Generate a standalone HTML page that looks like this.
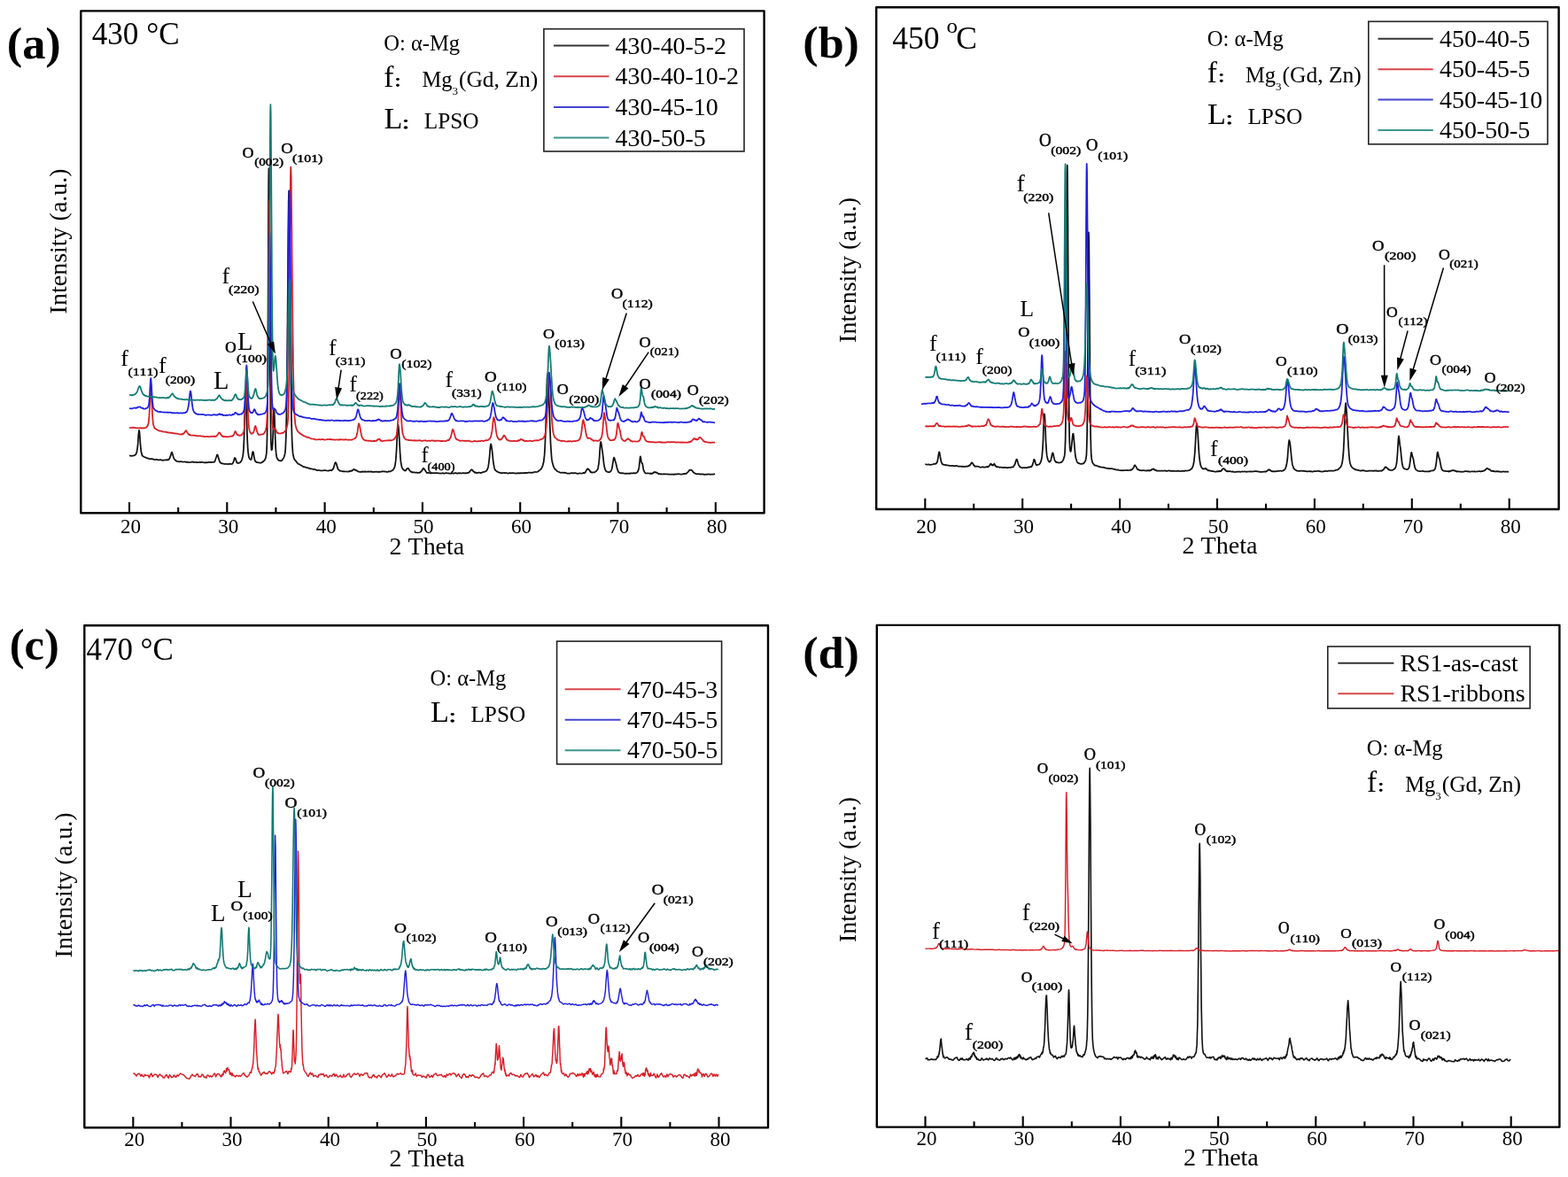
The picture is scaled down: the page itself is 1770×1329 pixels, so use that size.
<!DOCTYPE html>
<html><head><meta charset="utf-8"><title>XRD patterns</title>
<style>html,body{margin:0;padding:0;background:#fff;}svg{display:block;}text{font-kerning:none;}.s{stroke:#000;stroke-width:0.45px;}</style>
</head><body>
<svg width="1770" height="1329" viewBox="0 0 1770 1329" font-family="'Liberation Serif','Times New Roman',serif">
<rect width="1770" height="1329" fill="#fff"/>
<polyline fill="none" stroke="#111" stroke-width="1.75" stroke-linejoin="round" points="146.0,514.4 147.0,514.5 148.0,514.9 149.0,514.7 150.0,514.6 151.0,514.5 152.0,513.9 152.9,513.4 152.9,513.5 153.2,513.4 153.6,512.4 153.9,511.7 153.9,511.5 154.3,510.9 154.6,509.5 154.9,507.1 155.0,507.4 155.3,504.7 155.7,500.9 155.9,497.2 156.0,495.9 156.3,491.0 156.7,487.5 156.9,486.0 157.0,485.9 157.4,487.4 157.7,491.0 157.9,493.8 158.1,496.0 158.4,500.9 158.8,504.7 158.9,506.2 159.1,507.8 159.4,510.1 159.8,511.7 159.9,511.9 160.1,513.1 160.5,514.2 160.8,514.8 160.9,514.8 161.2,514.9 161.9,515.4 162.9,516.0 163.9,516.3 164.9,517.0 165.9,517.2 166.8,517.7 167.8,517.7 168.8,518.2 169.8,518.4 170.8,518.0 171.8,518.1 172.8,518.6 173.8,518.7 174.8,519.1 175.8,519.0 176.8,518.7 177.8,519.1 178.8,519.4 179.8,519.3 180.7,519.1 181.7,519.2 182.7,519.7 183.7,519.9 184.7,519.5 185.7,519.5 186.7,519.3 187.7,519.2 188.7,519.5 189.0,519.3 189.4,519.3 189.7,519.3 189.8,519.0 190.3,519.1 190.7,518.5 191.1,518.2 191.5,517.3 191.7,517.0 191.9,516.3 192.3,515.1 192.7,514.4 192.7,514.2 193.2,512.4 193.6,511.4 193.6,510.9 194.0,510.6 194.4,511.4 194.6,512.1 194.8,512.3 195.2,514.3 195.6,515.5 196.0,516.7 196.5,518.0 196.6,518.2 196.9,518.5 197.3,518.9 197.6,519.1 197.7,519.5 198.1,519.7 198.5,520.2 198.6,520.1 198.9,520.3 199.6,520.9 200.6,521.0 201.6,521.2 202.6,521.5 203.6,521.2 204.6,521.1 205.6,521.5 206.6,521.7 207.5,521.5 208.5,521.3 209.5,521.6 210.5,521.9 211.5,521.6 212.5,522.0 213.5,522.1 214.5,522.0 215.5,521.9 216.5,521.6 217.5,521.4 218.5,522.0 219.5,521.8 220.5,522.0 221.4,521.8 222.4,522.1 223.4,522.2 224.4,522.0 225.4,521.8 226.4,522.1 227.4,521.8 228.4,521.8 229.4,522.0 230.4,522.3 231.4,522.3 232.4,522.1 233.4,522.4 234.4,522.1 235.3,521.9 236.3,521.9 237.3,522.1 238.3,521.9 239.3,521.8 240.3,521.8 240.7,521.9 241.1,521.5 241.3,521.5 241.5,521.7 242.0,521.7 242.3,521.2 242.4,521.1 242.8,520.3 243.2,519.0 243.3,518.6 243.6,517.4 244.0,516.5 244.3,515.7 244.4,515.4 244.9,513.7 245.3,513.4 245.7,513.9 246.1,515.2 246.3,515.6 246.5,516.9 246.9,517.9 247.3,519.1 247.3,519.5 247.8,520.7 248.2,521.5 248.2,521.6 248.6,522.1 249.0,522.6 249.2,522.5 249.4,522.6 249.8,523.1 250.2,523.3 251.2,523.3 252.2,523.7 253.2,523.9 254.2,523.9 255.2,524.0 256.2,523.9 257.2,524.0 258.2,524.0 259.2,523.6 260.2,523.8 261.2,524.0 261.8,523.9 262.1,523.8 262.1,523.5 262.4,523.5 262.6,523.2 262.9,522.8 263.1,522.7 263.2,522.2 263.5,521.9 263.7,520.8 264.0,520.1 264.1,519.7 264.3,518.8 264.6,518.0 264.8,517.1 265.1,516.9 265.4,517.4 265.7,517.6 266.0,518.1 266.1,518.7 266.2,519.4 266.5,520.1 266.8,520.8 267.1,521.8 267.1,522.0 267.3,522.2 267.6,522.7 267.9,522.6 268.1,522.8 268.2,522.6 268.4,522.6 269.1,522.9 270.1,522.7 271.1,522.2 272.1,520.9 273.1,519.1 273.6,517.3 273.9,515.8 274.1,515.2 274.2,514.5 274.5,512.3 274.8,509.0 275.1,506.0 275.1,504.2 275.4,497.6 275.7,489.1 276.0,478.2 276.3,465.4 276.7,452.7 277.0,443.3 277.0,441.7 277.3,439.9 277.6,443.2 277.9,451.1 278.0,456.4 278.2,461.1 278.5,472.6 278.8,484.1 279.0,491.5 279.1,493.3 279.4,500.6 279.7,505.8 280.0,509.9 280.0,509.8 280.3,512.1 280.6,514.2 280.9,515.4 281.0,516.3 282.0,518.3 282.2,518.4 282.5,518.5 282.8,518.9 283.0,518.9 283.0,519.1 283.3,518.9 283.6,518.6 283.9,518.1 284.0,517.6 284.2,516.5 284.4,515.1 284.7,513.2 285.0,511.2 285.3,510.2 285.5,510.0 285.8,510.3 286.0,510.8 286.1,511.3 286.4,513.0 286.6,514.6 286.9,516.3 287.0,516.8 287.2,517.7 287.5,519.1 287.7,520.1 288.0,520.1 288.0,520.6 288.3,521.1 288.6,521.0 288.8,521.3 288.9,521.5 289.9,522.2 290.9,522.2 291.9,522.3 292.9,522.5 293.9,522.5 294.9,522.5 295.9,521.9 296.9,521.4 297.9,520.4 298.9,519.4 299.9,517.2 300.9,511.3 300.9,510.7 301.1,507.2 301.3,502.3 301.5,493.8 301.7,480.0 301.9,469.4 302.0,458.2 302.2,427.1 302.4,386.3 302.6,337.2 302.8,283.8 302.8,266.5 303.0,235.3 303.2,201.6 303.4,190.2 303.6,199.2 303.8,221.9 303.8,226.0 304.0,253.1 304.2,290.0 304.4,330.0 304.6,370.2 304.8,405.0 304.8,407.1 305.1,437.6 305.3,461.9 305.5,479.6 305.7,491.7 305.8,497.7 305.9,499.5 306.3,506.3 306.5,508.2 306.8,508.1 306.8,507.9 307.0,507.6 307.3,506.0 307.5,503.7 307.8,499.9 307.8,498.7 308.0,494.4 308.3,487.1 308.5,478.2 308.7,469.4 308.8,468.0 309.0,463.4 309.2,461.0 309.5,463.4 309.7,468.1 309.8,469.0 310.0,473.5 310.2,480.1 310.5,487.7 310.7,494.9 310.8,496.5 311.0,500.8 311.2,506.0 311.5,509.6 311.7,512.1 311.8,512.8 312.0,514.2 312.2,515.5 312.8,517.6 313.8,519.0 314.8,519.9 315.8,520.1 316.7,520.4 317.7,520.3 318.7,519.2 319.7,518.0 320.7,515.8 321.5,512.9 321.7,511.9 321.9,510.8 322.3,506.3 322.6,498.9 322.7,497.3 323.0,487.0 323.4,468.8 323.7,450.0 323.8,441.5 324.2,404.4 324.6,359.0 324.7,345.0 325.0,309.5 325.3,262.4 325.7,232.0 325.7,228.5 326.1,215.7 326.5,227.0 326.7,237.8 326.9,257.4 327.3,300.5 327.7,348.3 328.1,393.7 328.4,431.7 328.7,449.4 328.8,460.8 329.2,481.5 329.6,495.0 329.6,496.4 330.0,503.9 330.4,509.4 330.6,511.9 330.8,512.9 331.6,516.8 332.6,519.1 333.6,520.1 334.6,521.6 335.6,522.7 336.6,523.7 337.6,524.1 338.6,524.5 339.6,525.5 340.6,525.7 341.6,526.6 342.6,527.2 343.5,527.2 344.5,527.4 345.5,528.0 346.5,528.1 347.5,528.1 348.5,528.8 349.5,528.9 350.5,529.4 351.5,529.3 352.5,529.5 353.5,530.0 354.5,529.8 355.5,530.0 356.5,530.4 357.4,530.9 358.4,531.2 359.4,530.8 360.4,531.0 361.4,531.3 362.4,531.3 363.4,531.5 364.4,531.3 365.4,531.1 366.4,531.1 367.4,531.1 368.4,531.4 369.4,531.5 370.4,531.6 371.3,531.3 372.3,531.1 373.3,530.9 373.8,531.2 374.2,531.4 374.3,531.4 374.6,530.8 375.0,530.2 375.3,530.4 375.4,530.2 375.8,529.9 376.3,528.9 376.3,528.8 376.7,527.9 377.1,526.6 377.3,525.9 377.5,524.9 377.9,523.7 378.3,522.9 378.3,522.5 378.7,522.1 379.1,522.7 379.3,522.8 379.6,523.3 380.0,524.5 380.3,525.7 380.4,525.8 380.8,527.6 381.2,528.8 381.3,529.0 381.6,529.8 382.0,530.3 382.3,530.4 382.5,530.6 382.9,530.9 383.3,531.4 383.3,531.5 383.7,531.3 384.2,531.7 385.2,532.0 386.2,532.1 387.2,532.3 388.2,532.1 389.2,532.4 390.2,532.5 391.2,532.4 392.2,532.5 393.2,532.5 394.2,532.2 394.7,532.3 395.1,531.8 395.2,531.8 395.6,531.9 396.0,531.5 396.2,531.6 396.4,531.8 396.8,531.8 397.2,531.4 397.2,531.7 397.6,531.5 398.0,530.9 398.1,530.9 398.4,530.6 398.9,530.2 399.1,529.8 399.3,530.1 399.7,530.0 400.1,530.1 400.1,530.1 400.5,530.6 400.9,530.3 401.1,530.6 401.3,531.0 401.8,531.1 402.1,531.3 402.2,531.1 402.6,531.3 403.0,531.6 403.1,531.5 403.4,531.7 403.8,532.2 404.1,532.3 404.2,532.3 404.7,532.6 405.1,532.5 406.1,532.9 407.1,532.8 408.1,532.9 409.1,532.4 410.1,532.6 411.1,532.8 412.0,532.4 413.0,532.8 414.0,532.5 415.0,532.6 416.0,532.4 417.0,532.6 418.0,532.7 419.0,532.4 420.0,532.9 421.0,532.8 422.0,532.8 423.0,532.9 424.0,532.7 424.9,532.6 425.9,532.8 426.9,532.9 427.9,532.7 428.9,532.9 429.9,532.7 430.9,532.4 431.9,532.4 432.9,532.3 433.9,532.3 434.9,532.7 435.9,532.6 436.9,532.8 437.9,532.8 438.8,532.2 439.8,532.5 440.8,532.4 441.8,531.5 442.8,531.3 443.8,530.3 444.7,529.0 444.8,529.1 445.1,528.1 445.5,527.1 445.8,526.1 445.9,525.9 446.2,523.6 446.6,520.9 446.8,519.3 447.0,516.7 447.4,510.8 447.8,504.0 448.2,495.8 448.6,487.5 448.8,483.4 448.9,481.5 449.3,479.2 449.7,481.2 449.8,481.9 450.1,485.6 450.5,491.1 450.8,496.1 450.9,498.0 451.3,505.3 451.6,511.5 451.8,513.4 452.0,517.1 452.4,520.9 452.7,523.1 452.8,523.2 453.2,525.7 453.6,527.3 453.7,527.8 454.0,528.2 454.7,529.5 455.4,530.4 455.7,530.7 455.8,530.8 456.2,531.1 456.6,531.4 456.7,531.0 457.0,531.0 457.5,531.4 457.7,531.5 457.9,531.5 458.3,530.7 458.7,530.1 459.1,529.6 459.5,529.2 459.7,529.2 459.9,528.8 460.4,528.9 460.7,528.8 460.8,528.7 461.2,529.5 461.6,530.1 461.7,530.3 462.0,530.6 462.4,531.2 462.7,531.3 462.8,531.5 463.3,532.2 463.7,532.7 464.1,532.6 464.5,532.6 464.7,533.0 464.9,533.2 465.3,533.4 465.6,533.1 466.6,533.3 467.6,533.3 468.6,533.7 469.6,533.6 470.6,533.7 471.6,534.0 472.6,533.7 473.0,533.6 473.5,533.7 473.6,533.9 473.9,533.6 474.3,533.3 474.6,532.9 474.7,533.2 475.1,532.6 475.5,532.1 475.6,532.2 475.9,531.9 476.3,531.4 476.6,530.8 476.8,530.7 477.2,529.6 477.6,528.9 477.6,529.2 478.0,528.7 478.4,528.9 478.6,529.3 478.8,529.7 479.2,530.1 479.5,530.3 479.7,530.6 480.1,531.5 480.5,532.0 480.5,531.9 480.9,532.6 481.3,533.0 481.5,533.5 481.7,533.7 482.1,534.0 482.5,533.8 482.6,533.9 483.0,533.8 483.5,533.7 484.5,533.8 485.5,534.3 486.5,534.5 487.5,534.2 488.5,534.1 489.5,534.1 490.5,534.1 491.5,534.1 492.5,534.1 493.4,534.0 494.4,534.2 495.4,534.5 496.4,534.4 497.4,534.6 498.4,534.5 499.4,534.2 500.4,534.4 501.4,534.7 502.4,534.4 503.4,534.0 504.4,534.2 505.4,534.3 506.4,534.4 507.3,534.7 508.3,534.6 509.3,534.7 510.3,534.2 511.3,534.3 512.3,534.6 513.3,534.2 514.3,534.0 515.3,534.3 516.3,534.6 517.3,534.2 518.3,534.4 519.3,534.1 520.2,534.4 521.2,534.5 522.2,534.2 523.2,534.0 524.2,534.3 525.2,534.2 526.2,534.3 527.1,534.1 527.2,533.9 527.5,534.2 527.9,534.1 528.2,533.9 528.3,533.8 528.7,533.8 529.2,533.6 529.2,533.7 529.6,533.1 530.0,532.9 530.2,532.6 530.4,532.4 530.8,531.7 531.2,531.2 531.2,531.2 531.6,530.7 532.0,530.4 532.2,530.2 532.5,530.4 532.9,530.8 533.2,530.8 533.3,530.8 533.7,531.1 534.1,531.9 534.1,532.3 534.5,532.5 534.9,532.6 535.1,532.7 535.4,532.9 535.8,533.1 536.1,533.8 536.2,533.4 536.6,533.5 537.0,533.4 537.1,533.7 538.1,534.1 539.1,533.8 540.1,533.6 541.1,533.7 542.1,533.8 543.1,534.1 544.1,533.5 545.1,533.2 546.1,532.9 547.1,532.6 548.0,532.2 549.0,531.7 549.1,531.7 549.6,531.0 550.0,530.2 550.0,530.1 550.4,529.2 550.8,528.3 551.0,527.3 551.2,526.5 551.6,524.2 552.0,521.1 552.0,520.6 552.5,516.7 552.9,511.9 553.0,509.9 553.3,506.6 553.7,503.2 554.0,501.8 554.1,501.4 554.5,502.2 554.9,505.0 555.0,505.5 555.4,507.9 555.8,511.4 556.0,513.5 556.2,515.2 556.6,519.5 557.0,522.7 557.0,522.6 557.4,525.0 557.8,527.2 558.0,527.8 558.2,529.0 558.7,530.2 559.0,530.8 559.1,530.7 560.0,531.6 560.9,532.4 561.9,532.8 562.9,533.5 563.9,533.6 564.9,533.9 565.9,534.3 566.9,534.0 567.9,534.0 568.9,533.8 569.9,534.2 570.9,533.8 571.9,534.2 572.9,534.5 573.9,534.6 574.8,534.1 575.8,534.0 576.8,534.3 577.8,534.0 578.8,534.1 579.8,534.1 580.8,534.5 581.8,534.4 582.8,534.6 583.8,534.2 584.8,534.4 585.8,534.2 586.8,534.5 587.8,534.0 588.7,534.3 589.7,534.0 590.7,534.1 591.7,534.1 592.7,533.8 593.7,534.2 594.7,533.9 595.7,533.8 596.7,533.5 597.7,533.5 598.7,533.6 599.7,533.8 600.7,533.6 601.6,533.6 602.6,533.2 603.6,533.0 604.6,532.9 605.6,533.0 606.6,532.8 607.6,532.3 608.6,531.3 609.6,530.6 610.6,529.8 611.6,528.1 612.6,525.9 612.8,525.2 613.2,523.2 613.6,522.1 613.7,521.6 614.1,518.1 614.6,513.9 615.0,507.7 615.4,499.3 615.5,496.8 615.9,488.0 616.3,473.7 616.5,465.5 616.8,457.0 617.2,439.7 617.5,429.1 617.6,426.8 618.1,421.9 618.5,425.7 619.0,433.3 619.4,442.8 619.5,445.1 619.8,453.9 620.3,466.4 620.5,472.9 620.7,479.4 621.2,491.7 621.5,499.5 621.6,501.4 622.1,508.9 622.5,514.9 622.9,518.9 623.4,521.6 623.5,522.1 624.5,525.9 625.5,528.1 626.5,529.7 627.5,530.5 628.5,531.8 629.4,532.2 630.4,532.7 631.4,533.1 632.4,533.5 633.4,533.8 634.4,533.7 635.4,533.7 636.4,533.8 637.4,533.6 638.4,533.8 639.4,534.2 640.4,534.6 641.4,534.6 642.3,534.6 643.3,534.6 644.3,534.2 645.3,534.2 646.3,534.2 647.3,534.4 648.3,534.2 649.3,534.2 650.3,534.4 651.3,534.6 652.3,534.8 653.3,534.7 654.3,534.3 655.3,534.5 656.2,534.7 657.2,534.5 658.2,534.1 658.3,534.1 658.8,533.8 659.2,534.0 659.2,534.3 659.6,534.0 660.0,533.8 660.2,533.8 660.4,533.3 660.8,533.2 661.2,532.7 661.2,532.3 661.7,531.4 662.1,530.6 662.2,530.6 662.5,530.2 662.9,529.5 663.2,529.6 663.3,529.3 663.7,529.4 664.1,529.5 664.2,530.0 664.5,530.0 665.0,530.7 665.2,530.9 665.4,531.1 665.8,531.6 666.2,531.8 666.2,532.2 666.6,532.9 667.0,533.3 667.2,533.2 667.4,533.0 667.9,533.4 668.2,533.3 668.3,533.6 669.2,533.4 670.1,533.4 671.1,533.4 672.1,532.6 673.1,532.0 673.6,531.3 674.0,530.6 674.1,530.4 674.3,530.5 674.7,529.8 675.1,528.4 675.5,526.2 675.9,523.8 676.1,522.0 676.3,520.2 676.7,515.7 677.0,510.6 677.1,509.4 677.4,504.6 677.8,500.4 678.1,498.8 678.2,498.8 678.6,500.2 679.0,502.6 679.1,503.6 679.4,505.3 679.7,507.8 680.1,509.8 680.1,510.4 680.5,513.1 680.9,517.0 681.1,518.3 681.3,520.8 681.7,523.8 682.1,526.1 682.4,527.8 682.8,529.3 683.1,530.0 684.0,531.8 685.0,532.6 686.0,532.8 687.0,533.2 688.0,533.1 688.5,533.0 688.8,532.5 689.0,532.2 689.2,532.1 689.6,531.9 690.0,531.1 690.4,530.1 690.8,528.8 691.0,528.1 691.2,527.1 691.5,524.5 691.9,522.2 692.0,522.1 692.3,519.8 692.7,517.6 693.0,516.9 693.1,516.6 693.5,517.3 693.9,518.4 694.0,518.7 694.2,519.8 694.6,521.1 695.0,522.0 695.0,522.0 695.4,523.8 695.8,525.6 696.0,526.2 696.2,527.2 696.6,528.8 696.9,529.9 697.3,530.8 697.7,532.0 697.9,532.6 698.9,533.5 699.9,534.1 700.9,534.1 701.9,534.4 702.9,534.2 703.9,534.5 704.9,534.6 705.9,534.9 706.9,534.5 707.9,534.8 708.9,534.5 709.9,534.6 710.8,534.9 711.8,534.4 712.8,534.4 713.8,534.3 714.8,534.3 715.8,534.0 716.8,534.4 717.8,534.3 718.8,533.7 719.2,533.3 719.5,533.1 719.8,532.5 719.8,532.2 720.1,532.2 720.4,531.4 720.7,530.4 720.8,530.7 721.0,529.6 721.4,527.4 721.7,524.7 721.8,523.6 722.0,522.1 722.3,519.2 722.6,516.3 722.8,515.7 722.9,515.4 723.2,516.3 723.5,518.0 723.8,520.2 723.8,520.7 724.1,521.7 724.4,522.6 724.7,522.7 724.7,523.2 725.0,523.1 725.3,523.9 725.6,525.7 725.7,526.3 725.9,527.6 726.2,529.4 726.5,530.7 726.7,531.0 727.7,533.3 728.7,534.3 729.7,534.5 730.7,534.3 731.7,534.4 732.7,534.5 733.7,534.8 733.9,534.6 734.3,534.5 734.7,534.4 734.7,534.7 735.1,534.9 735.6,534.7 735.7,534.8 736.0,534.9 736.4,534.7 736.7,534.3 736.8,534.1 737.2,534.2 737.6,533.9 737.6,533.7 738.0,533.5 738.4,532.9 738.6,533.3 738.9,533.2 739.3,533.2 739.6,533.4 739.7,533.1 740.1,533.4 740.5,533.5 740.6,533.4 740.9,533.9 741.3,533.7 741.6,533.8 741.8,534.2 742.2,534.2 742.6,534.3 742.6,534.5 743.0,534.5 743.4,535.0 743.6,535.3 743.8,534.8 744.6,535.0 745.6,535.3 746.6,535.2 747.6,535.5 748.6,535.4 749.6,535.1 750.6,535.3 751.5,535.4 752.5,535.3 753.5,535.4 754.5,535.6 755.5,535.5 756.5,535.5 757.5,535.7 758.5,535.7 759.5,535.5 760.5,535.8 761.5,535.4 762.5,535.6 763.5,535.3 764.5,535.4 765.4,535.2 766.4,535.2 767.4,535.5 768.4,535.6 769.4,535.7 770.4,535.3 771.4,535.2 772.4,534.9 772.5,535.1 773.1,535.0 773.4,534.6 773.6,534.8 774.2,534.9 774.4,534.8 774.7,534.9 775.3,534.3 775.4,534.0 775.8,533.5 776.4,533.2 776.9,532.6 777.4,532.0 777.5,531.8 778.0,531.3 778.3,530.6 778.6,530.8 779.1,530.5 779.3,530.5 779.7,530.8 780.2,530.9 780.3,530.7 780.8,531.1 781.3,531.4 781.9,532.0 782.3,532.8 782.4,533.0 783.0,533.4 783.3,533.8 783.5,533.7 784.1,534.5 784.3,534.3 784.6,534.4 785.2,534.5 785.3,534.8 785.7,535.2 786.3,535.4 787.3,535.1 788.3,535.2 789.3,535.3 790.3,535.2 791.3,535.7 792.2,535.3 793.2,535.4 794.2,535.7 795.2,536.0 796.2,535.6 797.2,535.6 798.2,535.8 799.2,535.4 800.2,535.4 801.2,535.8 802.2,535.5 803.2,535.5 804.2,535.5 805.2,535.6 806.1,535.4 807.1,535.2"/>
<polyline fill="none" stroke="#da1d25" stroke-width="1.75" stroke-linejoin="round" points="146.0,482.9 147.0,483.0 148.0,483.1 149.0,482.8 150.0,482.6 151.0,482.8 152.0,482.8 152.9,483.2 153.9,483.3 154.9,483.4 155.9,483.3 156.9,483.4 157.9,483.2 158.9,483.3 159.9,483.2 160.9,483.6 161.9,483.2 162.9,483.5 163.9,483.0 164.9,482.8 165.9,482.0 166.6,480.8 166.8,480.6 166.9,480.0 167.2,478.9 167.5,478.0 167.8,476.1 168.1,473.1 168.4,469.9 168.7,465.0 168.8,462.9 169.1,458.0 169.4,450.1 169.7,442.1 169.8,438.6 170.0,436.0 170.3,434.0 170.6,436.1 170.8,440.7 170.9,442.3 171.2,449.9 171.5,457.6 171.8,464.3 171.8,464.9 172.1,469.5 172.4,473.2 172.7,476.4 172.8,477.6 173.0,479.0 173.3,480.4 173.6,481.2 173.8,481.6 173.9,482.1 174.8,483.7 175.8,484.4 176.8,484.9 177.8,485.5 178.8,486.0 179.8,486.6 180.7,486.7 181.7,486.6 182.7,487.2 183.7,487.3 184.7,487.5 185.7,487.5 186.7,487.7 187.7,487.9 188.7,488.4 189.7,488.2 190.7,488.5 191.7,488.5 192.7,488.9 193.6,488.7 194.6,488.9 195.6,489.1 196.6,489.5 197.6,489.3 198.6,489.6 199.6,489.7 200.6,489.8 201.6,490.0 202.6,490.5 203.6,490.4 204.6,490.7 205.0,490.2 205.4,490.5 205.6,490.3 205.8,490.0 206.3,490.2 206.6,490.3 206.7,489.8 207.1,489.5 207.5,489.5 207.5,489.3 207.9,488.8 208.3,488.0 208.5,487.6 208.7,487.6 209.1,487.3 209.5,487.0 209.6,486.7 210.0,486.1 210.4,486.3 210.5,486.8 210.8,487.4 211.2,488.2 211.5,488.4 211.6,488.7 212.0,489.3 212.5,489.9 212.5,489.8 212.9,490.5 213.3,490.9 213.5,490.6 213.7,490.6 214.1,491.1 214.5,491.0 214.5,491.3 214.9,491.3 215.5,491.5 216.5,491.7 217.5,491.5 218.5,491.5 219.5,491.6 220.5,491.9 221.4,492.2 222.4,492.0 223.4,492.4 224.4,492.3 225.4,492.2 226.4,492.2 227.4,492.7 228.4,492.6 229.4,492.7 230.4,492.9 231.4,493.1 232.4,493.0 233.4,492.8 234.4,492.8 235.3,493.1 236.3,493.1 237.3,493.0 238.3,492.8 239.3,492.7 240.3,492.9 241.3,492.9 242.3,492.4 242.5,492.7 242.9,492.9 243.3,492.9 243.3,493.0 243.8,492.9 244.2,492.5 244.3,492.5 244.6,492.1 245.0,491.5 245.3,491.2 245.4,491.0 245.8,490.8 246.2,490.1 246.3,490.0 246.6,489.3 247.1,488.4 247.3,488.4 247.5,488.5 247.9,488.6 248.2,488.9 248.3,489.0 248.7,489.7 249.1,490.7 249.2,490.6 249.5,490.9 250.0,491.5 250.2,492.0 250.4,492.3 250.8,492.6 251.2,493.0 251.2,492.8 251.6,492.5 252.0,492.7 252.2,492.8 252.4,492.7 253.2,493.1 254.2,493.1 255.2,493.0 256.2,493.1 257.2,493.5 258.2,493.0 259.2,492.9 260.2,492.7 261.2,492.5 261.5,492.5 261.9,492.3 262.1,492.7 262.2,492.6 262.6,492.5 262.9,491.9 263.1,491.8 263.3,491.8 263.6,491.5 264.0,490.6 264.1,490.2 264.3,490.1 264.6,489.3 265.0,488.0 265.1,487.7 265.3,487.5 265.7,487.0 266.0,487.3 266.1,487.5 266.4,488.2 266.7,488.8 267.1,489.6 267.1,489.5 267.4,490.3 267.7,490.6 268.1,491.1 268.1,491.0 268.4,491.2 268.8,491.3 269.1,491.4 269.1,491.6 269.5,491.5 269.8,491.4 270.1,491.8 271.1,491.5 272.1,491.5 273.1,490.8 274.1,489.5 275.1,487.5 275.3,486.7 275.6,484.9 275.9,482.8 276.0,481.5 276.2,480.6 276.4,476.8 276.7,471.8 277.0,464.7 277.0,463.1 277.3,455.8 277.5,445.5 277.8,435.2 278.0,428.7 278.1,427.5 278.4,425.1 278.6,427.2 278.9,432.7 279.0,435.6 279.2,441.0 279.5,450.0 279.7,458.5 280.0,466.6 280.3,473.0 280.6,477.6 280.8,480.7 281.0,482.4 281.1,483.0 281.4,484.5 281.7,486.2 282.0,487.4 283.0,488.9 284.0,489.9 284.2,489.5 284.5,489.5 284.8,489.3 285.0,489.2 285.2,489.1 285.5,489.2 285.9,488.6 286.0,488.3 286.2,487.7 286.6,486.8 286.9,485.9 287.0,485.7 287.3,484.0 287.6,482.7 287.9,481.5 288.0,481.4 288.3,481.0 288.6,481.5 288.9,482.6 289.0,482.6 289.3,484.1 289.7,485.5 289.9,486.7 290.0,486.8 290.4,487.9 290.7,488.8 290.9,489.4 291.0,489.4 291.4,490.2 291.7,490.4 291.9,490.7 292.1,490.7 292.4,491.0 292.9,491.0 293.9,490.9 294.9,490.6 295.9,490.4 296.9,490.1 297.9,489.6 298.9,488.0 299.9,485.8 300.8,481.9 300.9,481.0 301.0,479.3 301.3,475.2 301.6,468.6 301.9,457.7 302.1,441.3 302.4,417.1 302.7,385.0 302.8,362.3 303.0,345.8 303.2,303.4 303.5,263.5 303.8,235.6 303.8,232.5 304.1,226.1 304.3,234.2 304.6,256.9 304.8,282.1 304.9,289.2 305.2,326.7 305.4,364.3 305.7,397.7 305.8,409.7 306.0,425.6 306.2,442.7 306.3,446.2 306.5,460.6 306.6,460.8 306.8,469.5 306.9,472.0 307.1,475.8 307.2,478.1 307.4,479.0 307.6,480.8 307.8,482.2 307.9,483.0 308.3,484.1 308.6,484.6 308.8,484.5 309.0,484.4 309.3,484.5 309.7,484.5 309.8,484.2 310.0,483.8 310.3,484.0 310.7,484.4 310.8,484.5 311.0,484.8 311.4,485.6 311.7,486.5 311.8,486.4 312.1,487.2 312.4,488.1 312.8,488.6 312.8,488.3 313.1,488.6 313.4,488.6 313.8,489.1 313.8,489.2 314.1,489.1 314.5,489.3 314.8,489.4 315.8,489.5 316.7,489.4 317.7,489.1 318.7,488.8 319.7,488.8 320.7,487.9 321.7,487.0 322.7,485.5 323.7,482.9 324.6,478.7 324.7,477.6 324.9,475.7 325.2,471.1 325.5,463.6 325.7,456.9 325.8,451.6 326.1,432.9 326.4,406.2 326.7,373.9 326.7,370.3 326.9,343.5 327.0,326.6 327.2,301.1 327.3,279.2 327.4,258.1 327.6,235.2 327.7,228.5 327.7,221.9 327.9,202.7 328.0,196.9 328.2,188.7 328.3,188.6 328.5,193.3 328.5,194.3 328.7,200.3 328.8,211.9 329.1,236.4 329.1,239.1 329.4,265.0 329.4,270.6 329.6,293.9 329.7,302.1 329.9,321.6 330.0,332.5 330.2,348.7 330.3,361.8 330.5,373.7 330.6,387.2 330.8,395.6 330.9,408.5 331.0,413.7 331.2,426.3 331.3,429.2 331.6,440.9 331.6,442.0 331.6,444.1 331.9,452.9 332.1,461.3 332.4,467.2 332.6,471.3 332.7,472.2 333.0,475.1 333.2,477.8 333.5,479.6 333.6,480.1 334.6,484.0 335.6,486.3 336.6,487.6 337.6,488.5 338.6,489.3 339.6,490.1 340.6,490.6 341.6,491.1 342.6,492.0 343.5,492.3 344.5,492.7 345.5,493.2 346.5,493.8 347.5,493.7 348.5,493.9 349.5,494.5 350.5,495.0 351.5,495.4 352.5,495.5 353.5,495.6 354.5,495.6 355.5,496.3 356.5,496.4 357.4,496.3 358.4,496.5 359.4,496.2 360.4,496.2 361.4,496.5 362.4,496.1 363.4,496.2 364.4,496.0 365.4,496.4 366.4,496.6 367.4,496.5 368.4,496.3 369.4,496.0 370.4,496.1 371.3,496.1 372.3,496.1 373.3,495.9 374.3,496.4 375.3,496.4 376.3,496.4 377.3,496.6 378.3,496.7 379.3,496.5 380.3,496.4 381.3,496.6 382.3,496.4 383.3,496.6 384.2,496.1 385.2,496.4 386.2,496.3 387.2,496.4 388.2,496.6 389.2,496.3 390.2,496.2 391.2,496.5 392.2,496.6 393.2,496.5 394.2,496.6 395.2,496.6 396.2,496.7 397.2,496.6 398.1,496.2 399.1,495.8 400.1,495.2 400.2,495.1 400.7,494.7 401.1,494.9 401.1,494.6 401.5,494.3 401.9,493.4 402.1,493.3 402.3,492.8 402.7,491.1 403.1,489.6 403.1,489.6 403.6,487.4 404.0,484.1 404.1,483.0 404.4,481.2 404.8,478.8 405.1,478.2 405.2,478.3 405.6,479.1 406.0,481.0 406.1,481.3 406.4,483.0 406.9,485.9 407.1,487.2 407.3,488.1 407.7,490.0 408.1,491.9 408.1,492.0 408.5,493.1 408.9,494.2 409.1,494.5 409.3,494.8 409.8,495.5 410.1,495.8 410.2,495.9 411.1,496.8 412.0,497.3 413.0,497.2 414.0,497.6 415.0,497.5 416.0,497.9 417.0,497.6 418.0,497.6 419.0,498.1 420.0,498.2 421.0,498.2 422.0,497.9 422.3,497.7 422.7,498.1 423.0,497.7 423.1,497.6 423.5,497.6 424.0,497.9 424.4,497.8 424.8,497.9 424.9,497.8 425.2,497.4 425.6,497.3 425.9,496.7 426.0,496.3 426.4,496.4 426.9,496.3 426.9,496.2 427.3,495.9 427.7,495.7 427.9,495.7 428.1,495.6 428.5,495.8 428.9,496.4 429.3,497.1 429.7,497.6 429.9,497.5 430.2,497.6 430.6,497.6 430.9,497.8 431.0,497.9 431.4,498.2 431.8,498.2 431.9,498.1 432.2,498.0 432.9,497.7 433.9,497.7 434.9,497.7 435.9,497.5 436.9,497.3 437.9,497.4 438.8,497.2 439.8,497.3 440.8,497.1 441.8,497.3 442.8,497.0 443.8,496.5 444.8,495.8 445.8,494.8 446.8,493.0 446.8,493.4 447.2,492.7 447.5,491.4 447.8,490.2 447.9,489.3 448.2,487.2 448.6,483.8 448.8,481.3 448.9,479.5 449.3,473.4 449.6,465.9 449.8,462.1 449.9,457.4 450.3,448.8 450.6,441.8 450.8,440.2 451.0,439.7 451.3,441.6 451.7,445.8 451.8,446.9 452.0,450.8 452.4,457.7 452.7,464.7 452.7,465.8 453.0,471.5 453.4,477.3 453.7,482.2 454.1,485.6 454.4,488.6 454.7,490.0 454.8,490.0 455.1,491.3 455.7,493.0 456.7,495.0 457.7,496.0 458.7,496.5 459.7,496.7 460.7,496.6 461.7,497.1 462.7,497.0 463.7,497.0 464.7,497.1 465.6,497.6 466.6,497.3 467.6,497.1 468.6,497.6 469.6,497.2 470.6,497.6 471.6,497.3 472.6,497.3 473.6,497.2 474.6,497.4 475.6,497.8 476.6,497.9 477.6,497.8 478.6,497.4 479.5,497.3 480.5,497.3 481.5,497.7 482.5,498.0 483.5,497.5 484.5,497.5 485.5,497.9 486.5,497.6 487.5,497.4 488.5,497.4 489.5,497.8 490.5,497.6 491.5,497.9 492.5,497.5 493.4,497.8 494.4,497.5 495.4,497.7 496.4,497.9 497.4,498.1 498.4,497.9 499.4,498.1 500.4,497.8 501.4,498.0 502.4,498.1 503.4,498.1 504.4,497.4 505.4,497.0 506.1,497.0 506.4,497.1 506.5,496.7 507.0,496.6 507.3,496.2 507.4,495.8 507.8,495.2 508.2,494.3 508.3,494.1 508.6,494.0 509.0,492.7 509.3,491.7 509.4,491.4 509.9,489.1 510.3,487.2 510.3,486.9 510.7,485.7 511.1,484.7 511.3,485.2 511.5,485.2 511.9,486.2 512.3,487.6 512.3,487.8 512.7,489.5 513.2,490.9 513.3,491.2 513.6,492.5 514.0,493.4 514.3,494.6 514.4,494.7 514.8,495.4 515.2,495.9 515.3,496.2 515.6,496.3 516.1,496.4 516.3,496.4 517.3,496.8 518.3,497.3 519.3,497.9 520.2,497.6 521.2,497.7 522.2,497.7 523.2,497.7 524.2,497.8 525.2,497.6 526.2,497.8 527.2,497.8 528.2,497.7 529.2,497.6 530.2,498.2 531.2,498.3 532.2,498.6 533.2,498.6 534.1,498.5 535.1,498.1 536.1,497.9 537.1,498.3 538.1,498.3 539.1,498.4 540.1,498.0 541.1,498.2 542.1,498.1 543.1,497.7 544.1,497.6 545.1,498.0 546.1,498.0 547.1,497.5 548.0,497.2 549.0,497.4 550.0,497.1 551.0,496.8 552.0,496.0 552.5,495.6 552.9,495.4 553.0,495.3 553.3,494.7 553.7,493.9 554.0,493.3 554.1,492.8 554.5,491.3 554.9,489.5 555.0,489.0 555.4,486.9 555.8,483.7 556.0,481.7 556.2,480.0 556.6,475.4 557.0,472.5 557.0,472.3 557.4,471.1 557.8,472.3 558.0,472.5 558.2,474.3 558.7,476.7 559.0,479.0 559.1,479.3 559.5,482.8 559.9,486.2 560.0,486.5 560.3,488.7 560.7,490.9 560.9,491.7 561.1,492.6 561.6,493.7 561.9,494.5 562.0,494.4 562.4,495.1 562.9,495.7 563.9,496.5 564.0,496.6 564.5,496.3 564.9,496.5 564.9,496.2 565.3,496.2 565.7,496.1 565.9,496.2 566.1,495.7 566.5,495.2 566.9,494.6 566.9,494.9 567.3,494.0 567.8,493.3 567.9,493.3 568.2,492.6 568.6,491.7 568.9,491.7 569.0,491.6 569.4,491.9 569.8,492.1 569.9,492.5 570.2,492.8 570.7,493.9 570.9,494.1 571.1,494.5 571.5,495.5 571.9,496.2 571.9,495.6 572.3,496.5 572.7,496.5 572.9,497.0 573.1,497.3 573.6,497.2 573.9,497.4 574.0,497.4 574.8,497.6 575.8,497.8 576.8,497.8 577.8,498.0 578.8,498.1 579.8,497.7 580.8,497.9 581.8,498.1 582.8,498.2 583.3,498.1 583.8,498.0 583.8,497.7 584.2,497.5 584.6,497.9 584.8,497.5 585.0,497.9 585.4,497.4 585.8,497.3 585.8,497.5 586.2,497.0 586.6,496.8 586.8,497.1 587.1,496.7 587.5,496.2 587.8,495.9 587.9,496.4 588.3,496.0 588.7,496.3 588.7,496.4 589.1,496.3 589.5,496.5 589.7,496.8 590.0,496.6 590.4,496.7 590.7,497.3 590.8,497.0 591.2,497.3 591.6,497.5 591.7,497.7 592.0,498.0 592.4,498.1 592.7,498.1 592.9,498.0 593.3,497.7 593.7,497.8 594.7,497.9 595.7,498.1 596.7,498.0 597.7,497.7 598.7,497.7 599.7,498.1 600.7,498.0 601.6,498.0 602.6,497.6 603.6,497.4 604.6,497.4 605.6,497.4 606.6,497.1 607.6,497.4 608.6,497.0 609.6,496.4 610.6,496.1 611.6,495.8 612.6,495.2 613.6,494.4 614.6,492.3 614.8,492.3 615.2,491.2 615.5,489.7 615.6,489.5 616.0,487.2 616.4,484.0 616.5,482.8 616.8,480.1 617.3,474.6 617.5,469.5 617.7,466.7 618.1,456.7 618.5,445.2 618.5,444.1 618.9,433.3 619.3,424.0 619.5,421.9 619.7,421.1 620.2,423.8 620.5,428.3 620.6,428.7 621.0,435.1 621.4,441.7 621.5,443.7 621.8,450.0 622.2,459.1 622.5,464.3 622.6,467.0 623.0,473.9 623.5,479.8 623.5,480.0 623.9,484.1 624.3,487.3 624.5,488.2 624.7,489.4 625.5,492.2 626.5,493.8 627.5,494.9 628.5,495.6 629.4,496.6 630.4,496.9 631.4,497.1 632.4,497.5 633.4,498.0 634.4,497.7 635.4,498.0 636.4,497.9 637.4,498.2 638.4,498.4 639.4,498.5 640.4,498.5 641.4,498.1 642.3,498.5 643.3,498.1 644.3,498.2 645.3,498.6 646.3,498.2 647.3,498.1 648.3,498.2 649.3,498.1 650.3,497.8 651.3,497.5 652.3,497.5 653.3,497.0 653.4,496.5 653.8,496.3 654.2,496.0 654.3,495.9 654.6,495.5 655.0,494.2 655.3,493.4 655.4,493.0 655.9,491.0 656.2,488.5 656.3,488.2 656.7,485.6 657.1,482.2 657.2,480.6 657.5,478.3 657.9,475.2 658.2,474.5 658.3,474.1 658.8,475.1 659.2,477.0 659.2,477.2 659.6,478.8 660.0,480.3 660.2,481.5 660.4,482.9 660.5,483.5 660.8,485.4 661.0,486.3 661.2,488.0 661.2,488.1 661.4,488.6 661.7,490.3 661.8,491.0 662.1,491.9 662.2,492.5 662.5,493.2 662.6,493.5 662.9,493.9 663.0,494.1 663.2,494.3 663.3,494.7 663.4,494.8 663.9,495.0 664.2,494.9 664.3,494.9 664.7,494.5 665.1,494.6 665.2,494.6 665.5,494.6 665.9,494.9 666.2,494.8 666.3,495.2 666.8,495.7 667.2,495.8 667.6,495.9 668.0,496.6 668.2,496.7 668.4,496.7 668.8,496.7 669.2,497.1 669.2,497.0 669.6,497.6 670.1,497.8 670.1,497.5 670.5,497.6 671.1,497.4 672.1,497.4 673.1,497.6 674.1,497.8 675.1,497.5 676.1,497.5 677.1,496.6 677.9,495.6 678.1,495.7 678.3,495.3 678.6,494.6 679.0,493.7 679.1,493.5 679.3,492.5 679.6,490.6 680.0,488.5 680.1,487.9 680.3,485.5 680.7,481.1 681.0,476.6 681.1,475.9 681.4,471.5 681.7,467.8 682.1,466.0 682.4,467.3 682.7,470.0 683.1,472.5 683.1,472.6 683.4,474.5 683.8,476.0 684.0,477.5 684.1,477.9 684.5,480.9 684.8,484.2 685.0,486.1 685.2,486.9 685.5,489.6 685.8,491.5 686.0,492.5 686.2,493.3 687.0,495.1 688.0,496.5 689.0,497.2 690.0,497.2 691.0,497.1 692.0,496.7 693.0,496.9 693.4,496.4 693.7,495.8 694.0,495.5 694.1,495.6 694.4,495.3 694.7,494.9 695.0,494.2 695.1,493.4 695.4,492.2 695.8,490.4 696.0,489.1 696.1,487.9 696.5,484.7 696.8,481.4 696.9,480.2 697.2,478.2 697.5,477.7 697.8,478.0 697.9,478.5 698.2,480.0 698.5,481.8 698.9,483.0 698.9,483.3 699.2,484.0 699.6,485.2 699.9,486.4 699.9,486.5 700.3,488.6 700.6,490.5 700.9,491.8 700.9,492.1 701.3,493.9 701.6,494.9 701.9,495.6 702.9,496.8 703.6,497.5 703.9,497.5 704.0,497.6 704.4,497.7 704.8,497.8 704.9,497.6 705.2,497.8 705.6,497.9 705.9,497.9 706.0,497.8 706.5,497.2 706.9,496.7 707.3,496.6 707.7,496.3 707.9,496.0 708.1,495.8 708.5,495.2 708.9,495.5 708.9,495.3 709.4,495.7 709.8,495.9 709.9,496.1 710.2,496.1 710.6,496.3 710.8,496.8 711.0,497.0 711.4,497.0 711.8,497.8 712.3,497.6 712.7,497.8 712.8,498.1 713.1,498.3 713.5,498.4 713.8,498.7 714.8,498.4 715.8,498.5 716.8,498.4 717.8,498.5 718.8,498.5 719.8,498.4 720.8,498.3 720.9,498.2 721.2,497.9 721.5,497.7 721.8,497.2 721.8,497.6 722.1,497.0 722.4,496.5 722.7,495.9 722.8,495.9 723.0,495.1 723.3,493.7 723.6,491.8 723.8,490.9 723.9,490.1 724.2,488.7 724.5,487.8 724.7,488.2 724.8,488.6 725.1,489.6 725.4,491.0 725.7,491.9 726.0,492.5 726.3,492.3 726.6,492.6 726.7,492.7 727.0,492.9 727.3,493.7 727.6,494.4 727.7,495.3 727.9,495.5 728.2,496.3 728.7,497.1 729.7,498.2 730.7,498.5 731.7,499.0 732.7,498.7 733.7,498.8 734.7,499.2 735.7,499.4 736.7,499.0 737.6,499.0 738.6,499.5 739.6,499.7 740.6,499.3 741.6,499.5 742.6,499.3 743.6,499.0 744.6,499.4 745.6,499.1 746.6,499.6 747.6,499.4 748.6,499.6 749.6,499.5 750.6,499.7 751.5,499.7 752.5,499.3 753.5,499.0 754.5,499.0 755.5,499.3 756.5,499.1 757.5,499.0 758.5,499.1 759.5,499.0 760.5,499.1 761.5,499.4 762.5,499.2 763.5,499.6 764.5,499.4 765.4,499.3 766.4,499.3 767.4,499.7 768.4,499.3 769.4,499.6 770.4,499.3 771.4,499.7 772.4,499.6 773.4,499.7 774.4,499.6 775.4,499.6 776.4,499.6 777.4,499.1 777.7,498.9 778.2,499.3 778.3,499.0 778.7,498.8 779.2,498.5 779.3,498.8 779.7,498.9 780.2,498.3 780.3,498.6 780.6,498.0 781.1,497.7 781.3,497.5 781.6,497.1 782.1,496.4 782.3,496.2 782.6,496.1 783.1,495.3 783.3,495.0 783.5,495.4 784.0,495.2 784.3,495.1 784.4,495.6 784.5,495.9 784.8,495.7 785.0,495.8 785.3,496.1 785.3,495.9 785.5,495.8 785.8,495.6 785.9,495.6 786.3,496.1 786.4,496.2 786.8,496.6 786.9,496.5 787.3,496.3 787.3,496.2 787.4,496.0 787.7,496.0 787.9,496.1 788.2,495.6 788.3,495.7 788.4,495.9 788.7,495.4 788.8,494.9 789.2,494.5 789.3,494.1 789.3,493.8 789.7,493.9 790.2,493.9 790.3,493.9 790.6,494.1 791.1,494.4 791.3,494.8 791.6,495.0 792.1,495.6 792.2,495.8 792.6,495.8 793.0,496.6 793.2,496.6 793.5,497.1 794.0,497.9 794.2,498.3 794.5,498.4 795.0,498.4 795.2,498.3 795.5,498.8 795.9,498.9 796.2,498.8 797.2,499.2 798.2,499.3 799.2,499.7 800.2,499.5 801.2,499.6 802.2,500.0 803.2,499.7 804.2,499.7 805.2,499.7 806.1,499.5 807.1,499.5"/>
<polyline fill="none" stroke="#1f1fe0" stroke-width="1.75" stroke-linejoin="round" points="146.0,461.0 147.0,461.2 148.0,461.3 149.0,461.4 150.0,461.0 151.0,460.7 152.0,460.5 152.6,460.5 152.9,460.8 153.0,460.5 153.4,460.6 153.9,460.4 153.9,460.4 154.3,460.4 154.7,460.6 154.9,460.5 155.1,460.1 155.5,459.8 155.9,459.5 156.3,459.6 156.8,459.5 156.9,459.5 157.2,459.4 157.6,459.4 157.9,459.6 158.0,459.6 158.4,459.5 158.8,460.1 158.9,460.0 159.2,460.4 159.6,460.6 159.9,460.6 160.1,460.6 160.5,460.8 160.9,460.8 161.3,460.7 161.7,461.2 161.9,461.5 162.1,461.7 162.5,461.7 162.9,461.6 163.9,461.6 164.9,461.1 165.9,461.0 166.8,460.1 167.0,459.7 167.2,459.1 167.5,458.6 167.8,457.6 167.8,457.5 168.1,456.5 168.3,454.6 168.6,451.7 168.8,449.1 168.9,448.2 169.2,443.5 169.4,438.0 169.7,432.4 169.8,430.3 170.0,428.2 170.3,427.0 170.5,428.3 170.8,432.5 171.1,438.0 171.4,443.0 171.6,447.6 171.8,450.4 171.9,452.1 172.2,455.0 172.5,456.8 172.7,458.4 172.8,458.9 173.0,460.0 173.3,460.8 173.6,461.1 173.8,461.7 174.8,462.7 175.8,463.6 176.8,463.8 177.8,464.6 178.8,464.9 179.8,465.1 180.7,464.9 181.7,465.2 182.7,465.3 183.7,465.5 184.7,465.4 185.7,465.7 186.7,465.6 187.7,465.6 188.7,465.5 189.7,465.9 190.7,465.7 191.7,465.7 192.7,465.7 193.6,466.1 194.6,466.2 195.6,466.4 196.6,466.1 197.6,466.3 198.6,466.3 199.6,466.2 200.6,466.1 201.6,466.7 202.6,466.4 203.6,466.4 204.6,466.4 205.6,466.6 206.6,466.2 207.5,466.3 208.5,466.0 209.5,466.0 210.0,465.3 210.4,464.9 210.5,464.9 210.8,465.0 211.2,464.2 211.5,463.5 211.6,463.3 212.0,461.8 212.5,459.6 212.5,459.5 212.9,457.6 213.3,454.4 213.5,452.1 213.7,450.3 214.1,446.4 214.5,443.0 214.5,442.9 214.9,441.5 215.4,442.6 215.5,443.5 215.8,445.6 216.2,449.7 216.5,452.5 216.6,453.7 217.0,456.9 217.4,460.0 217.5,460.4 217.8,461.7 218.2,463.5 218.5,463.9 218.7,464.4 219.1,465.3 219.5,465.7 219.5,465.6 219.9,466.1 220.5,466.4 221.4,467.3 222.4,467.4 223.4,468.0 224.4,467.9 225.4,467.9 226.4,468.0 227.4,467.9 228.4,467.9 229.4,468.1 230.4,468.2 231.4,468.6 232.4,468.9 233.4,468.4 234.4,468.5 235.3,468.3 236.3,468.7 237.3,468.5 238.3,468.8 239.3,468.8 240.3,468.4 241.3,468.2 242.3,468.2 242.5,468.6 242.9,468.3 243.3,468.4 243.3,468.4 243.8,468.3 244.2,468.6 244.3,468.3 244.6,468.5 245.0,468.5 245.3,468.6 245.4,468.4 245.8,468.4 246.2,468.0 246.3,467.9 246.6,467.8 247.1,467.8 247.3,467.9 247.5,467.3 247.9,467.2 248.2,467.5 248.3,467.8 248.7,467.9 249.1,467.9 249.2,468.3 249.5,468.2 250.0,468.0 250.2,467.9 250.4,467.9 250.8,468.4 251.2,468.2 251.2,468.5 251.6,468.8 252.0,469.1 252.2,469.1 252.4,468.8 253.2,468.8 254.2,469.0 255.2,469.0 256.2,468.7 257.2,468.9 258.2,468.5 259.2,468.4 260.2,468.8 261.2,468.6 261.5,468.4 261.9,468.6 262.1,468.5 262.2,468.1 262.6,467.8 262.9,467.8 263.1,467.8 263.3,468.2 263.6,467.8 264.0,467.8 264.1,467.8 264.3,467.4 264.6,467.3 265.0,466.8 265.1,466.5 265.3,466.1 265.7,465.9 266.0,466.3 266.1,466.3 266.4,466.2 266.7,466.5 267.1,466.9 267.1,466.8 267.4,467.3 267.7,467.2 268.1,467.8 268.1,467.6 268.4,467.5 268.8,467.8 269.1,467.8 269.1,468.2 269.5,468.1 269.8,468.0 270.1,468.2 271.1,467.7 272.1,467.6 273.1,467.1 274.1,466.1 275.1,464.6 275.3,463.2 275.6,462.4 275.9,460.5 276.0,459.6 276.2,458.3 276.4,455.0 276.7,450.9 277.0,445.6 277.0,444.0 277.3,438.1 277.5,429.7 277.8,420.9 278.0,415.6 278.1,414.3 278.4,412.3 278.6,414.5 278.9,419.1 279.0,421.4 279.2,425.3 279.5,433.2 279.7,440.6 280.0,447.4 280.3,452.5 280.6,455.9 280.8,459.1 281.0,460.6 281.1,461.3 281.4,462.8 281.7,463.7 282.0,464.6 283.0,466.1 283.0,466.1 283.4,466.0 283.7,466.0 284.0,466.3 284.1,466.4 284.4,466.0 284.8,466.1 285.0,466.0 285.1,465.8 285.5,465.5 285.8,465.0 286.0,464.3 286.1,464.0 286.5,463.0 286.8,462.3 287.0,462.1 287.2,462.3 287.5,462.4 287.9,463.3 288.0,463.2 288.2,463.9 288.6,465.1 288.9,465.9 288.9,465.7 289.3,466.0 289.6,466.6 289.9,467.0 290.3,467.6 290.6,467.9 290.9,468.3 291.0,468.0 291.3,467.9 291.9,468.1 292.9,468.3 293.9,467.9 294.9,467.8 295.9,467.5 296.9,467.3 297.9,466.9 298.9,466.7 299.9,465.2 300.9,463.1 301.1,461.8 301.4,459.7 301.6,457.0 301.9,452.7 301.9,451.2 302.2,442.7 302.5,429.6 302.7,410.9 302.8,401.5 303.0,385.7 303.3,355.0 303.6,322.5 303.8,291.7 304.1,270.2 304.4,262.9 304.7,269.7 304.8,279.1 304.9,287.2 305.2,312.3 305.5,341.6 305.8,371.0 305.8,376.1 306.0,396.3 306.2,409.8 306.3,417.7 306.6,431.5 306.6,433.8 306.8,442.6 306.9,444.7 306.9,445.5 307.1,451.9 307.2,453.7 307.4,456.4 307.6,458.4 307.7,459.4 307.8,460.5 307.9,460.8 308.3,462.2 308.6,462.3 308.8,462.6 309.0,462.4 309.3,462.6 309.7,462.5 309.8,462.0 310.0,462.1 310.3,461.9 310.7,462.2 310.8,462.2 311.0,462.8 311.4,463.5 311.7,464.6 311.8,464.9 312.1,465.4 312.4,466.2 312.8,466.5 312.8,466.4 313.1,466.8 313.4,466.8 313.8,467.5 313.8,467.2 314.1,467.2 314.5,467.7 314.8,468.0 315.8,467.9 316.7,467.8 317.7,467.3 318.7,466.7 319.7,466.3 320.7,465.2 321.7,463.3 322.4,461.2 322.7,459.1 322.8,458.6 323.1,455.1 323.5,449.1 323.7,442.4 323.8,438.9 324.1,423.2 324.5,400.4 324.7,384.3 324.8,369.9 325.2,332.1 325.5,291.1 325.7,273.2 325.9,252.4 326.2,225.2 326.6,215.2 326.7,215.9 326.9,223.4 327.3,247.8 327.6,281.8 327.7,289.5 327.9,320.4 328.3,357.7 328.6,389.5 328.7,392.0 329.0,414.6 329.3,432.5 329.6,444.5 329.7,444.7 330.0,452.5 330.4,457.6 330.6,460.3 330.7,460.7 331.6,464.8 332.6,466.5 333.6,467.5 334.6,468.1 335.6,468.6 336.6,469.2 337.6,469.7 338.6,470.3 339.6,470.2 340.6,470.4 341.6,470.9 342.6,471.1 343.5,471.5 344.5,471.4 345.5,471.8 346.5,471.8 347.5,472.0 348.5,471.9 349.5,472.1 350.5,472.5 351.5,472.8 352.5,472.9 353.5,472.9 354.5,472.7 355.5,473.1 356.5,473.2 357.4,473.6 358.4,473.7 359.4,473.7 360.4,474.1 361.4,473.8 362.4,474.3 363.4,474.1 364.4,474.6 365.4,474.7 366.4,474.7 367.4,475.0 368.4,474.8 369.4,474.8 370.4,474.4 371.3,474.8 372.3,474.9 373.3,474.6 374.3,474.4 375.3,474.5 376.3,475.0 377.3,475.1 378.3,475.0 379.3,474.6 380.3,474.9 381.3,474.7 382.3,474.9 383.3,474.9 384.2,475.2 385.2,474.8 386.2,475.0 387.2,475.1 388.2,474.7 389.2,474.8 390.2,474.7 391.2,474.9 392.2,475.2 393.2,475.1 394.2,474.9 395.2,474.9 396.2,474.6 397.2,474.5 398.1,474.1 399.1,474.1 399.6,473.6 400.0,473.5 400.1,473.2 400.4,473.2 400.8,472.5 401.1,471.8 401.2,472.0 401.6,471.3 402.0,470.3 402.1,469.9 402.4,468.8 402.9,466.4 403.1,465.4 403.3,464.7 403.7,463.0 404.1,462.3 404.5,462.7 404.9,464.0 405.1,464.9 405.3,465.9 405.8,467.6 406.1,468.6 406.2,469.2 406.6,470.6 407.0,471.5 407.1,471.8 407.4,472.3 407.8,472.9 408.1,473.2 408.2,473.6 408.7,473.6 409.1,473.9 410.1,474.2 411.1,474.7 412.0,475.0 413.0,474.9 414.0,475.1 415.0,475.1 416.0,474.9 417.0,474.9 418.0,475.1 419.0,475.3 420.0,475.3 421.0,474.9 422.0,475.2 422.3,475.2 422.7,475.1 423.0,474.9 423.1,475.0 423.5,475.1 424.0,474.8 424.4,474.6 424.8,474.9 424.9,474.7 425.2,474.3 425.6,474.5 425.9,473.9 426.0,473.9 426.4,473.8 426.9,473.7 426.9,473.9 427.3,473.4 427.7,473.6 427.9,473.9 428.1,473.8 428.5,474.1 428.9,474.3 429.3,474.6 429.7,475.0 429.9,474.8 430.2,475.0 430.6,474.9 430.9,475.3 431.0,475.3 431.4,475.5 431.8,475.6 431.9,475.4 432.2,475.6 432.9,475.2 433.9,475.3 434.9,474.9 435.9,475.1 436.9,475.3 437.9,475.0 438.8,475.3 439.8,475.1 440.8,474.7 441.8,474.5 442.8,474.5 443.8,474.2 444.8,473.5 445.8,472.9 446.8,472.3 446.8,472.1 447.2,471.6 447.5,470.6 447.8,469.4 447.9,469.3 448.2,467.4 448.6,465.0 448.8,463.4 448.9,462.2 449.3,457.5 449.6,452.5 449.8,449.0 449.9,445.5 450.3,439.1 450.6,434.6 450.8,433.7 451.0,433.1 451.3,434.2 451.7,437.6 451.8,438.0 452.0,441.4 452.4,445.7 452.7,450.9 452.7,451.8 453.0,456.5 453.4,460.9 453.7,464.1 454.1,467.0 454.4,468.8 454.7,469.8 454.8,469.7 455.1,471.3 455.7,472.1 456.7,473.1 457.7,473.9 458.7,474.7 459.7,475.1 460.7,475.4 461.7,475.4 462.7,475.1 463.7,475.4 464.7,475.3 465.6,475.7 466.6,476.0 467.6,475.5 468.6,475.8 469.6,475.5 470.6,475.4 471.6,475.8 472.6,475.8 473.6,475.6 474.6,475.8 475.6,475.5 476.6,475.6 477.6,475.8 478.6,476.1 479.5,475.7 480.5,476.1 481.5,475.7 482.5,475.6 483.5,475.6 484.5,475.5 485.5,475.4 486.5,475.7 487.5,475.7 488.5,475.6 489.5,475.7 490.5,475.5 491.5,475.8 492.5,476.2 493.4,476.0 494.4,475.8 495.4,475.8 496.4,475.7 497.4,475.7 498.4,475.5 499.4,475.5 500.4,475.7 501.4,475.6 502.4,475.3 503.4,475.1 504.4,475.4 505.0,475.1 505.4,475.2 505.4,475.2 505.9,475.0 506.3,474.6 506.4,474.6 506.7,474.2 507.1,473.7 507.3,473.7 507.5,472.9 507.9,471.9 508.3,471.1 508.7,470.0 509.2,468.6 509.3,468.2 509.6,467.1 510.0,466.9 510.3,466.8 510.4,467.2 510.8,467.7 511.2,468.6 511.3,468.9 511.6,469.5 512.1,470.8 512.3,471.8 512.5,472.0 512.9,472.9 513.3,473.5 513.7,473.8 514.1,474.2 514.3,474.7 514.5,475.1 515.0,475.1 515.3,475.0 516.3,475.2 517.3,475.7 518.3,475.5 519.3,475.4 520.2,475.4 521.2,475.3 522.2,475.3 523.2,475.4 524.2,475.7 525.2,476.1 526.2,475.8 527.2,475.6 528.2,475.8 529.2,475.5 530.2,475.4 531.2,475.6 532.2,475.7 533.2,475.7 534.1,475.7 535.1,475.4 536.1,475.4 537.1,475.4 538.1,475.4 539.1,475.3 540.1,475.7 541.1,475.4 542.1,475.4 543.1,475.3 544.1,475.2 545.1,475.5 546.1,475.8 547.1,475.8 548.0,475.4 549.0,475.1 550.0,474.8 551.0,474.0 551.4,473.9 551.8,473.8 552.0,473.5 552.2,473.5 552.6,472.8 553.0,471.9 553.4,471.1 553.8,469.4 554.0,468.4 554.2,467.4 554.7,464.6 555.0,462.1 555.1,461.4 555.5,458.4 555.9,456.1 556.0,455.6 556.3,455.0 556.7,455.8 557.0,456.8 557.1,457.4 557.6,459.4 558.0,461.4 558.4,463.7 558.8,466.1 559.0,466.9 559.2,468.0 559.6,470.1 560.0,471.2 560.0,471.1 560.5,471.9 560.9,472.7 560.9,473.2 561.3,473.7 561.9,474.3 562.9,474.4 563.3,474.4 563.8,474.8 563.9,474.5 564.2,474.6 564.6,474.1 564.9,474.1 565.0,474.2 565.4,474.2 565.8,474.1 565.9,473.9 566.2,473.2 566.7,472.9 566.9,472.6 567.1,471.9 567.5,471.4 567.9,471.4 568.3,471.4 568.7,471.6 568.9,472.1 569.1,472.1 569.6,472.6 569.9,472.7 570.0,473.0 570.4,473.9 570.8,473.9 570.9,473.8 571.2,474.6 571.6,475.1 571.9,475.1 572.0,474.9 572.4,475.0 572.9,475.3 573.9,475.5 574.8,475.5 575.8,475.7 576.8,475.4 577.8,475.5 578.8,475.9 579.8,476.1 580.8,475.9 581.8,476.0 582.8,476.2 583.8,476.0 584.8,475.6 585.8,475.4 586.8,475.7 587.8,475.6 588.7,475.7 589.7,475.4 590.7,475.9 591.7,475.7 592.7,475.8 593.7,475.9 594.7,475.7 595.7,475.5 596.7,475.6 597.7,475.5 598.7,475.3 599.7,475.2 600.7,475.1 601.6,475.6 602.6,475.3 603.6,475.7 604.6,475.6 605.6,475.8 606.6,475.4 607.6,475.1 608.6,474.7 609.6,474.7 610.6,474.6 611.6,474.3 612.6,474.0 613.6,472.8 614.6,471.7 614.8,471.5 615.2,470.9 615.5,469.6 615.6,469.7 616.0,467.7 616.4,465.7 616.5,464.9 616.8,462.6 617.3,458.3 617.5,454.8 617.7,452.8 618.1,445.8 618.5,437.4 618.5,436.7 618.9,428.7 619.3,422.3 619.5,421.1 619.7,420.6 620.2,421.9 620.5,425.3 620.6,425.6 621.0,430.0 621.4,435.3 621.5,436.5 621.8,440.6 622.2,447.2 622.5,451.4 622.6,453.3 623.0,458.7 623.5,462.5 623.5,462.6 623.9,465.2 624.3,467.6 624.5,468.6 624.7,469.3 625.5,471.2 626.5,472.5 627.5,473.7 628.5,474.5 629.4,474.8 630.4,475.1 631.4,475.0 632.4,474.9 633.4,474.9 634.4,475.3 635.4,475.7 636.4,475.8 637.4,475.8 638.4,476.0 639.4,475.8 640.4,475.7 641.4,475.6 642.3,475.9 643.3,475.9 644.3,475.8 645.3,476.0 646.3,476.1 647.3,475.5 648.3,475.3 649.3,475.3 650.3,475.4 651.3,474.9 652.3,474.6 652.7,474.5 653.1,474.1 653.3,474.1 653.5,473.5 653.9,472.9 654.3,472.5 654.3,472.6 654.8,471.3 655.2,469.8 655.3,469.5 655.6,467.9 656.0,465.4 656.2,463.8 656.4,462.6 656.8,461.3 657.2,460.8 657.7,461.2 658.1,462.4 658.2,462.6 658.5,463.0 658.9,464.4 659.2,465.5 659.3,465.9 659.7,467.8 660.1,469.2 660.2,469.4 660.5,470.7 661.0,472.1 661.2,472.5 661.4,472.8 661.7,473.4 661.8,473.7 662.1,473.5 662.2,474.0 662.5,473.8 662.9,474.1 663.2,474.1 663.3,474.5 663.7,474.1 664.1,473.7 664.2,474.2 664.5,473.8 665.0,473.4 665.2,473.1 665.4,472.8 665.8,472.1 666.2,472.0 666.2,471.8 666.6,471.9 667.0,472.4 667.2,472.7 667.4,472.5 667.9,472.6 668.2,472.6 668.3,472.9 668.7,473.1 669.1,473.3 669.2,473.8 669.5,474.2 669.9,474.7 670.1,474.5 670.3,474.4 670.8,474.8 671.1,475.1 671.2,474.8 671.6,475.0 672.1,475.2 673.1,475.2 674.1,475.0 675.1,474.8 676.1,474.2 677.1,473.4 677.4,473.1 677.7,473.2 678.1,472.5 678.1,472.6 678.4,471.6 678.7,471.0 679.1,469.1 679.1,469.4 679.4,467.3 679.8,464.7 680.1,461.9 680.1,460.7 680.5,456.1 680.8,451.7 681.1,448.9 681.2,448.6 681.5,447.1 681.9,448.4 682.1,450.1 682.2,451.1 682.5,453.7 682.9,455.3 683.1,455.7 683.2,456.7 683.6,458.0 683.9,460.3 684.0,461.2 684.3,463.0 684.6,465.5 685.0,468.2 685.0,468.9 685.3,470.1 685.6,471.2 686.0,472.6 687.0,474.3 688.0,474.4 689.0,475.0 690.0,474.7 691.0,474.5 692.0,474.3 692.3,474.3 692.6,474.2 693.0,474.3 693.0,473.9 693.3,473.8 693.6,473.2 694.0,472.2 694.0,472.6 694.3,471.7 694.7,470.0 695.0,468.6 695.0,468.1 695.4,465.9 695.7,463.8 696.0,462.2 696.1,461.6 696.4,460.5 696.7,461.2 696.9,462.1 697.1,462.5 697.4,464.0 697.8,464.6 697.9,465.0 698.1,465.5 698.5,466.3 698.8,467.7 698.9,467.9 699.2,468.7 699.5,470.4 699.8,471.5 699.9,471.6 700.2,472.6 700.5,473.3 700.9,474.0 701.9,475.3 702.9,475.8 703.6,475.9 703.9,476.0 704.0,476.0 704.4,475.7 704.8,475.9 704.9,475.4 705.2,475.2 705.6,475.2 705.9,475.0 706.0,475.1 706.5,475.0 706.9,474.5 707.3,474.4 707.7,473.6 707.9,473.6 708.1,473.4 708.5,473.7 708.9,473.4 708.9,473.5 709.4,473.9 709.8,473.9 709.9,474.3 710.2,474.1 710.6,474.1 710.8,474.1 711.0,474.5 711.4,474.9 711.8,475.2 712.3,475.5 712.7,475.9 712.8,475.7 713.1,475.5 713.5,475.6 713.8,476.1 714.8,476.4 715.8,476.0 716.8,475.7 717.8,476.3 718.8,476.5 719.8,475.9 720.7,475.6 720.8,475.2 720.9,475.3 721.2,474.9 721.5,474.9 721.8,474.3 722.0,473.9 722.3,473.0 722.6,472.0 722.8,471.6 722.9,470.9 723.1,469.5 723.4,467.7 723.7,465.9 723.8,465.6 724.0,465.5 724.2,466.2 724.5,467.0 724.7,468.3 724.8,468.4 725.1,469.4 725.4,470.2 725.6,470.6 725.7,470.1 725.9,469.9 726.2,470.0 726.5,470.7 726.7,471.9 727.0,472.8 727.3,473.7 727.7,474.8 728.7,475.8 729.7,476.1 730.7,476.5 731.7,476.6 732.7,476.9 733.7,477.1 734.7,476.9 735.7,476.7 736.7,476.4 737.6,476.6 738.6,476.6 739.6,476.5 740.6,476.7 741.6,476.9 742.6,477.0 743.6,476.9 744.6,477.0 745.6,477.0 746.6,477.2 747.6,477.2 748.6,477.3 749.6,476.9 750.6,477.2 751.5,476.7 752.5,477.0 753.5,476.6 754.5,476.9 755.5,476.7 756.5,476.6 757.5,476.9 758.5,476.7 759.5,476.9 760.5,476.6 761.5,476.6 762.5,476.7 763.5,476.9 764.5,477.0 765.4,476.9 766.4,477.2 767.4,476.7 768.4,476.6 769.4,476.7 770.4,476.9 771.4,477.0 772.4,477.2 773.4,476.9 774.4,477.0 775.4,477.0 776.4,476.6 777.4,476.5 777.5,476.5 777.9,476.6 778.3,476.6 778.3,476.3 778.7,476.1 779.1,476.0 779.3,475.8 779.5,476.1 779.9,476.1 780.3,475.9 780.4,475.5 780.8,475.2 781.2,474.3 781.3,474.1 781.6,473.7 782.0,473.6 782.3,473.5 782.4,473.5 782.8,473.4 783.3,473.7 783.3,474.0 783.7,474.4 784.1,474.3 784.3,474.3 784.5,474.6 784.9,474.3 785.3,474.6 785.3,474.3 785.7,474.9 786.2,475.0 786.3,474.7 786.6,474.4 787.0,474.7 787.3,474.3 787.4,474.3 787.8,473.8 788.2,473.1 788.3,472.8 788.6,472.7 789.0,472.5 789.3,472.6 789.5,473.0 789.9,473.6 790.3,473.6 790.3,473.4 790.7,474.0 791.1,474.1 791.3,474.4 791.5,474.4 791.9,474.4 792.2,474.7 792.4,475.2 792.8,475.6 793.2,476.2 793.2,476.2 793.6,476.4 794.0,476.2 794.2,476.3 795.2,476.2 796.2,476.4 797.2,476.5 798.2,477.0 799.2,476.7 800.2,476.7 801.2,476.5 802.2,476.5 803.2,476.9 804.2,476.9 805.2,477.0 806.1,477.2 807.1,477.3"/>
<polyline fill="none" stroke="#127b74" stroke-width="1.75" stroke-linejoin="round" points="146.0,445.7 147.0,446.0 148.0,446.1 149.0,446.4 150.0,445.9 150.1,445.7 150.8,445.9 151.0,445.9 151.4,445.6 152.0,445.5 152.0,445.4 152.6,445.3 152.9,444.7 153.2,444.3 153.9,444.0 153.9,443.7 154.5,442.7 154.9,442.0 155.1,441.6 155.7,439.7 155.9,439.2 156.3,438.2 156.9,436.6 157.0,436.7 157.6,435.9 157.9,436.2 158.2,436.5 158.8,438.0 158.9,438.8 159.4,440.3 159.9,441.9 160.1,442.1 160.7,443.6 160.9,444.2 161.3,444.9 161.9,445.3 161.9,445.4 162.5,446.1 162.9,446.1 163.2,446.1 163.8,446.9 163.9,446.9 164.4,446.9 164.9,447.1 165.0,447.0 165.9,447.6 166.8,447.7 167.8,447.6 168.8,448.1 169.8,447.9 170.8,448.0 171.8,447.9 172.8,448.4 173.8,448.2 174.8,448.5 175.8,448.4 176.8,448.6 177.8,448.9 178.8,449.0 179.8,449.0 180.7,449.1 181.7,449.1 182.7,449.2 183.7,449.0 184.7,449.1 185.7,449.1 186.7,449.5 187.7,449.7 187.9,449.2 188.5,449.0 188.7,449.2 189.0,449.3 189.6,448.8 189.7,449.1 190.1,449.3 190.7,448.8 191.2,448.3 191.7,448.0 191.8,448.2 192.3,447.2 192.7,446.6 192.9,446.2 193.4,445.6 193.6,445.3 194.0,444.8 194.5,444.5 194.6,444.3 195.1,444.7 195.6,445.9 196.2,446.8 196.6,447.2 196.7,447.7 197.3,448.2 197.6,448.4 197.8,448.4 198.4,448.7 198.6,448.9 198.9,449.1 199.5,449.8 199.6,449.6 200.0,449.7 200.6,450.0 201.2,450.4 201.6,450.2 202.6,450.5 203.6,450.5 204.6,450.6 205.6,450.8 206.6,451.1 207.5,451.2 208.5,451.1 209.5,451.3 210.5,451.1 211.5,451.1 212.5,451.5 213.5,451.4 214.5,451.6 215.5,451.4 216.5,451.7 217.5,451.7 218.5,451.5 219.5,451.9 220.5,451.8 221.4,451.7 222.4,451.6 223.4,451.5 224.4,451.5 225.4,451.8 226.4,451.6 227.4,451.6 228.4,451.8 229.4,451.9 230.4,451.9 231.4,452.2 232.4,451.9 233.4,451.9 234.4,451.9 235.3,451.7 236.3,451.7 237.3,451.6 238.3,452.0 239.3,451.7 240.3,451.9 240.9,451.7 241.3,451.8 241.4,451.9 242.0,451.7 242.3,451.9 242.5,451.8 243.1,451.5 243.3,451.0 243.6,450.9 244.2,450.4 244.3,450.4 244.7,450.3 245.3,449.7 245.8,448.3 246.3,447.7 246.4,447.8 246.9,446.9 247.3,446.3 247.5,446.6 248.0,446.7 248.2,447.3 248.6,447.9 249.1,448.9 249.2,449.1 249.7,449.3 250.2,450.3 250.8,450.7 251.2,450.8 251.3,451.0 251.9,451.5 252.2,451.3 252.4,451.5 253.0,452.0 253.2,452.0 253.5,452.1 254.1,452.0 254.2,452.4 255.2,452.2 256.2,452.4 257.2,452.4 258.2,452.0 259.2,452.4 260.2,452.0 260.7,452.2 261.1,452.3 261.2,452.3 261.5,452.2 262.0,451.7 262.1,451.4 262.4,451.1 262.8,451.1 263.1,450.1 263.2,449.9 263.6,449.7 264.0,448.9 264.1,448.6 264.4,447.9 264.8,446.5 265.1,446.0 265.3,445.5 265.7,445.4 266.1,445.2 266.1,445.2 266.5,446.1 266.9,447.4 267.1,447.7 267.3,448.4 267.7,449.6 268.1,449.9 268.2,449.7 268.6,450.0 269.0,450.8 269.1,450.9 269.4,451.0 269.8,451.2 270.1,451.0 270.2,450.9 270.6,451.0 271.1,451.0 272.1,451.3 273.1,450.7 274.1,449.9 274.7,449.6 275.0,449.1 275.1,448.7 275.3,448.3 275.6,447.5 275.9,446.2 276.0,445.7 276.2,444.3 276.5,441.5 276.8,438.3 277.0,435.7 277.1,434.1 277.5,428.6 277.8,423.3 278.0,419.8 278.1,419.4 278.4,418.0 278.7,419.1 279.0,422.4 279.0,422.9 279.3,426.4 279.6,431.4 279.9,435.7 280.0,437.3 280.2,439.5 280.5,442.2 280.8,444.7 281.0,445.7 281.1,446.4 281.4,447.5 281.7,447.9 282.0,448.6 283.0,449.7 283.3,449.7 283.7,449.8 284.0,449.7 284.2,450.0 284.6,449.4 285.0,449.3 285.4,448.3 285.8,447.5 286.0,446.9 286.2,446.0 286.6,444.7 287.0,443.6 287.0,443.0 287.5,441.0 287.9,439.5 288.0,439.4 288.3,438.9 288.7,439.4 288.9,440.4 289.1,441.0 289.5,442.6 289.9,444.7 290.4,446.6 290.8,447.6 290.9,447.6 291.2,448.1 291.6,449.2 291.9,449.3 292.0,449.2 292.4,449.9 292.8,449.8 292.9,450.2 293.3,450.0 293.9,450.1 294.9,450.2 295.9,449.7 296.9,449.7 297.9,449.1 298.9,448.4 299.9,447.2 300.9,444.6 301.9,440.7 302.1,439.1 302.4,435.6 302.6,430.5 302.8,423.9 302.9,422.0 303.2,408.5 303.5,387.2 303.7,356.8 303.8,341.6 304.0,316.5 304.3,267.4 304.6,214.5 304.8,165.0 305.1,130.6 305.4,118.0 305.6,124.6 305.7,128.1 305.8,143.3 305.9,155.7 306.0,170.5 306.2,195.5 306.5,241.7 306.8,287.7 306.8,296.7 306.9,313.8 307.0,329.0 307.3,362.1 307.4,367.3 307.6,385.8 307.8,399.4 307.9,402.5 308.1,412.4 308.3,414.9 308.4,417.0 308.7,418.9 308.8,418.7 309.1,417.0 309.6,412.7 309.8,409.9 310.0,407.0 310.5,402.8 310.8,401.8 310.9,402.0 311.3,404.6 311.8,409.6 312.2,416.2 312.7,423.5 312.8,424.9 313.1,429.3 313.5,434.4 313.8,436.3 314.0,438.3 314.4,440.9 314.8,442.5 314.9,442.4 315.3,444.1 315.8,444.9 316.2,445.6 316.7,445.9 317.7,446.2 318.7,446.1 319.7,445.5 320.7,444.8 321.7,442.4 322.5,439.3 322.7,438.6 322.9,437.3 323.2,434.6 323.6,430.9 323.7,429.2 323.9,425.5 324.3,418.6 324.6,408.7 324.7,405.6 324.9,395.2 325.3,377.7 325.6,357.0 325.7,354.8 326.0,336.3 326.3,320.8 326.7,315.3 327.0,319.5 327.4,332.0 327.7,346.6 327.7,348.8 328.1,368.1 328.4,386.0 328.7,397.6 328.7,400.7 329.1,413.2 329.4,422.0 329.6,426.5 329.8,428.6 330.1,433.5 330.5,436.9 330.6,438.4 330.8,439.2 331.6,443.1 332.6,445.4 333.6,446.7 334.6,448.3 335.6,449.1 336.6,450.4 337.6,450.9 338.6,451.5 339.6,452.0 340.6,452.5 341.6,453.1 342.6,453.8 343.5,453.8 344.5,454.2 345.5,454.6 346.5,455.5 347.5,455.7 348.5,456.0 349.5,456.7 350.5,456.7 351.5,456.7 352.5,456.7 353.5,456.6 354.5,456.9 355.5,456.8 356.5,456.9 357.4,457.0 358.4,457.3 359.4,457.4 360.4,457.3 361.4,457.6 362.4,457.7 363.4,457.8 364.4,457.7 365.4,457.5 366.4,457.3 367.4,457.6 368.4,457.5 369.4,457.6 370.4,457.4 371.3,457.3 372.3,457.0 373.3,457.3 374.3,457.1 374.9,457.0 375.3,457.1 375.3,457.3 375.7,457.3 376.1,457.0 376.3,456.6 376.5,456.7 376.9,455.9 377.3,455.4 377.4,455.7 377.8,455.1 378.2,454.1 378.3,453.9 378.6,452.7 379.0,451.2 379.3,450.6 379.4,450.9 379.8,450.2 380.2,450.4 380.3,450.6 380.7,451.1 381.1,452.4 381.3,452.6 381.5,453.0 381.9,454.5 382.3,454.8 382.3,454.9 382.7,455.6 383.1,456.5 383.3,456.4 383.6,456.7 384.0,457.2 384.2,457.3 384.4,457.5 384.8,457.1 385.2,457.3 386.2,457.2 387.2,457.7 388.2,457.4 389.2,457.4 390.2,457.6 391.2,457.8 392.2,457.5 393.2,457.8 394.2,457.6 395.2,457.6 396.2,457.4 396.4,457.8 396.8,458.0 397.2,458.0 397.2,457.8 397.6,457.5 398.0,457.8 398.1,457.9 398.4,457.9 398.9,457.4 399.1,457.4 399.3,457.2 399.7,456.9 400.1,456.3 400.1,456.4 400.5,455.8 400.9,455.2 401.1,455.2 401.3,454.8 401.8,455.3 402.1,455.4 402.2,455.3 402.6,456.0 403.0,456.4 403.1,456.4 403.4,457.0 403.8,457.5 404.1,457.5 404.2,457.5 404.7,457.3 405.1,457.5 405.1,458.0 405.5,458.0 405.9,458.3 406.1,457.8 406.3,457.6 407.1,457.5 408.1,457.6 409.1,458.1 410.1,458.5 411.1,458.6 412.0,458.5 413.0,458.3 414.0,458.2 415.0,458.0 416.0,458.1 417.0,458.0 418.0,458.4 419.0,458.4 420.0,458.3 421.0,458.6 422.0,458.4 423.0,458.7 424.0,458.7 424.9,458.7 425.9,458.7 426.9,458.7 427.9,458.9 428.9,459.1 429.9,458.9 430.9,459.0 431.9,458.6 432.9,458.9 433.9,459.0 434.9,458.9 435.9,458.4 436.9,458.7 437.9,458.5 438.8,458.3 439.8,458.6 440.8,458.1 441.8,458.2 442.8,457.8 443.8,457.8 444.8,457.1 445.8,456.1 446.8,455.0 446.8,455.0 447.2,454.5 447.5,453.3 447.8,452.3 447.9,451.9 448.2,450.1 448.6,447.3 448.8,445.5 448.9,444.2 449.3,439.4 449.6,433.0 449.8,429.6 449.9,425.5 450.3,418.4 450.6,413.2 450.8,411.7 451.0,411.2 451.3,413.0 451.7,416.1 451.8,417.0 452.0,420.6 452.4,425.7 452.7,431.5 452.7,432.5 453.0,437.5 453.4,442.2 453.7,446.0 454.1,449.1 454.4,451.6 454.7,452.7 454.8,453.0 455.1,454.2 455.7,455.3 456.5,456.3 456.7,456.8 456.9,456.6 457.3,457.1 457.7,457.3 457.7,457.0 458.1,457.3 458.6,457.2 458.7,457.4 459.0,457.2 459.4,457.4 459.7,457.6 459.8,457.8 460.2,457.8 460.6,457.2 460.7,457.3 461.0,457.0 461.5,457.2 461.7,457.1 461.9,457.3 462.3,457.4 462.7,457.9 462.7,457.7 463.1,458.1 463.5,458.1 463.7,458.3 463.9,458.2 464.4,458.5 464.7,458.6 464.8,458.8 465.2,458.9 465.6,458.9 465.6,459.2 466.0,458.9 466.4,459.0 466.6,458.8 467.6,458.8 468.6,458.9 469.6,459.5 470.6,459.1 471.6,459.4 472.6,459.5 473.6,459.7 474.6,459.7 474.7,459.3 475.1,459.6 475.5,459.1 475.6,458.9 475.9,458.8 476.3,458.9 476.6,458.9 476.8,458.9 477.2,458.2 477.6,457.8 477.6,457.7 478.0,457.5 478.4,456.8 478.6,456.6 478.8,456.0 479.2,455.1 479.5,454.8 479.7,454.8 480.1,455.3 480.5,455.5 480.5,455.6 480.9,456.0 481.3,456.4 481.5,456.8 481.7,457.2 482.1,458.1 482.5,458.6 482.6,458.5 483.0,458.6 483.4,458.7 483.5,458.8 483.8,459.0 484.2,459.5 484.5,459.2 484.6,459.1 485.5,459.3 486.5,459.5 487.5,459.3 488.5,459.1 489.5,459.5 490.5,459.2 491.5,459.7 492.5,459.8 493.4,459.7 494.4,460.1 495.4,459.9 496.4,460.1 497.4,459.7 498.4,459.4 499.4,459.5 500.4,459.6 501.4,459.7 502.4,459.4 503.4,459.7 504.4,459.5 505.4,459.9 506.4,460.0 507.3,460.0 508.3,459.5 509.3,459.2 510.3,459.1 511.3,459.3 512.3,459.1 513.3,459.1 514.3,459.0 515.3,459.6 516.3,459.5 517.3,459.4 518.3,459.2 519.3,459.2 520.2,459.1 521.2,459.5 522.2,459.7 523.2,459.8 524.2,459.3 525.2,459.4 526.2,459.6 527.2,459.4 528.2,459.5 529.2,459.0 529.3,459.1 529.7,459.3 530.1,459.1 530.2,458.8 530.5,459.2 530.9,459.3 531.2,458.9 531.4,459.0 531.8,458.5 532.2,458.4 532.2,458.5 532.6,458.2 533.0,457.8 533.2,457.9 533.4,457.4 533.8,456.8 534.1,456.6 534.3,456.6 534.7,457.0 535.1,456.9 535.1,457.4 535.5,457.6 535.9,457.5 536.1,458.1 536.3,458.5 536.7,458.3 537.1,458.6 537.2,458.4 537.6,458.4 538.0,458.4 538.1,458.9 538.4,458.8 538.8,458.8 539.1,458.7 539.2,458.8 540.1,459.3 541.1,459.1 542.1,458.9 543.1,458.8 544.1,459.1 545.1,458.8 546.1,459.2 547.1,459.4 548.0,458.9 549.0,458.7 550.0,458.6 550.8,458.2 551.0,457.9 551.2,458.1 551.6,458.0 552.0,457.1 552.0,457.3 552.5,456.1 552.9,455.5 553.0,454.9 553.3,454.3 553.7,452.1 554.0,450.3 554.1,449.8 554.5,447.2 554.9,444.8 555.0,444.2 555.4,442.3 555.8,441.6 556.0,441.7 556.2,442.6 556.6,443.9 557.0,445.1 557.0,445.2 557.4,447.0 557.8,449.2 558.0,449.9 558.2,451.5 558.7,453.1 559.0,454.5 559.1,455.1 559.5,456.2 559.9,456.6 560.0,456.7 560.3,457.5 560.7,457.5 560.9,458.1 561.9,458.3 562.9,458.5 563.9,458.5 564.9,459.2 565.9,458.9 566.9,459.2 567.9,459.4 568.9,459.5 569.9,459.9 570.9,459.8 571.9,459.4 572.9,459.4 573.9,459.3 574.8,459.8 575.8,459.5 576.8,459.7 577.8,459.7 578.8,459.7 579.8,459.7 580.8,459.6 581.8,459.8 582.8,459.8 583.8,460.0 584.8,460.1 585.8,459.7 586.8,459.9 587.8,459.7 588.7,460.1 589.7,460.0 590.7,459.6 591.7,459.7 592.7,459.7 593.7,459.7 594.7,459.6 595.7,459.7 596.7,459.7 597.7,459.8 598.7,459.6 599.7,459.5 600.7,459.2 601.6,459.5 602.6,459.1 603.6,459.4 604.6,459.3 605.6,459.2 606.6,459.0 607.6,458.9 608.6,458.4 609.6,458.1 610.6,458.0 611.6,457.5 612.6,457.0 613.6,456.2 614.6,455.3 615.0,454.4 615.4,452.9 615.5,452.7 615.8,451.6 616.2,449.5 616.5,447.7 616.7,447.3 617.1,443.7 617.5,438.4 617.5,437.8 617.9,431.6 618.3,422.5 618.5,417.4 618.7,412.6 619.1,402.1 619.5,394.2 619.5,393.8 620.0,390.6 620.4,392.8 620.5,394.1 620.8,397.9 621.2,403.5 621.5,407.7 621.6,409.4 622.0,416.7 622.4,424.4 622.5,425.2 622.9,431.7 623.3,438.1 623.5,440.8 623.7,442.8 624.1,446.7 624.5,449.4 624.5,449.3 624.9,451.2 625.5,453.4 626.5,455.8 627.5,456.9 628.5,457.8 629.4,458.2 630.4,458.4 631.4,458.7 632.4,458.8 633.4,459.3 634.4,459.0 635.4,459.5 636.4,459.2 637.4,459.2 638.4,459.4 639.4,459.8 640.4,459.9 641.4,459.9 642.3,459.9 643.3,459.9 644.3,459.7 645.3,459.4 646.3,459.6 647.3,459.5 648.3,459.6 649.3,459.9 650.3,460.2 651.3,459.7 652.3,460.1 653.3,459.8 654.3,459.8 655.3,460.0 656.2,460.0 657.2,459.8 658.2,460.1 659.2,459.7 659.4,459.9 659.9,460.1 660.2,460.1 660.3,459.6 660.7,459.5 661.1,459.2 661.2,459.2 661.5,459.2 661.9,458.9 662.2,458.9 662.3,459.2 662.8,459.0 663.2,458.4 663.2,458.2 663.6,457.7 664.0,457.9 664.2,457.7 664.4,457.8 664.8,457.6 665.2,458.0 665.2,457.7 665.7,458.0 666.1,458.2 666.2,458.3 666.5,458.3 666.9,458.7 667.2,459.2 667.3,458.9 667.7,458.8 668.1,459.0 668.2,459.0 668.5,459.5 669.0,459.2 669.2,459.1 669.4,459.3 670.1,459.4 671.1,459.3 672.1,459.5 673.1,459.3 674.1,459.4 675.1,458.7 675.7,458.4 676.1,457.9 676.1,457.7 676.4,457.9 676.8,457.5 677.1,456.8 677.4,455.6 677.8,454.2 678.1,452.3 678.1,451.8 678.5,449.3 678.8,446.3 679.1,444.1 679.2,443.5 679.5,441.0 679.9,440.1 680.1,440.7 680.2,441.3 680.5,442.7 680.9,444.3 681.1,444.7 681.2,445.5 681.6,446.6 681.9,447.5 682.1,448.4 682.3,449.4 682.6,451.5 683.0,453.0 683.1,453.2 683.3,454.6 683.6,455.9 684.0,456.5 684.0,456.7 685.0,457.9 686.0,458.6 687.0,459.3 688.0,459.1 689.0,459.0 689.2,459.2 689.6,459.4 690.0,459.0 690.1,458.9 690.5,458.6 690.9,458.4 691.0,458.5 691.3,458.2 691.7,457.3 692.0,456.6 692.1,456.4 692.5,455.2 693.0,454.0 693.0,453.3 693.4,452.1 693.8,451.1 694.0,450.6 694.2,450.1 694.6,450.5 695.0,451.5 695.0,451.7 695.4,452.2 695.8,453.1 696.0,452.9 696.3,453.8 696.7,454.7 696.9,455.7 697.1,455.7 697.5,456.6 697.9,457.3 697.9,457.4 698.3,458.0 698.7,458.3 698.9,458.6 699.2,458.5 699.9,459.3 700.9,459.9 701.9,459.8 702.9,459.9 703.9,460.4 704.9,460.5 705.9,460.5 706.9,460.4 707.9,460.7 708.9,460.5 709.9,460.5 710.8,460.7 711.8,460.4 712.8,460.3 713.8,460.4 714.8,460.4 715.8,460.4 716.8,460.1 717.8,459.8 718.8,459.8 719.8,459.5 720.7,458.8 720.8,458.4 720.9,458.0 721.2,457.7 721.5,457.5 721.8,456.8 722.0,455.6 722.3,453.7 722.6,451.7 722.8,450.2 722.9,448.6 723.1,445.2 723.4,441.4 723.7,438.3 723.8,438.0 724.0,437.1 724.2,438.7 724.5,441.4 724.7,443.2 724.8,443.4 725.1,445.4 725.4,447.0 725.6,447.1 725.7,447.4 725.9,447.6 726.2,447.6 726.5,448.8 726.7,450.0 727.0,451.7 727.3,453.8 727.7,455.9 728.7,458.3 729.7,459.3 730.7,460.0 731.7,460.1 732.7,460.3 733.7,460.5 734.5,460.1 734.7,460.2 734.9,460.0 735.3,459.9 735.7,459.8 735.7,459.9 736.1,460.3 736.5,459.9 736.7,460.0 736.9,459.7 737.3,459.4 737.6,459.8 737.8,459.8 738.2,459.8 738.6,459.5 738.6,459.4 739.0,459.3 739.4,458.8 739.6,458.7 739.8,459.0 740.2,459.5 740.6,459.3 740.7,459.3 741.1,459.5 741.5,459.7 741.6,459.8 741.9,459.5 742.3,459.6 742.6,460.0 742.7,460.2 743.1,460.4 743.6,460.7 743.6,460.7 744.0,460.3 744.4,460.3 744.6,460.2 745.6,460.2 746.6,460.7 747.6,460.7 748.6,461.0 749.6,460.6 750.6,460.7 751.5,461.1 752.5,460.9 753.5,461.1 754.5,461.3 755.5,461.3 756.5,461.0 757.5,461.0 758.5,461.2 759.5,461.1 760.5,461.0 761.5,461.4 762.5,461.0 763.5,461.2 764.5,461.0 765.4,461.2 766.4,461.3 767.4,461.5 768.4,461.5 769.4,461.3 770.4,461.3 771.4,461.3 772.4,461.4 773.4,461.5 774.4,460.9 774.7,460.6 775.3,461.1 775.4,461.1 775.8,460.7 776.4,460.6 776.9,460.4 777.4,460.3 777.5,460.2 778.0,460.3 778.3,459.9 778.6,459.9 779.1,459.2 779.3,459.2 779.7,458.9 780.2,458.6 780.3,458.4 780.8,458.0 781.3,457.9 781.9,458.5 782.3,458.9 782.4,458.5 783.0,459.0 783.3,458.7 783.5,458.8 784.1,459.5 784.3,459.8 784.6,460.1 785.2,460.3 785.3,460.3 785.7,460.2 786.3,460.7 786.8,460.9 787.3,460.9 787.4,460.7 787.9,460.8 788.3,461.2 789.3,461.0 790.3,461.3 791.3,461.5 792.2,461.7 793.2,461.5 794.2,461.6 795.2,461.4 796.2,461.3 797.2,461.6 798.2,461.3 799.2,461.5 800.2,461.7 801.2,461.4 802.2,461.2 803.2,461.7 804.2,461.9 805.2,462.1 806.1,461.7 807.1,462.0"/>
<rect x="91.3" y="12.4" width="771.3000000000001" height="566.9" fill="none" stroke="#000" stroke-width="2.4" stroke-linejoin="round"/>
<line x1="146.0" y1="579.3" x2="146.0" y2="567.1" stroke="#000" stroke-width="2.1"/>
<text transform="translate(135.9,601.7) scale(0.96,1)" font-size="24.0">20</text>
<line x1="256.3" y1="579.3" x2="256.3" y2="567.1" stroke="#000" stroke-width="2.1"/>
<text transform="translate(246.2,601.7) scale(0.96,1)" font-size="24.0">30</text>
<line x1="366.6" y1="579.3" x2="366.6" y2="567.1" stroke="#000" stroke-width="2.1"/>
<text transform="translate(356.8,601.7) scale(0.96,1)" font-size="24.0">40</text>
<line x1="476.9" y1="579.3" x2="476.9" y2="567.1" stroke="#000" stroke-width="2.1"/>
<text transform="translate(466.6,601.7) scale(0.96,1)" font-size="24.0">50</text>
<line x1="587.2" y1="579.3" x2="587.2" y2="567.1" stroke="#000" stroke-width="2.1"/>
<text transform="translate(577.1,601.7) scale(0.96,1)" font-size="24.0">60</text>
<line x1="697.5" y1="579.3" x2="697.5" y2="567.1" stroke="#000" stroke-width="2.1"/>
<text transform="translate(687.2,601.7) scale(0.96,1)" font-size="24.0">70</text>
<line x1="807.8" y1="579.3" x2="807.8" y2="567.1" stroke="#000" stroke-width="2.1"/>
<text transform="translate(797.8,601.7) scale(0.96,1)" font-size="24.0">80</text>
<line x1="201.2" y1="579.3" x2="201.2" y2="573.0" stroke="#000" stroke-width="2.1"/>
<line x1="311.4" y1="579.3" x2="311.4" y2="573.0" stroke="#000" stroke-width="2.1"/>
<line x1="421.8" y1="579.3" x2="421.8" y2="573.0" stroke="#000" stroke-width="2.1"/>
<line x1="532.0" y1="579.3" x2="532.0" y2="573.0" stroke="#000" stroke-width="2.1"/>
<line x1="642.3" y1="579.3" x2="642.3" y2="573.0" stroke="#000" stroke-width="2.1"/>
<line x1="752.6" y1="579.3" x2="752.6" y2="573.0" stroke="#000" stroke-width="2.1"/>
<polyline fill="none" stroke="#111" stroke-width="1.75" stroke-linejoin="round" points="1044.3,524.2 1045.3,524.4 1046.3,524.5 1047.3,524.5 1048.3,524.3 1049.2,524.6 1050.2,524.8 1051.2,524.6 1052.2,524.5 1053.2,524.3 1054.2,523.9 1055.2,523.8 1056.1,523.7 1056.2,523.4 1056.5,523.6 1056.8,523.2 1057.1,522.7 1057.2,522.5 1057.5,522.6 1057.8,522.0 1058.1,521.2 1058.2,521.0 1058.5,519.1 1058.9,517.3 1059.1,515.7 1059.2,515.0 1059.5,513.2 1059.9,511.2 1060.1,510.3 1060.2,510.6 1060.6,510.9 1060.9,513.1 1061.1,514.2 1061.3,515.2 1061.6,517.3 1062.0,519.2 1062.1,519.7 1062.3,520.2 1062.6,521.8 1063.0,522.4 1063.1,522.9 1063.3,523.0 1063.7,523.8 1064.0,524.3 1064.1,524.3 1064.4,524.5 1065.1,524.7 1066.1,525.0 1067.0,524.8 1068.0,525.1 1069.0,525.5 1070.0,525.3 1071.0,525.7 1072.0,526.0 1073.0,525.8 1074.0,525.8 1075.0,525.8 1076.0,525.9 1076.9,526.3 1077.9,526.2 1078.9,525.9 1079.9,525.8 1080.9,526.3 1081.9,526.7 1082.9,526.6 1083.9,526.6 1084.9,526.7 1085.8,526.9 1086.8,526.6 1087.8,526.8 1088.8,526.8 1089.8,526.9 1090.8,526.6 1091.8,526.3 1092.1,526.4 1092.5,526.7 1092.8,526.5 1092.9,526.5 1093.3,526.2 1093.8,525.8 1094.2,525.4 1094.6,525.5 1094.7,525.6 1095.0,525.1 1095.4,524.6 1095.7,524.0 1095.8,524.0 1096.2,523.4 1096.6,522.4 1096.7,522.6 1097.1,522.5 1097.5,522.6 1097.7,523.0 1097.9,523.1 1098.3,523.7 1098.7,524.3 1099.1,525.3 1099.5,525.5 1099.7,525.4 1099.9,526.0 1100.3,526.5 1100.7,526.5 1100.8,526.8 1101.2,526.5 1101.6,526.5 1101.7,526.5 1102.0,526.6 1102.7,526.6 1103.6,526.6 1104.6,526.8 1105.6,527.3 1106.6,527.6 1107.6,527.6 1108.6,527.4 1109.6,527.2 1110.6,527.6 1111.6,527.5 1112.5,527.5 1113.5,527.0 1114.4,526.9 1114.5,527.2 1114.7,527.4 1115.0,527.4 1115.4,527.2 1115.5,527.0 1115.7,526.9 1116.1,526.9 1116.4,526.4 1116.5,526.3 1116.8,525.8 1117.1,525.6 1117.5,524.6 1117.5,524.8 1117.8,524.7 1118.1,523.7 1118.5,523.7 1118.8,523.9 1119.0,524.3 1119.2,524.4 1119.3,524.3 1119.5,524.5 1119.5,524.9 1119.6,525.2 1119.9,525.1 1120.1,525.1 1120.2,525.0 1120.4,525.0 1120.5,525.2 1120.5,525.2 1120.7,525.6 1120.9,525.6 1121.0,525.2 1121.2,525.1 1121.4,524.7 1121.5,524.7 1121.6,524.5 1121.8,524.0 1121.9,523.8 1122.1,523.8 1122.3,524.0 1122.3,524.0 1122.4,523.7 1122.6,524.2 1122.9,524.8 1123.2,525.3 1123.4,525.9 1123.7,525.8 1124.0,526.3 1124.3,526.3 1124.4,526.8 1124.5,526.7 1124.8,527.1 1125.1,527.1 1125.4,527.4 1125.4,527.2 1125.6,527.0 1126.4,527.2 1127.4,527.4 1128.4,527.8 1129.4,527.7 1130.4,527.7 1131.3,527.8 1132.3,528.2 1133.3,527.7 1134.3,527.9 1135.3,527.9 1136.3,528.1 1137.3,528.3 1138.3,527.9 1139.3,528.0 1140.2,527.9 1141.2,527.8 1142.2,527.3 1142.7,527.5 1143.1,527.7 1143.2,527.4 1143.5,527.1 1143.9,527.2 1144.2,526.5 1144.3,526.2 1144.7,525.6 1145.1,525.3 1145.2,525.4 1145.5,524.5 1146.0,523.3 1146.2,522.2 1146.4,521.7 1146.8,520.2 1147.2,519.2 1147.2,519.0 1147.6,518.6 1148.0,518.9 1148.2,519.0 1148.4,520.0 1148.8,521.4 1149.1,522.7 1149.3,523.3 1149.7,524.6 1150.1,525.4 1150.1,525.3 1150.5,525.9 1150.9,526.5 1151.1,526.9 1151.3,527.3 1151.7,527.1 1152.1,527.4 1152.1,527.4 1152.6,527.7 1153.1,528.1 1154.1,528.3 1155.1,528.2 1156.1,528.2 1157.1,528.2 1158.0,528.2 1159.0,528.1 1160.0,527.9 1161.0,527.4 1162.0,527.6 1163.0,527.1 1164.0,526.8 1164.1,526.9 1164.4,527.0 1164.6,526.9 1164.9,526.0 1165.0,525.8 1165.2,525.5 1165.5,525.0 1165.7,524.2 1166.0,523.7 1166.0,523.3 1166.3,522.3 1166.6,521.5 1166.8,520.3 1166.9,519.7 1167.1,518.8 1167.4,518.9 1167.7,519.2 1167.9,519.5 1168.2,520.3 1168.5,521.6 1168.8,522.7 1168.9,523.0 1169.0,523.7 1169.3,524.1 1169.6,524.4 1169.9,525.0 1169.9,524.7 1170.1,525.1 1170.4,525.0 1170.7,525.2 1170.9,525.0 1171.9,524.7 1172.9,524.5 1173.9,523.4 1174.8,521.7 1174.9,521.7 1175.1,520.7 1175.5,519.3 1175.8,517.8 1175.9,517.6 1176.2,515.4 1176.5,512.7 1176.8,508.3 1176.9,508.3 1177.2,502.6 1177.6,495.1 1177.8,487.6 1177.9,485.9 1178.2,476.6 1178.6,469.9 1178.8,467.8 1178.9,467.3 1179.3,469.1 1179.6,475.0 1179.8,479.0 1180.0,482.6 1180.3,491.1 1180.6,499.1 1180.8,501.9 1181.0,504.9 1181.3,510.0 1181.7,513.7 1181.8,514.4 1182.0,515.6 1182.4,517.3 1182.7,518.6 1182.8,518.9 1183.0,519.4 1183.8,520.8 1184.1,521.3 1184.5,521.6 1184.8,521.7 1184.8,521.1 1185.2,521.1 1185.5,520.5 1185.7,520.6 1185.9,520.5 1186.2,519.7 1186.6,518.2 1186.7,517.2 1186.9,516.8 1187.2,515.1 1187.6,513.3 1187.7,512.6 1187.9,512.0 1188.3,511.3 1188.6,511.6 1188.7,511.9 1189.0,512.7 1189.3,514.5 1189.6,516.5 1189.7,516.4 1190.0,517.5 1190.3,519.0 1190.7,520.2 1190.7,520.0 1191.0,520.6 1191.4,520.9 1191.7,521.1 1191.7,521.4 1192.0,521.9 1192.4,522.1 1192.7,521.9 1193.7,522.0 1194.6,522.6 1195.6,522.5 1196.6,522.3 1197.6,522.1 1198.6,521.6 1199.6,520.5 1200.6,518.3 1201.6,514.9 1202.0,511.5 1202.2,508.0 1202.4,502.8 1202.6,498.4 1202.7,494.4 1202.9,480.1 1203.1,458.6 1203.4,427.4 1203.5,393.8 1203.6,386.2 1203.8,336.3 1204.1,282.6 1204.3,233.3 1204.5,198.5 1204.5,197.3 1204.8,186.7 1205.0,196.0 1205.2,221.3 1205.5,256.8 1205.5,268.3 1205.7,298.8 1205.9,343.8 1206.2,386.1 1206.4,422.2 1206.4,423.9 1206.5,438.5 1206.6,451.3 1206.8,469.6 1206.9,472.8 1207.1,487.4 1207.2,494.0 1207.3,497.4 1207.5,502.4 1207.6,503.2 1207.6,505.0 1208.1,508.9 1208.5,509.9 1208.5,509.9 1208.9,509.2 1209.3,506.7 1209.5,505.0 1209.7,503.1 1210.1,498.6 1210.5,494.8 1210.5,494.5 1210.9,490.9 1211.3,489.5 1211.5,489.5 1211.8,491.2 1212.2,495.1 1212.4,498.0 1212.6,499.9 1213.0,504.8 1213.4,509.2 1213.4,509.9 1213.8,513.3 1214.2,516.3 1214.4,517.2 1214.6,517.9 1215.1,519.3 1215.4,520.3 1215.5,520.6 1215.9,521.6 1216.3,522.3 1216.4,522.4 1217.4,522.9 1218.4,523.4 1219.4,523.7 1220.4,523.9 1221.3,523.7 1222.3,523.6 1223.3,523.1 1224.3,521.9 1225.3,520.3 1226.1,516.3 1226.3,514.8 1226.4,514.0 1226.6,509.8 1226.8,503.0 1227.1,491.5 1227.3,475.2 1227.3,473.7 1227.5,449.1 1227.8,416.5 1228.0,377.2 1228.2,335.5 1228.3,327.8 1228.5,296.7 1228.7,270.7 1228.9,262.3 1229.2,270.0 1229.3,276.5 1229.4,289.0 1229.6,315.6 1229.9,346.8 1230.1,380.3 1230.3,401.9 1230.3,413.3 1230.6,442.4 1230.8,466.3 1231.0,484.6 1231.2,496.3 1231.3,497.3 1231.5,505.9 1231.7,511.9 1232.2,518.2 1233.2,522.4 1234.2,523.7 1235.2,524.9 1236.2,525.7 1237.2,525.7 1238.2,526.0 1239.2,526.5 1240.1,526.6 1241.1,527.2 1242.1,527.2 1243.1,527.6 1244.1,527.6 1245.1,527.7 1246.1,527.8 1247.1,528.1 1248.1,528.5 1249.0,528.5 1250.0,528.9 1251.0,528.9 1252.0,529.2 1253.0,529.2 1254.0,529.2 1255.0,529.2 1256.0,529.3 1257.0,529.8 1257.9,529.9 1258.9,529.9 1259.9,530.5 1260.9,530.7 1261.9,530.4 1262.9,530.8 1263.9,531.0 1264.9,531.0 1265.9,531.0 1266.8,531.3 1267.8,531.1 1268.8,531.2 1269.8,531.2 1270.8,531.0 1271.8,530.9 1272.8,531.1 1273.8,531.1 1274.8,531.0 1275.7,530.9 1276.2,530.6 1276.6,530.8 1276.7,530.4 1277.0,530.6 1277.4,530.4 1277.7,530.1 1277.8,530.2 1278.2,530.0 1278.7,529.3 1278.7,529.3 1279.1,528.7 1279.5,528.3 1279.7,527.7 1279.9,527.3 1280.3,526.3 1280.7,525.5 1280.7,525.5 1281.1,525.2 1281.5,525.8 1281.7,526.2 1282.0,526.3 1282.4,526.8 1282.7,527.6 1282.8,527.6 1283.2,528.5 1283.6,529.4 1283.7,529.2 1284.0,529.9 1284.4,530.2 1284.7,530.1 1284.8,530.1 1285.3,530.6 1285.6,530.5 1285.7,530.4 1286.1,530.8 1286.6,531.1 1287.6,531.2 1288.6,531.4 1289.6,531.0 1290.6,531.0 1291.6,531.1 1292.6,531.5 1293.6,531.4 1294.5,531.6 1295.5,531.1 1296.5,531.2 1296.9,531.5 1297.3,531.6 1297.5,531.5 1297.8,531.1 1298.2,531.4 1298.5,530.9 1298.6,531.3 1299.0,531.2 1299.4,531.1 1299.5,530.9 1299.8,530.3 1300.2,530.0 1300.5,530.0 1300.6,530.0 1301.1,529.7 1301.5,529.8 1301.9,529.5 1302.3,529.6 1302.5,529.5 1302.7,529.8 1303.1,530.4 1303.4,530.8 1303.5,530.5 1303.9,530.7 1304.4,530.7 1304.4,531.0 1304.8,531.1 1305.2,531.1 1305.4,531.2 1305.6,531.6 1306.0,531.5 1306.4,531.6 1307.4,531.7 1308.4,531.7 1309.4,531.7 1310.4,531.6 1311.4,531.5 1312.3,531.6 1313.3,531.5 1314.3,531.5 1315.3,531.4 1316.3,531.9 1317.3,531.8 1318.3,531.6 1319.3,531.4 1320.3,531.4 1321.2,531.9 1322.2,531.7 1323.2,531.9 1324.2,531.7 1325.2,531.9 1326.2,531.8 1327.2,532.0 1328.2,531.9 1329.2,531.8 1330.1,531.6 1331.1,531.8 1332.1,532.0 1333.1,532.0 1334.1,531.8 1335.1,531.6 1336.1,531.9 1337.1,531.9 1338.1,531.4 1339.1,531.5 1340.0,531.5 1341.0,531.3 1342.0,531.2 1343.0,530.9 1344.0,529.9 1345.0,529.5 1346.0,527.8 1346.4,526.9 1346.8,526.2 1347.0,525.2 1347.2,524.2 1347.6,522.3 1348.0,519.8 1348.0,519.0 1348.4,515.2 1348.9,509.8 1348.9,508.6 1349.3,503.0 1349.7,494.9 1349.9,489.9 1350.1,486.7 1350.5,480.7 1350.9,478.3 1351.3,480.1 1351.7,484.4 1351.9,487.0 1352.2,490.7 1352.6,497.6 1352.9,503.5 1353.0,504.6 1353.4,510.7 1353.8,515.8 1353.9,516.5 1354.2,519.2 1354.6,522.0 1354.9,523.5 1355.0,524.6 1355.5,525.7 1355.9,527.0 1356.3,527.5 1356.7,528.3 1356.9,528.4 1357.1,528.7 1357.5,529.2 1357.8,529.3 1357.9,529.3 1358.3,529.6 1358.8,529.2 1358.8,529.2 1359.2,529.4 1359.6,529.4 1359.8,529.5 1360.0,529.0 1360.4,528.9 1360.8,528.7 1361.2,529.1 1361.6,529.6 1361.8,529.3 1362.0,529.5 1362.5,530.2 1362.8,530.3 1362.9,530.5 1363.3,531.0 1363.7,531.0 1363.8,531.3 1364.1,531.0 1364.5,531.2 1364.8,531.2 1364.9,531.3 1365.3,531.4 1365.8,531.3 1366.7,531.9 1367.7,531.8 1368.7,532.1 1369.7,532.2 1370.7,532.5 1371.7,532.7 1372.7,532.6 1373.7,532.2 1374.7,532.4 1375.6,532.0 1376.2,532.4 1376.6,532.1 1376.6,532.0 1377.0,531.8 1377.4,531.8 1377.6,532.0 1377.8,532.2 1378.3,532.0 1378.6,531.7 1378.7,531.4 1379.1,530.9 1379.5,530.3 1379.6,530.2 1379.9,530.1 1380.3,529.8 1380.6,529.0 1380.7,529.2 1381.1,529.2 1381.6,529.1 1381.6,529.2 1382.0,529.5 1382.4,529.6 1382.6,529.9 1382.8,530.5 1383.2,531.0 1383.6,531.5 1383.6,531.0 1384.0,531.5 1384.4,531.8 1384.6,532.1 1384.9,531.8 1385.3,532.1 1385.5,531.9 1385.7,532.3 1386.1,532.5 1386.5,532.1 1387.5,532.2 1388.5,532.1 1389.5,532.4 1390.5,532.6 1391.5,532.3 1392.5,532.8 1393.5,533.0 1394.4,532.8 1395.4,532.8 1396.4,532.6 1397.4,532.7 1398.4,532.6 1399.4,532.6 1400.4,532.8 1401.4,532.5 1402.4,532.4 1403.3,532.7 1404.3,532.5 1405.3,532.3 1406.3,532.8 1407.3,532.5 1408.3,532.5 1409.3,532.5 1410.3,532.4 1411.3,532.4 1412.2,532.6 1413.2,532.3 1414.2,532.5 1415.2,532.3 1416.2,532.2 1417.2,532.2 1418.2,532.2 1419.2,532.3 1420.2,532.3 1421.1,532.7 1422.1,532.8 1423.1,532.7 1424.1,532.8 1425.1,532.8 1426.1,532.5 1427.1,532.5 1427.3,532.7 1427.7,532.5 1428.1,532.6 1428.1,532.6 1428.5,532.7 1429.0,532.3 1429.1,532.3 1429.4,532.5 1429.8,532.1 1430.0,532.2 1430.2,531.6 1430.6,531.5 1431.0,531.0 1431.0,531.2 1431.4,530.8 1431.8,530.5 1432.0,530.3 1432.2,530.1 1432.7,530.6 1433.0,530.7 1433.1,530.8 1433.5,530.6 1433.9,530.8 1434.0,531.3 1434.3,531.2 1434.7,531.5 1435.0,531.8 1435.1,531.8 1435.5,532.0 1436.0,532.4 1436.0,532.4 1436.4,532.1 1436.8,532.1 1437.0,532.1 1437.2,532.3 1438.0,532.4 1439.0,532.2 1439.9,532.3 1440.9,532.2 1441.9,531.8 1442.9,531.8 1443.9,531.8 1444.9,531.5 1445.9,531.7 1446.9,531.8 1447.9,531.7 1448.8,531.1 1449.8,530.6 1450.4,529.8 1450.8,529.2 1450.8,529.4 1451.2,528.2 1451.6,527.2 1451.8,526.7 1452.0,525.8 1452.4,524.0 1452.8,521.5 1452.9,521.4 1453.3,518.2 1453.7,513.4 1453.8,511.9 1454.1,507.9 1454.5,502.9 1454.8,499.7 1454.9,498.8 1455.3,497.0 1455.7,498.2 1455.8,498.5 1456.2,500.9 1456.6,503.6 1456.8,505.7 1457.0,507.9 1457.4,511.9 1457.7,515.8 1457.8,516.2 1458.2,519.6 1458.6,522.5 1458.7,523.4 1459.0,524.9 1459.4,526.2 1459.7,527.0 1459.9,527.3 1460.3,528.5 1460.7,529.3 1461.7,530.2 1462.7,530.8 1463.7,531.5 1464.7,531.5 1465.7,531.8 1466.6,531.7 1467.6,531.8 1468.6,531.7 1469.6,531.6 1470.6,531.8 1471.6,531.7 1472.6,531.9 1473.6,532.1 1474.6,532.2 1475.5,532.4 1476.5,532.3 1477.5,532.0 1478.5,532.3 1479.5,532.2 1480.5,532.4 1481.5,532.6 1482.5,532.4 1483.5,532.2 1484.4,532.1 1485.4,532.1 1486.4,532.0 1487.4,531.8 1488.4,531.9 1489.4,532.1 1490.4,532.3 1491.4,532.4 1492.4,532.5 1493.4,532.5 1494.3,532.2 1495.3,532.2 1496.3,531.7 1497.3,532.0 1498.3,532.1 1499.3,531.7 1500.3,531.7 1501.3,531.5 1502.3,531.7 1503.2,531.5 1504.2,531.6 1505.2,531.7 1506.2,531.5 1507.2,531.1 1508.2,530.7 1509.2,530.7 1510.2,530.4 1511.2,529.5 1512.1,528.6 1513.1,527.7 1514.1,525.9 1514.5,524.5 1514.9,522.9 1515.1,522.5 1515.4,520.7 1515.8,517.6 1516.1,514.6 1516.2,514.0 1516.6,508.4 1517.0,500.5 1517.1,498.8 1517.4,491.0 1517.8,479.1 1518.1,471.7 1518.2,467.1 1518.7,458.5 1519.1,455.1 1519.5,457.7 1519.9,463.4 1520.1,465.4 1520.3,469.1 1520.7,475.8 1521.0,482.3 1521.1,483.9 1521.5,492.5 1522.0,501.0 1522.0,502.5 1522.4,507.6 1522.8,513.4 1523.0,515.8 1523.2,517.7 1523.6,520.9 1524.0,522.9 1525.0,526.0 1526.0,527.5 1527.0,528.5 1528.0,529.1 1529.0,529.5 1529.9,530.3 1530.9,530.2 1531.9,530.7 1532.9,530.9 1533.9,531.2 1534.9,531.3 1535.9,531.6 1536.9,531.3 1537.9,531.1 1538.8,531.3 1539.8,531.2 1540.8,531.7 1541.8,532.0 1542.8,531.9 1543.8,532.0 1544.8,531.6 1545.8,531.7 1546.8,531.6 1547.8,531.5 1548.7,531.5 1549.7,531.6 1550.7,531.8 1551.7,531.4 1552.7,531.6 1553.7,531.4 1554.7,531.9 1555.7,531.8 1556.7,531.8 1557.6,531.5 1558.6,531.6 1559.2,531.6 1559.6,531.8 1559.6,531.6 1560.0,531.2 1560.4,531.2 1560.6,530.8 1560.8,531.0 1561.2,530.6 1561.6,530.5 1561.7,530.2 1562.1,529.9 1562.5,529.1 1562.6,528.7 1562.9,528.3 1563.3,528.0 1563.6,527.5 1563.7,527.4 1564.1,527.4 1564.5,527.8 1564.6,527.4 1565.0,527.8 1565.4,528.3 1565.6,528.5 1565.8,528.4 1566.2,528.7 1566.5,529.3 1566.6,529.1 1567.0,529.5 1567.4,530.1 1567.5,530.4 1567.8,530.3 1568.2,530.7 1568.5,530.5 1568.7,530.4 1569.1,530.7 1569.5,530.9 1570.5,531.0 1571.5,531.1 1572.5,530.4 1573.5,530.0 1574.5,529.1 1574.8,528.5 1575.2,528.3 1575.4,527.4 1575.5,527.1 1575.9,525.8 1576.2,524.7 1576.4,523.6 1576.6,522.5 1576.9,520.0 1577.2,516.1 1577.4,513.4 1577.6,511.3 1577.9,505.5 1578.3,499.1 1578.4,497.1 1578.6,494.1 1579.0,492.3 1579.3,493.9 1579.4,495.2 1579.7,497.4 1580.0,500.5 1580.3,502.8 1580.4,503.4 1580.7,504.7 1581.0,507.3 1581.4,510.3 1581.4,510.5 1581.7,514.3 1582.1,517.6 1582.4,520.5 1582.4,520.8 1582.7,523.3 1583.1,525.0 1583.4,526.3 1584.3,528.5 1585.3,529.3 1586.3,529.5 1587.3,530.0 1588.3,530.1 1589.1,529.9 1589.3,529.5 1589.5,529.5 1589.8,529.1 1590.2,528.6 1590.3,528.6 1590.5,528.0 1590.8,526.8 1591.2,525.4 1591.3,524.7 1591.5,523.4 1591.9,520.7 1592.2,517.2 1592.3,517.0 1592.6,514.4 1592.9,512.0 1593.3,510.8 1593.6,511.4 1593.9,513.5 1594.2,514.9 1594.3,514.7 1594.6,516.1 1595.0,517.2 1595.2,518.2 1595.3,518.2 1595.7,519.8 1596.0,522.1 1596.2,523.2 1596.3,523.7 1596.7,525.8 1597.0,527.1 1597.2,527.9 1597.4,528.3 1598.2,530.1 1599.2,530.9 1600.2,531.6 1601.2,531.9 1602.2,532.0 1603.1,532.0 1604.1,532.0 1605.1,531.9 1606.1,531.7 1607.1,532.1 1608.1,532.3 1609.1,532.4 1610.1,532.4 1611.1,532.3 1612.0,532.5 1613.0,532.2 1614.0,532.3 1615.0,531.7 1616.0,531.5 1617.0,531.4 1618.0,531.3 1618.8,530.6 1619.0,530.6 1619.1,530.2 1619.5,529.9 1619.8,529.5 1620.0,529.2 1620.2,528.2 1620.5,527.2 1620.9,525.3 1620.9,524.9 1621.2,523.1 1621.5,520.8 1621.9,517.3 1621.9,517.2 1622.2,513.9 1622.6,511.1 1622.9,510.5 1623.3,511.7 1623.6,513.2 1623.9,515.1 1624.0,515.3 1624.3,516.8 1624.6,517.4 1624.9,517.8 1625.0,517.9 1625.3,519.8 1625.7,521.6 1625.9,522.9 1626.0,523.4 1626.4,525.4 1626.7,527.3 1626.9,527.6 1627.0,528.3 1627.9,530.3 1628.9,531.4 1629.8,531.7 1630.8,531.9 1631.8,531.8 1632.8,532.2 1633.8,532.0 1634.8,532.1 1635.0,532.2 1635.4,532.5 1635.8,532.5 1635.8,532.0 1636.2,531.8 1636.7,531.8 1636.8,531.8 1637.1,532.0 1637.5,531.7 1637.8,531.8 1637.9,531.7 1638.3,531.4 1638.7,531.4 1638.7,531.4 1639.1,531.5 1639.5,531.0 1639.7,531.2 1640.0,531.2 1640.4,531.1 1640.7,530.9 1640.8,531.1 1641.2,531.5 1641.6,531.4 1641.7,531.5 1642.0,531.6 1642.4,531.3 1642.7,531.8 1642.8,531.6 1643.3,531.8 1643.7,532.1 1643.7,532.3 1644.1,532.5 1644.5,532.3 1644.7,532.5 1644.9,532.1 1645.7,532.3 1646.7,532.3 1647.7,532.6 1648.6,532.7 1649.6,532.7 1650.6,532.8 1651.6,532.5 1652.6,532.5 1653.6,532.2 1654.6,532.2 1655.6,532.2 1656.6,532.5 1657.5,532.2 1658.5,532.7 1659.5,532.6 1660.5,532.5 1661.5,532.3 1662.5,532.3 1663.5,532.5 1664.5,532.2 1665.5,532.7 1666.4,532.5 1667.4,532.4 1668.4,532.3 1669.4,532.2 1670.4,532.1 1671.4,532.5 1672.4,532.0 1672.9,532.0 1673.4,532.1 1673.5,532.1 1674.0,531.9 1674.4,531.9 1674.6,531.5 1675.1,531.4 1675.3,531.4 1675.7,531.5 1676.2,531.0 1676.3,530.9 1676.8,530.6 1677.3,529.8 1677.9,529.4 1678.3,528.8 1678.4,528.9 1679.0,528.8 1679.3,529.0 1679.5,529.2 1680.1,529.6 1680.3,529.8 1680.6,529.6 1681.2,530.2 1681.3,530.1 1681.7,530.2 1682.3,530.6 1682.8,531.4 1683.3,531.8 1683.4,531.9 1683.9,531.8 1684.2,531.6 1684.5,531.6 1685.0,532.0 1685.2,532.2 1685.6,531.9 1686.2,531.8 1687.2,532.5 1688.2,532.4 1689.2,532.1 1690.2,532.3 1691.2,532.1 1692.2,532.6 1693.1,532.6 1694.1,532.7 1695.1,532.9 1696.1,532.5 1697.1,532.4 1698.1,532.7 1699.1,532.7 1700.1,532.6 1701.1,532.5 1702.1,532.7 1703.0,533.0"/>
<polyline fill="none" stroke="#da1d25" stroke-width="1.75" stroke-linejoin="round" points="1044.3,481.8 1045.3,481.4 1046.3,481.1 1047.3,481.6 1048.3,481.3 1049.2,481.1 1050.2,481.3 1051.2,481.2 1052.2,481.5 1053.2,481.1 1053.4,481.5 1053.7,481.2 1054.1,481.1 1054.2,481.4 1054.4,481.3 1054.7,481.3 1055.1,481.0 1055.2,480.4 1055.4,480.5 1055.8,480.1 1056.1,479.3 1056.2,479.0 1056.5,478.9 1056.8,478.2 1057.1,478.0 1057.2,478.0 1057.5,477.9 1057.8,477.9 1058.1,478.3 1058.2,478.3 1058.5,478.7 1058.9,479.6 1059.1,479.8 1059.2,480.1 1059.5,480.7 1059.9,480.9 1060.1,480.7 1060.2,481.0 1060.6,481.2 1060.9,481.0 1061.1,480.8 1061.3,481.0 1061.6,480.8 1062.1,481.4 1063.1,481.4 1064.1,481.5 1065.1,481.4 1066.1,481.6 1067.0,481.9 1068.0,481.6 1069.0,481.5 1070.0,481.6 1071.0,481.4 1072.0,481.6 1073.0,481.6 1074.0,481.6 1075.0,481.7 1076.0,481.7 1076.9,481.3 1077.9,481.8 1078.9,481.6 1079.9,481.6 1080.9,481.5 1081.9,481.9 1082.9,482.0 1083.9,481.8 1084.9,481.6 1085.8,481.3 1086.8,481.7 1087.8,481.4 1088.8,481.5 1089.2,481.4 1089.6,481.3 1089.8,481.2 1090.0,481.1 1090.5,480.9 1090.8,481.0 1090.9,481.3 1091.3,481.3 1091.7,480.8 1091.8,481.0 1092.1,480.4 1092.5,480.2 1092.8,480.4 1092.9,480.5 1093.3,480.0 1093.8,480.1 1094.2,480.0 1094.6,480.2 1094.7,480.3 1095.0,480.8 1095.4,481.0 1095.7,481.0 1095.8,481.2 1096.2,481.3 1096.6,481.2 1096.7,481.5 1097.1,481.7 1097.5,481.6 1097.7,481.9 1097.9,481.3 1098.3,481.4 1098.7,481.6 1099.7,481.5 1100.7,481.3 1101.7,481.6 1102.7,481.5 1103.6,481.4 1104.6,481.2 1105.6,481.7 1106.6,481.5 1107.6,481.2 1108.6,481.1 1109.6,481.0 1110.6,481.2 1110.8,480.9 1111.2,480.7 1111.6,480.4 1111.6,480.6 1112.0,480.3 1112.4,480.0 1112.5,480.2 1112.9,480.2 1113.3,479.6 1113.5,478.6 1113.7,478.2 1114.1,477.5 1114.5,475.8 1114.5,475.6 1114.9,474.5 1115.3,473.4 1115.5,473.4 1115.7,473.4 1116.1,473.7 1116.5,474.3 1116.6,474.3 1117.0,475.6 1117.4,476.7 1117.5,477.4 1117.8,478.0 1118.2,479.3 1118.5,479.8 1118.6,479.6 1119.0,480.1 1119.4,480.6 1119.5,480.3 1119.9,480.7 1120.3,480.6 1120.5,481.0 1120.7,480.8 1121.4,481.2 1122.4,481.7 1123.4,481.9 1124.4,481.6 1125.4,481.7 1126.4,481.4 1127.4,481.5 1128.4,481.9 1129.4,482.0 1130.4,481.6 1131.3,481.6 1132.3,481.8 1133.3,481.6 1134.3,481.9 1135.3,482.2 1136.3,482.0 1137.3,481.8 1138.3,482.1 1139.3,482.0 1140.2,481.7 1141.2,481.6 1142.2,481.5 1143.2,481.9 1144.2,481.9 1145.2,482.0 1146.2,482.2 1147.2,482.4 1148.2,481.9 1149.1,481.8 1150.1,482.1 1151.1,482.2 1152.1,482.0 1153.1,482.0 1154.1,481.8 1155.1,481.6 1156.1,481.4 1157.1,481.6 1158.0,481.5 1159.0,481.7 1160.0,482.1 1161.0,481.8 1162.0,481.8 1163.0,482.1 1164.0,482.0 1165.0,481.9 1166.0,482.0 1166.9,481.5 1167.9,481.9 1168.9,481.8 1169.9,481.8 1170.9,481.7 1171.9,480.9 1172.9,479.9 1173.2,479.6 1173.4,479.4 1173.7,479.2 1173.9,478.9 1174.0,478.3 1174.3,477.2 1174.5,475.8 1174.8,473.5 1174.9,473.3 1175.1,471.3 1175.4,468.2 1175.6,465.2 1175.9,463.2 1175.9,462.7 1176.2,461.6 1176.5,462.2 1176.7,463.8 1176.8,464.4 1177.0,466.4 1177.3,469.0 1177.6,471.4 1177.8,473.8 1178.1,475.5 1178.4,477.1 1178.7,478.1 1178.8,478.5 1178.9,478.9 1179.2,479.5 1179.5,479.8 1179.8,480.5 1180.8,480.9 1181.8,481.2 1182.8,481.7 1183.8,482.0 1184.8,481.7 1185.7,481.4 1186.7,481.8 1187.7,481.7 1188.7,481.4 1189.7,481.2 1190.7,481.1 1191.7,481.1 1192.7,480.9 1193.7,480.6 1194.6,481.0 1195.6,480.9 1196.6,479.9 1197.6,479.2 1198.6,478.0 1199.6,474.9 1199.8,473.3 1200.1,471.6 1200.3,469.3 1200.6,466.4 1200.8,461.7 1201.1,455.2 1201.3,446.7 1201.6,435.5 1201.8,423.0 1202.1,410.3 1202.3,400.6 1202.6,397.0 1202.8,399.5 1203.1,405.3 1203.3,413.3 1203.5,422.9 1203.8,433.8 1204.0,444.2 1204.3,452.5 1204.5,459.2 1204.8,464.4 1205.0,468.1 1205.3,470.3 1205.5,472.6 1205.9,474.3 1206.1,475.1 1206.4,475.7 1206.5,476.1 1206.7,476.6 1207.0,476.6 1207.2,476.5 1207.5,476.2 1207.8,475.5 1208.1,474.7 1208.3,474.0 1208.5,473.2 1208.6,472.9 1208.9,471.8 1209.1,471.8 1209.4,472.3 1209.5,472.1 1209.7,472.8 1210.0,473.9 1210.2,475.1 1210.5,476.1 1210.5,476.1 1210.8,477.3 1211.1,478.1 1211.3,479.0 1211.5,479.1 1211.6,479.7 1211.9,480.0 1212.2,480.0 1212.4,480.2 1213.4,480.5 1214.4,481.0 1215.4,480.8 1216.4,481.1 1217.4,481.0 1218.4,481.2 1219.4,480.7 1220.4,480.6 1221.3,480.2 1222.3,479.1 1223.3,477.2 1223.4,477.0 1223.7,476.3 1224.0,475.0 1224.3,473.2 1224.3,472.9 1224.5,471.4 1224.8,468.0 1225.1,464.0 1225.3,459.4 1225.4,457.8 1225.6,450.2 1225.9,441.6 1226.2,433.0 1226.3,429.9 1226.5,426.3 1226.7,424.3 1227.0,426.1 1227.3,430.5 1227.6,436.3 1227.8,443.4 1228.1,450.8 1228.3,454.8 1228.4,457.3 1228.7,463.3 1228.9,467.4 1229.2,470.5 1229.3,470.9 1229.5,473.3 1229.8,475.0 1230.0,476.6 1230.3,477.3 1231.2,479.2 1232.2,480.1 1233.2,480.9 1234.2,481.0 1235.2,481.6 1236.2,481.6 1237.2,481.4 1238.2,481.6 1239.2,481.8 1240.1,481.7 1241.1,482.2 1242.1,482.4 1243.1,482.3 1244.1,482.5 1245.1,482.5 1246.1,482.4 1247.1,482.1 1248.1,482.5 1249.0,482.7 1250.0,482.4 1251.0,482.3 1252.0,482.0 1253.0,482.2 1254.0,482.5 1255.0,482.4 1256.0,482.2 1257.0,482.4 1257.9,482.6 1258.9,482.2 1259.9,482.2 1260.9,482.4 1261.9,482.1 1262.9,482.5 1263.9,482.3 1264.9,482.6 1265.9,482.5 1266.8,482.2 1267.8,482.0 1268.8,481.9 1269.8,482.0 1270.8,482.3 1271.8,482.5 1272.8,482.5 1272.9,482.2 1273.3,482.3 1273.7,482.4 1273.8,482.2 1274.1,481.9 1274.5,481.9 1274.8,481.7 1275.0,481.6 1275.4,481.5 1275.7,481.2 1275.8,481.6 1276.2,481.2 1276.6,481.2 1276.7,481.1 1277.0,480.4 1277.4,480.6 1277.7,480.6 1277.8,480.5 1278.2,480.7 1278.7,480.7 1278.7,480.4 1279.1,480.5 1279.5,480.8 1279.7,481.4 1279.9,481.7 1280.3,481.6 1280.7,481.7 1280.7,481.5 1281.1,481.7 1281.5,481.8 1281.7,481.9 1282.0,481.9 1282.4,482.2 1282.7,482.1 1282.8,482.5 1283.7,482.4 1284.7,482.4 1285.6,482.6 1286.6,482.4 1287.6,482.3 1288.6,482.1 1289.6,482.1 1290.6,482.1 1291.6,482.5 1292.6,482.4 1293.6,482.6 1294.5,482.4 1295.5,482.1 1296.5,482.2 1297.5,482.3 1298.5,482.7 1299.5,482.4 1300.5,482.2 1301.5,482.1 1302.5,482.2 1303.4,482.7 1304.4,482.9 1305.4,482.5 1306.4,482.2 1307.4,482.4 1308.4,482.5 1309.4,482.2 1310.4,482.3 1311.4,482.6 1312.3,482.2 1313.3,482.5 1314.3,482.7 1315.3,482.8 1316.3,482.7 1317.3,482.6 1318.3,482.6 1319.3,482.3 1320.3,482.4 1321.2,482.3 1322.2,482.3 1323.2,482.1 1324.2,482.1 1325.2,482.0 1326.2,482.3 1327.2,482.2 1328.2,482.4 1329.2,482.5 1330.1,482.3 1331.1,482.2 1332.1,482.4 1333.1,482.6 1334.1,482.7 1335.1,482.6 1336.1,482.6 1337.1,482.2 1338.1,482.2 1339.1,482.5 1340.0,482.4 1341.0,482.1 1342.0,482.2 1343.0,482.4 1344.0,481.9 1345.0,481.5 1345.4,481.5 1345.7,481.7 1346.0,481.4 1346.3,480.9 1346.5,480.8 1346.8,479.9 1347.0,479.5 1347.1,479.4 1347.3,478.6 1347.6,477.5 1347.9,475.6 1348.0,475.1 1348.2,473.9 1348.4,472.5 1348.7,472.1 1348.9,472.6 1349.0,473.1 1349.3,473.5 1349.5,473.9 1349.8,475.0 1349.9,475.7 1350.1,476.3 1350.4,477.1 1350.6,478.3 1350.9,479.3 1351.2,480.2 1351.5,480.6 1351.7,481.3 1351.9,481.5 1352.0,481.3 1352.9,481.8 1353.9,481.8 1354.9,482.0 1355.9,482.5 1356.9,482.5 1357.8,482.5 1358.8,482.7 1359.8,482.3 1360.8,482.3 1361.8,482.4 1362.8,482.5 1363.8,482.7 1364.8,482.9 1365.8,483.0 1366.7,482.8 1367.7,482.8 1368.7,482.7 1369.7,483.0 1370.7,482.9 1371.7,482.8 1372.7,482.6 1373.7,482.6 1374.7,482.8 1375.6,482.6 1376.6,482.9 1377.6,482.9 1378.6,483.1 1379.6,483.0 1380.6,482.9 1381.6,482.7 1382.6,482.3 1383.6,482.6 1384.6,482.8 1385.5,482.9 1386.5,482.9 1387.5,482.5 1388.5,482.7 1389.5,482.5 1390.5,482.5 1391.5,482.8 1392.5,482.7 1393.5,482.6 1394.4,482.3 1395.4,482.3 1396.4,482.3 1397.4,482.3 1398.4,482.5 1399.4,482.3 1400.4,482.2 1401.4,482.1 1402.4,482.6 1403.3,482.9 1404.3,483.0 1405.3,482.8 1406.3,482.5 1407.3,482.8 1408.3,482.5 1409.3,482.3 1410.3,482.5 1411.3,482.8 1412.2,482.6 1413.2,482.9 1414.2,482.7 1415.2,483.0 1416.2,483.0 1417.2,483.1 1418.2,483.2 1419.2,483.2 1420.2,482.7 1421.1,482.7 1422.1,482.7 1423.1,482.9 1424.1,482.6 1425.1,482.7 1426.1,482.5 1427.1,482.4 1428.1,482.5 1429.1,482.8 1430.0,482.8 1431.0,482.6 1432.0,482.5 1433.0,482.5 1434.0,482.5 1435.0,482.4 1436.0,482.4 1437.0,482.4 1438.0,482.4 1439.0,482.6 1439.9,482.7 1440.9,482.8 1441.9,483.0 1442.9,482.9 1443.9,482.5 1444.9,482.4 1445.9,482.4 1446.9,482.6 1447.9,482.4 1448.8,481.8 1449.8,481.5 1450.1,481.5 1450.4,481.4 1450.7,480.9 1450.8,480.4 1450.9,480.0 1451.2,479.5 1451.5,478.9 1451.8,477.3 1451.8,477.1 1452.0,475.9 1452.3,474.1 1452.6,471.9 1452.8,470.3 1452.9,469.9 1453.1,469.5 1453.4,470.5 1453.7,471.5 1453.8,472.3 1454.0,472.9 1454.2,473.6 1454.5,474.0 1454.8,474.8 1455.1,476.0 1455.3,476.9 1455.6,477.9 1455.8,478.9 1455.9,479.3 1456.2,479.9 1456.4,480.4 1456.8,480.7 1457.7,481.7 1458.7,482.3 1459.7,482.4 1460.7,482.6 1461.7,482.8 1462.7,482.6 1463.7,482.7 1464.7,483.0 1465.7,483.0 1466.6,482.6 1467.6,482.8 1468.6,482.8 1469.6,483.0 1470.6,483.0 1471.6,483.1 1472.6,483.3 1473.6,482.8 1474.6,482.8 1475.5,482.4 1476.5,482.9 1477.5,482.6 1478.5,482.6 1479.5,482.8 1480.5,482.7 1481.5,482.5 1482.5,482.6 1483.5,482.5 1484.4,482.6 1485.4,482.8 1486.4,482.6 1487.4,482.7 1488.4,482.8 1489.4,482.8 1490.4,483.0 1491.4,483.1 1492.4,483.2 1493.4,482.7 1494.3,482.7 1495.3,482.4 1496.3,482.7 1497.3,482.6 1498.3,482.9 1499.3,482.8 1500.3,482.9 1501.3,482.4 1502.3,482.6 1503.2,482.5 1504.2,482.8 1505.2,482.4 1506.2,482.1 1507.2,482.4 1508.2,482.3 1509.2,482.2 1510.2,482.1 1511.2,482.3 1512.1,482.0 1512.7,481.8 1513.1,481.7 1513.1,481.7 1513.4,481.2 1513.8,480.5 1514.1,480.0 1514.5,479.5 1514.8,478.6 1515.1,477.2 1515.2,477.1 1515.5,475.3 1515.8,472.7 1516.1,471.1 1516.2,470.8 1516.5,468.7 1516.9,468.1 1517.1,468.5 1517.2,468.8 1517.6,470.0 1517.9,470.7 1518.1,471.2 1518.2,472.0 1518.6,472.8 1518.9,474.1 1519.1,474.7 1519.3,475.4 1519.6,476.9 1520.0,478.2 1520.1,478.7 1520.3,479.6 1520.6,479.9 1521.0,480.5 1521.0,480.8 1522.0,481.8 1523.0,482.1 1524.0,482.3 1525.0,482.4 1526.0,482.5 1527.0,482.8 1528.0,482.9 1529.0,483.1 1529.9,482.5 1530.9,482.7 1531.9,482.5 1532.9,482.4 1533.9,482.2 1534.9,482.6 1535.9,482.9 1536.9,482.7 1537.9,482.6 1538.8,482.4 1539.8,482.8 1540.8,482.8 1541.8,482.5 1542.8,482.5 1543.8,482.9 1544.8,482.5 1545.8,482.4 1546.8,482.4 1547.8,482.4 1548.7,482.2 1549.7,482.4 1550.7,482.3 1551.7,482.5 1552.7,482.5 1553.7,482.7 1554.7,482.7 1555.7,482.8 1556.7,482.3 1557.0,482.5 1557.4,482.6 1557.6,482.3 1557.8,481.9 1558.2,481.8 1558.6,482.1 1559.0,482.4 1559.5,481.8 1559.6,481.6 1559.9,481.5 1560.3,481.1 1560.6,481.2 1560.7,481.4 1561.1,481.2 1561.5,480.6 1561.6,480.9 1561.9,480.9 1562.3,480.6 1562.6,480.9 1562.8,481.2 1563.2,481.4 1563.6,481.5 1564.0,481.6 1564.4,481.6 1564.6,481.3 1564.8,481.6 1565.2,481.8 1565.6,481.6 1565.6,481.5 1566.1,482.1 1566.5,482.4 1566.5,481.9 1566.9,481.7 1567.5,482.1 1568.5,482.0 1569.5,482.4 1570.5,482.2 1571.5,482.2 1572.5,481.7 1573.5,481.6 1573.7,481.2 1574.0,481.1 1574.3,480.9 1574.5,480.6 1574.6,480.3 1574.8,479.8 1575.1,478.9 1575.4,477.8 1575.4,477.6 1575.7,477.0 1575.9,475.3 1576.2,474.1 1576.4,473.1 1576.5,472.5 1576.8,472.2 1577.0,472.9 1577.3,473.7 1577.4,474.1 1577.6,474.8 1577.9,475.5 1578.1,475.8 1578.4,476.1 1578.7,476.1 1579.0,476.4 1579.2,476.9 1579.4,477.5 1579.5,478.2 1579.8,478.8 1580.1,479.4 1580.4,480.2 1581.4,481.2 1582.4,481.3 1583.4,481.4 1584.3,481.6 1585.3,482.0 1586.3,482.2 1587.3,482.3 1588.3,482.1 1588.9,482.1 1589.1,481.6 1589.3,481.6 1589.4,481.4 1589.7,481.5 1590.0,481.0 1590.2,480.7 1590.3,480.6 1590.5,480.3 1590.8,479.5 1591.1,478.1 1591.3,477.2 1591.3,477.1 1591.6,475.9 1591.9,474.5 1592.2,474.2 1592.3,474.3 1592.4,474.3 1592.7,474.9 1593.0,476.0 1593.3,476.8 1593.5,477.1 1593.8,477.4 1594.1,477.2 1594.2,477.5 1594.3,477.6 1594.6,478.4 1594.9,479.1 1595.2,479.4 1595.2,479.6 1595.4,479.9 1596.2,481.1 1597.2,481.9 1598.2,482.2 1599.2,481.9 1600.2,482.1 1601.2,481.9 1602.2,482.1 1603.1,482.2 1604.1,482.2 1605.1,482.5 1606.1,482.2 1607.1,482.3 1608.1,482.1 1609.1,482.0 1610.1,482.2 1611.1,482.0 1612.0,482.4 1613.0,482.2 1614.0,481.9 1615.0,482.3 1616.0,481.8 1617.0,481.8 1618.0,481.9 1618.3,481.5 1618.5,481.7 1618.8,481.6 1619.0,481.8 1619.1,481.4 1619.4,481.4 1619.6,481.2 1619.9,480.5 1620.0,480.0 1620.2,479.4 1620.5,479.0 1620.7,477.7 1620.9,477.4 1621.0,477.3 1621.3,477.3 1621.5,477.3 1621.8,478.2 1621.9,478.0 1622.1,478.4 1622.4,478.8 1622.6,479.2 1622.9,479.1 1623.2,479.1 1623.5,479.2 1623.7,479.8 1623.9,479.6 1624.0,479.7 1624.3,480.0 1624.6,480.8 1624.9,481.4 1625.9,481.6 1626.9,482.1 1627.9,482.4 1628.9,482.3 1629.8,482.3 1630.8,482.5 1631.8,482.7 1632.8,482.3 1633.8,482.4 1634.8,482.1 1635.8,482.1 1636.8,482.5 1637.8,482.5 1638.7,482.4 1639.7,482.3 1640.7,482.2 1641.7,481.9 1642.7,482.1 1643.7,482.5 1644.7,482.1 1645.7,481.9 1646.7,482.1 1647.7,482.4 1648.6,482.3 1649.6,482.0 1650.6,482.2 1651.6,482.3 1652.6,482.1 1653.6,482.4 1654.6,482.3 1655.6,482.5 1656.6,482.2 1657.5,482.1 1658.5,482.3 1659.5,482.4 1660.5,482.5 1661.5,482.7 1662.5,482.6 1663.5,482.1 1664.5,482.1 1665.5,482.3 1666.4,482.4 1667.4,482.2 1668.4,481.9 1669.4,482.1 1670.4,481.9 1671.4,482.1 1672.4,481.9 1673.4,482.3 1674.4,481.9 1675.3,482.1 1676.3,482.4 1677.3,482.4 1678.3,482.0 1679.3,482.1 1680.3,482.4 1681.3,482.4 1682.3,482.5 1683.3,482.6 1684.2,482.3 1685.2,482.0 1686.2,482.2 1687.2,482.1 1688.2,482.4 1689.2,482.2 1690.2,482.3 1691.2,482.0 1692.2,482.2 1693.1,482.4 1694.1,482.5 1695.1,482.5 1696.1,482.4 1697.1,482.0 1698.1,482.0 1699.1,481.9 1700.1,481.8 1701.1,482.0 1702.1,482.0 1703.0,482.1"/>
<polyline fill="none" stroke="#1f1fe0" stroke-width="1.75" stroke-linejoin="round" points="1039.9,456.0 1040.9,456.2 1041.9,456.3 1042.9,455.7 1043.9,455.8 1044.8,455.7 1045.8,455.8 1046.8,455.5 1047.8,455.4 1048.8,455.5 1049.8,455.4 1050.8,455.5 1051.8,455.1 1052.8,454.9 1053.4,455.2 1053.7,455.0 1053.8,455.1 1054.1,455.1 1054.4,454.7 1054.7,454.1 1055.1,454.0 1055.4,453.5 1055.7,452.8 1055.8,452.7 1056.1,451.9 1056.5,450.4 1056.7,449.5 1056.8,448.9 1057.1,447.9 1057.5,447.6 1057.7,447.6 1057.8,447.6 1058.2,448.8 1058.5,450.4 1058.7,451.2 1058.9,451.7 1059.2,452.9 1059.5,453.5 1059.7,453.7 1059.9,454.1 1060.2,455.0 1060.6,455.1 1060.7,455.0 1060.9,455.0 1061.3,455.1 1061.6,455.4 1061.7,455.7 1062.7,456.3 1063.6,456.4 1064.6,456.5 1065.6,456.5 1066.6,456.6 1067.6,457.0 1068.6,457.1 1069.6,457.0 1070.6,456.9 1071.6,457.4 1072.5,457.6 1073.5,457.8 1074.5,457.5 1075.5,457.7 1076.5,458.0 1077.5,458.0 1078.5,458.2 1079.5,457.8 1080.5,458.2 1081.4,457.8 1082.4,457.9 1083.4,457.7 1084.4,458.1 1085.4,458.3 1086.4,458.6 1087.4,458.6 1088.4,458.7 1088.8,458.5 1089.2,458.6 1089.4,458.6 1089.6,458.2 1090.0,458.4 1090.3,458.1 1090.5,457.8 1090.9,457.4 1091.3,457.3 1091.3,457.2 1091.7,457.3 1092.1,457.1 1092.3,456.4 1092.5,455.9 1092.9,455.5 1093.3,454.9 1093.3,455.0 1093.8,455.2 1094.2,455.1 1094.3,455.2 1094.6,455.9 1095.0,456.4 1095.3,456.7 1095.4,457.1 1095.8,457.8 1096.2,458.3 1096.3,458.2 1096.6,458.3 1097.1,458.6 1097.3,458.8 1097.5,458.8 1097.9,458.6 1098.3,458.6 1098.3,458.6 1098.7,459.0 1099.2,459.0 1100.2,459.2 1101.2,459.5 1102.2,459.1 1103.2,459.4 1104.2,459.3 1105.2,459.5 1106.2,459.8 1107.2,459.6 1108.2,460.0 1109.1,459.7 1110.1,459.9 1111.1,459.9 1112.1,459.8 1113.1,459.9 1114.1,459.9 1115.1,459.9 1116.1,460.1 1117.1,459.8 1118.0,459.8 1119.0,460.2 1120.0,459.9 1121.0,460.3 1122.0,460.0 1123.0,460.2 1124.0,460.0 1125.0,460.0 1126.0,460.1 1126.9,459.8 1127.9,460.2 1128.9,460.2 1129.9,460.3 1130.9,460.3 1131.9,460.3 1132.9,460.2 1133.9,460.0 1134.9,460.3 1135.8,459.8 1136.8,460.0 1137.8,460.0 1138.8,459.5 1139.4,459.4 1139.8,459.2 1139.8,459.1 1140.2,458.5 1140.6,458.0 1140.8,457.7 1141.0,457.3 1141.4,456.8 1141.8,455.5 1141.8,455.3 1142.2,453.6 1142.7,451.7 1142.8,450.9 1143.1,449.0 1143.5,446.1 1143.8,444.6 1143.9,443.8 1144.3,443.0 1144.7,443.8 1144.7,444.3 1145.1,446.2 1145.5,448.4 1145.7,449.7 1146.0,450.9 1146.4,453.3 1146.7,454.9 1146.8,455.4 1147.2,456.4 1147.6,457.6 1147.7,457.5 1148.0,458.4 1148.4,458.8 1148.7,458.6 1148.8,459.0 1149.3,459.1 1149.7,459.2 1150.7,459.4 1151.7,460.0 1152.7,459.8 1153.7,460.2 1154.6,460.1 1155.6,460.2 1156.6,459.9 1157.6,459.6 1158.6,459.9 1159.6,459.8 1160.5,459.3 1160.6,459.7 1160.9,459.8 1161.2,459.2 1161.5,458.8 1161.6,459.0 1161.9,458.6 1162.2,458.7 1162.6,458.4 1162.6,458.6 1162.9,458.2 1163.3,457.8 1163.5,457.5 1163.6,457.3 1164.0,456.6 1164.3,456.0 1164.5,455.6 1164.6,455.4 1165.0,455.9 1165.3,456.0 1165.5,456.2 1165.7,456.3 1166.0,456.9 1166.4,457.3 1166.5,457.7 1166.7,457.7 1167.0,457.7 1167.4,458.0 1167.5,458.1 1167.7,458.3 1168.1,458.0 1168.4,458.2 1168.5,458.4 1168.8,458.4 1169.5,457.6 1170.5,457.1 1171.5,456.5 1172.4,455.2 1172.9,453.7 1173.2,452.8 1173.4,451.9 1173.7,450.4 1174.0,448.1 1174.3,444.6 1174.4,442.2 1174.5,440.1 1174.8,434.3 1175.1,427.0 1175.4,418.7 1175.4,416.9 1175.6,409.9 1175.9,403.3 1176.2,401.0 1176.4,402.5 1176.5,403.1 1176.7,407.6 1177.0,414.5 1177.3,422.1 1177.4,425.5 1177.6,429.8 1177.8,436.2 1178.1,441.2 1178.4,445.1 1178.7,448.2 1178.9,450.3 1179.2,451.6 1179.4,452.1 1179.5,452.1 1180.4,454.3 1181.3,454.9 1181.4,454.9 1181.7,454.7 1182.1,454.6 1182.3,454.7 1182.4,455.2 1182.8,455.1 1183.1,454.7 1183.3,454.4 1183.5,453.9 1183.8,452.9 1184.1,452.1 1184.3,451.2 1184.5,450.8 1184.8,449.6 1185.2,448.7 1185.3,448.3 1185.5,448.0 1185.9,448.5 1186.2,449.2 1186.3,449.7 1186.6,450.4 1186.9,451.8 1187.2,453.0 1187.3,453.1 1187.6,453.9 1187.9,454.3 1188.3,454.7 1188.6,455.5 1189.0,455.5 1189.3,455.5 1189.3,455.6 1189.6,455.8 1190.2,456.2 1191.2,456.0 1192.2,456.4 1193.2,455.8 1194.2,456.0 1195.2,455.8 1196.2,455.6 1197.2,454.7 1198.2,453.9 1199.1,452.3 1199.8,449.7 1200.0,447.5 1200.1,446.0 1200.2,445.0 1200.5,439.5 1200.7,431.7 1200.9,418.9 1201.1,403.2 1201.2,401.2 1201.4,377.9 1201.6,349.7 1201.9,319.4 1202.1,291.6 1202.1,288.5 1202.3,272.4 1202.6,266.3 1202.8,272.1 1203.0,286.6 1203.1,292.8 1203.3,306.6 1203.5,330.7 1203.7,355.7 1204.0,379.8 1204.1,392.0 1204.2,399.8 1204.4,415.8 1204.7,428.0 1204.8,431.6 1204.9,436.6 1205.1,440.7 1205.1,441.8 1205.2,442.7 1205.4,445.3 1205.6,447.1 1206.0,449.0 1206.1,449.1 1206.4,449.1 1206.8,449.2 1207.1,448.6 1207.2,448.2 1207.6,446.8 1208.1,445.0 1208.5,442.3 1208.9,439.8 1209.0,438.4 1209.3,437.3 1209.7,436.8 1210.0,437.5 1210.1,437.9 1210.5,439.6 1210.9,442.5 1211.0,443.2 1211.3,445.0 1211.8,447.3 1212.0,448.7 1212.2,449.8 1212.6,451.3 1213.0,452.2 1213.4,453.0 1213.8,453.7 1214.0,453.8 1214.2,454.0 1214.6,454.3 1215.0,454.7 1216.0,455.0 1217.0,455.2 1217.9,454.8 1218.9,454.7 1219.9,454.6 1220.9,454.1 1221.9,453.4 1222.9,451.7 1223.9,446.8 1223.9,446.4 1224.2,443.7 1224.4,439.2 1224.6,432.3 1224.9,421.2 1225.1,403.5 1225.3,377.7 1225.6,344.1 1225.8,303.7 1225.9,294.0 1226.0,260.7 1226.3,221.2 1226.5,194.2 1226.7,184.9 1226.8,186.6 1227.0,192.9 1227.2,213.1 1227.4,240.3 1227.7,272.4 1227.8,296.5 1227.9,306.9 1228.1,340.8 1228.4,370.9 1228.6,395.0 1228.8,412.3 1228.8,413.6 1229.1,426.7 1229.3,435.9 1229.5,441.6 1229.8,446.0 1230.8,451.3 1231.8,453.3 1232.8,455.0 1233.8,456.2 1234.8,457.3 1235.7,458.0 1236.7,458.8 1237.7,459.2 1238.7,460.0 1239.7,460.3 1240.7,461.1 1241.7,461.9 1242.7,461.9 1243.7,462.7 1244.6,463.3 1245.6,463.8 1246.6,463.9 1247.6,464.6 1248.6,464.8 1249.6,464.7 1250.6,465.0 1251.6,465.1 1252.6,464.9 1253.5,465.1 1254.5,464.6 1255.5,464.5 1256.5,464.6 1257.5,464.6 1258.5,464.9 1259.5,464.9 1260.5,464.8 1261.5,464.8 1262.5,465.0 1263.4,464.8 1264.4,464.9 1265.4,464.8 1266.4,464.7 1267.4,464.5 1268.4,464.3 1269.4,464.1 1270.4,464.2 1271.4,464.2 1272.3,464.1 1273.3,464.2 1274.0,464.2 1274.3,464.5 1274.4,464.6 1274.8,464.5 1275.2,464.5 1275.3,464.2 1275.6,463.8 1276.1,463.8 1276.3,463.4 1276.5,463.8 1276.9,463.2 1277.3,463.0 1277.7,462.1 1278.1,461.2 1278.3,461.2 1278.5,461.2 1278.9,460.8 1279.3,461.2 1279.3,461.5 1279.8,461.7 1280.2,462.4 1280.3,462.6 1280.6,462.5 1281.0,463.1 1281.2,463.4 1281.4,463.6 1281.8,463.7 1282.2,464.0 1282.6,464.2 1283.1,464.5 1283.2,464.1 1283.5,464.1 1283.9,464.2 1284.2,464.5 1285.2,464.3 1286.2,464.1 1287.2,464.1 1288.2,464.1 1289.2,464.3 1290.1,464.8 1291.1,464.6 1292.1,464.4 1293.1,464.6 1294.1,464.5 1295.1,464.7 1296.1,464.8 1297.1,464.7 1298.1,464.9 1299.0,464.9 1300.0,465.0 1301.0,465.0 1302.0,465.1 1303.0,465.1 1304.0,464.7 1305.0,464.7 1306.0,464.9 1307.0,465.0 1308.0,465.0 1308.9,465.1 1309.9,465.1 1310.9,464.9 1311.9,464.9 1312.9,464.5 1313.9,464.5 1314.9,464.7 1315.9,465.0 1316.9,465.1 1317.8,464.8 1318.8,464.5 1319.8,464.8 1320.8,464.8 1321.8,464.5 1322.8,464.2 1323.8,464.7 1324.8,464.7 1325.8,464.3 1326.7,464.8 1327.7,464.7 1328.7,464.8 1329.7,464.8 1330.7,464.4 1331.7,464.4 1332.7,464.1 1333.7,464.3 1334.7,464.2 1335.6,464.3 1336.6,463.9 1337.6,463.6 1338.6,463.5 1339.6,463.0 1340.6,462.9 1341.6,462.9 1342.6,462.4 1343.6,460.9 1343.8,460.9 1344.2,459.8 1344.5,458.8 1344.6,458.9 1345.0,457.4 1345.4,455.3 1345.5,454.5 1345.8,452.4 1346.3,448.7 1346.5,446.0 1346.7,443.8 1347.1,437.5 1347.5,429.9 1347.5,429.7 1347.9,422.3 1348.3,416.7 1348.5,415.6 1348.7,414.7 1349.1,416.4 1349.5,419.9 1349.5,420.6 1350.0,426.4 1350.4,432.6 1350.5,434.8 1350.8,439.3 1351.2,445.3 1351.5,448.2 1351.6,449.4 1352.0,452.8 1352.4,455.2 1352.5,455.4 1352.8,457.1 1353.3,458.3 1353.4,459.3 1353.7,459.8 1354.4,460.9 1354.8,461.3 1355.2,461.8 1355.4,461.5 1355.6,461.4 1356.0,461.8 1356.4,461.5 1356.8,461.6 1357.2,461.6 1357.4,461.7 1357.7,460.9 1358.1,460.4 1358.4,459.8 1358.5,459.8 1358.9,458.8 1359.3,458.6 1359.4,458.9 1359.7,458.7 1360.1,459.0 1360.4,459.4 1360.5,459.7 1360.9,460.3 1361.4,460.9 1361.8,461.2 1362.2,462.2 1362.4,462.6 1362.6,462.9 1363.0,463.1 1363.3,463.7 1363.4,463.6 1363.8,463.6 1364.2,464.0 1364.3,463.7 1364.7,463.7 1365.3,464.2 1366.3,464.0 1367.3,464.5 1368.3,464.4 1369.3,464.5 1370.3,464.7 1371.3,464.9 1372.2,464.5 1372.9,464.2 1373.2,464.3 1373.3,464.2 1373.7,464.2 1374.1,464.0 1374.2,463.9 1374.5,464.1 1375.0,463.8 1375.2,463.7 1375.4,463.8 1375.8,463.4 1376.2,463.5 1376.6,463.5 1377.0,462.6 1377.2,462.8 1377.4,462.4 1377.8,462.6 1378.2,462.3 1378.3,462.6 1378.7,463.1 1379.1,463.0 1379.2,462.9 1379.5,463.1 1379.9,463.8 1380.2,464.1 1380.3,463.8 1380.7,464.4 1381.1,464.6 1381.6,464.9 1382.0,465.1 1382.1,464.6 1382.4,464.8 1382.8,464.5 1383.1,464.4 1384.1,464.7 1385.1,464.6 1386.1,464.6 1387.1,464.7 1388.1,464.8 1389.1,465.2 1390.0,465.2 1391.0,465.1 1392.0,465.3 1393.0,464.9 1394.0,465.2 1395.0,465.4 1396.0,465.5 1397.0,465.3 1398.0,465.2 1398.9,464.9 1399.9,465.0 1400.9,465.2 1401.9,465.5 1402.9,465.6 1403.9,465.3 1404.9,465.4 1405.9,465.6 1406.9,465.7 1407.8,465.6 1408.8,465.3 1409.8,465.6 1410.8,465.1 1411.8,465.2 1412.8,465.2 1413.8,465.5 1414.8,465.5 1415.8,465.2 1416.8,465.0 1417.7,464.8 1418.7,465.3 1419.7,465.5 1420.7,465.3 1421.7,465.1 1422.7,465.2 1423.7,465.0 1424.7,465.2 1425.7,465.1 1426.6,465.0 1427.3,465.2 1427.6,464.9 1427.7,464.9 1428.1,465.0 1428.5,465.2 1428.6,464.8 1429.0,464.7 1429.4,464.4 1429.6,464.3 1429.8,464.3 1430.2,464.3 1430.6,463.7 1431.0,463.5 1431.4,463.0 1431.6,462.9 1431.8,462.7 1432.2,462.6 1432.6,462.4 1432.7,462.6 1433.1,462.7 1433.5,463.1 1433.6,463.2 1433.9,463.3 1434.3,463.9 1434.6,463.7 1434.7,463.5 1435.1,463.7 1435.5,464.3 1436.0,464.2 1436.4,464.6 1436.5,464.3 1436.8,464.4 1437.2,464.6 1437.5,464.3 1438.3,464.4 1438.5,464.8 1438.7,464.9 1439.1,464.6 1439.5,464.8 1439.5,464.6 1439.9,464.6 1440.4,464.2 1440.5,464.0 1440.8,464.0 1441.2,463.8 1441.5,463.6 1441.6,463.1 1442.0,462.6 1442.4,462.1 1442.5,461.9 1442.8,461.5 1443.2,461.7 1443.5,461.4 1443.6,461.5 1444.1,461.4 1444.4,461.9 1444.5,462.0 1444.9,461.9 1445.3,462.6 1445.4,462.9 1445.7,463.0 1446.1,463.1 1446.4,463.1 1446.5,462.6 1446.9,462.5 1447.4,462.2 1447.4,462.0 1447.8,462.1 1448.2,461.9 1448.4,461.6 1448.6,461.6 1449.0,460.6 1449.4,459.6 1449.4,459.4 1449.8,458.0 1450.2,456.4 1450.4,455.6 1450.7,453.8 1451.1,450.4 1451.4,447.0 1451.5,445.4 1451.9,440.3 1452.3,434.4 1452.4,433.7 1452.7,430.6 1453.1,429.2 1453.3,429.4 1453.5,430.4 1454.0,433.0 1454.3,436.0 1454.4,435.9 1454.8,439.9 1455.2,444.3 1455.3,445.9 1455.6,448.6 1456.0,452.6 1456.3,454.8 1456.4,455.1 1456.8,457.5 1457.2,458.9 1457.3,459.3 1457.7,460.2 1458.1,461.5 1458.3,461.6 1459.3,462.9 1460.3,463.7 1461.3,463.8 1462.2,464.1 1463.2,464.1 1464.2,464.2 1465.2,464.3 1466.2,464.6 1467.2,464.7 1468.2,464.4 1469.2,464.7 1470.2,464.7 1471.2,464.7 1472.1,464.7 1473.1,465.0 1474.1,465.0 1475.1,465.0 1476.1,464.8 1477.1,464.7 1478.1,464.6 1479.1,464.7 1480.1,464.6 1481.0,464.2 1481.2,464.2 1481.6,464.0 1482.0,463.8 1482.0,464.0 1482.4,464.0 1482.8,464.0 1483.0,463.8 1483.2,463.7 1483.6,463.6 1484.0,463.3 1484.0,463.2 1484.4,462.9 1484.9,462.7 1485.0,462.2 1485.3,461.7 1485.7,461.6 1486.0,461.9 1486.1,461.9 1486.5,461.8 1486.9,462.3 1487.0,462.3 1487.3,462.6 1487.7,462.9 1488.0,462.6 1488.2,462.6 1488.6,463.3 1489.0,463.4 1489.0,463.8 1489.4,463.6 1489.8,464.2 1489.9,464.2 1490.2,464.1 1490.6,464.4 1490.9,464.4 1491.0,464.3 1491.9,464.2 1492.9,464.5 1493.9,464.2 1494.9,464.2 1495.9,464.0 1496.9,463.8 1497.9,463.9 1498.8,463.8 1499.8,464.0 1500.8,463.9 1501.8,463.6 1502.8,463.7 1503.8,463.6 1504.8,463.4 1505.8,463.4 1506.8,463.1 1507.7,462.6 1508.7,462.7 1509.7,462.4 1510.7,461.2 1511.7,459.9 1511.9,459.5 1512.3,458.3 1512.7,457.4 1512.7,457.0 1513.2,455.3 1513.6,453.0 1513.7,451.9 1514.0,449.4 1514.4,445.3 1514.7,441.4 1514.8,438.9 1515.2,431.4 1515.6,421.8 1515.7,421.3 1516.0,412.2 1516.5,405.3 1516.7,403.2 1516.9,402.7 1517.3,404.3 1517.6,407.9 1517.7,408.5 1518.1,413.6 1518.5,419.3 1518.6,420.5 1518.9,425.3 1519.3,432.2 1519.6,436.6 1519.8,438.7 1520.2,444.3 1520.6,448.9 1520.6,449.3 1521.0,452.8 1521.4,455.3 1521.6,456.3 1521.8,457.0 1522.6,459.0 1523.6,460.6 1524.6,461.5 1525.6,461.9 1526.5,462.4 1527.5,463.2 1528.5,463.1 1529.5,463.4 1530.5,463.4 1531.5,463.8 1532.5,463.5 1533.5,463.7 1534.5,464.0 1535.4,464.0 1536.4,463.8 1537.4,464.2 1538.4,463.8 1539.4,464.3 1540.4,464.4 1541.4,464.5 1542.4,464.6 1543.4,464.3 1544.3,464.3 1545.3,464.2 1546.3,464.3 1547.3,464.1 1548.3,464.4 1549.3,464.1 1550.3,464.2 1551.3,463.9 1552.3,463.7 1553.2,464.1 1554.2,464.0 1555.2,463.9 1556.2,464.2 1557.0,464.1 1557.2,463.7 1557.4,463.7 1557.8,463.6 1558.2,463.6 1558.2,463.4 1558.6,463.1 1559.0,463.2 1559.2,463.1 1559.5,462.8 1559.9,462.4 1560.2,462.0 1560.3,461.5 1560.7,461.0 1561.1,460.2 1561.2,459.8 1561.5,459.3 1561.9,459.5 1562.1,459.7 1562.3,459.9 1562.8,460.0 1563.1,460.3 1563.2,460.2 1563.6,460.6 1564.0,461.0 1564.1,461.0 1564.4,461.7 1564.8,462.0 1565.1,462.0 1565.2,462.4 1565.6,462.4 1566.1,462.6 1566.1,462.8 1566.5,462.8 1566.9,463.0 1567.1,463.1 1568.1,463.3 1569.1,463.4 1570.1,463.3 1571.1,462.7 1572.0,462.1 1573.0,461.2 1573.2,461.1 1573.5,460.8 1573.9,460.5 1574.0,459.8 1574.2,459.5 1574.6,458.0 1574.9,456.6 1575.0,456.2 1575.3,454.7 1575.6,451.3 1575.9,446.7 1576.0,445.9 1576.3,441.9 1576.6,437.1 1577.0,433.4 1577.0,433.4 1577.3,431.5 1577.7,432.6 1578.0,435.3 1578.0,435.3 1578.3,438.2 1578.7,440.2 1579.0,441.5 1579.0,441.7 1579.4,443.9 1579.7,446.3 1580.0,448.3 1580.1,449.1 1580.4,452.0 1580.7,454.5 1580.9,456.0 1581.1,456.5 1581.4,458.1 1581.9,460.0 1582.9,461.8 1583.9,462.2 1584.9,462.7 1585.9,463.0 1586.9,462.8 1587.9,462.4 1588.0,462.4 1588.4,461.8 1588.7,461.4 1588.9,461.1 1589.1,460.6 1589.4,460.1 1589.7,459.1 1589.8,458.6 1590.1,457.3 1590.4,455.2 1590.8,452.8 1590.8,452.3 1591.1,450.0 1591.5,447.2 1591.8,444.6 1591.8,444.5 1592.2,443.5 1592.5,444.0 1592.8,445.9 1592.8,446.2 1593.2,447.6 1593.5,448.9 1593.8,449.9 1593.9,450.2 1594.2,450.9 1594.6,452.5 1594.8,453.7 1594.9,454.5 1595.2,456.6 1595.6,458.0 1595.8,458.7 1595.9,459.7 1596.3,460.4 1596.8,461.3 1597.8,462.7 1598.7,463.3 1599.7,463.6 1600.7,463.7 1601.7,463.6 1602.7,463.9 1603.7,463.9 1604.7,464.0 1605.7,464.4 1606.7,464.3 1607.6,464.2 1608.6,464.1 1609.6,464.0 1610.6,464.2 1611.6,464.4 1612.6,464.0 1613.6,463.7 1614.6,463.8 1615.6,463.5 1616.5,463.5 1617.2,463.1 1617.5,463.1 1617.5,463.1 1617.8,463.2 1618.2,462.6 1618.5,461.9 1618.9,461.2 1619.2,460.4 1619.5,459.1 1619.6,458.8 1619.9,457.4 1620.2,455.4 1620.5,453.4 1620.6,453.3 1620.9,451.3 1621.3,450.7 1621.5,451.1 1621.6,451.4 1622.0,452.9 1622.3,453.8 1622.5,454.5 1622.6,454.6 1623.0,455.0 1623.3,455.9 1623.5,456.4 1623.7,456.5 1624.0,457.5 1624.4,458.7 1624.5,459.3 1624.7,459.9 1625.1,461.4 1625.4,461.7 1625.5,462.1 1626.4,463.5 1627.4,463.9 1628.4,464.3 1629.4,464.2 1630.4,464.5 1631.4,464.6 1632.4,464.8 1633.4,464.9 1634.4,465.0 1635.3,465.1 1636.3,464.7 1637.3,464.4 1638.3,464.4 1639.3,464.7 1640.3,464.8 1641.3,464.8 1642.3,464.8 1643.3,464.5 1644.2,465.0 1645.2,465.0 1646.2,465.0 1647.2,464.9 1648.2,465.2 1649.2,465.0 1650.2,465.0 1651.2,465.2 1652.2,464.8 1653.1,465.1 1654.1,465.1 1655.1,464.9 1656.1,464.7 1657.1,464.8 1658.1,464.7 1659.1,464.5 1660.1,464.9 1661.1,465.1 1662.0,465.3 1663.0,465.3 1664.0,465.0 1665.0,465.2 1666.0,464.8 1667.0,464.7 1668.0,464.7 1669.0,464.8 1670.0,464.5 1670.9,464.2 1671.6,464.6 1671.9,464.2 1672.0,464.5 1672.5,464.4 1672.9,464.6 1673.0,464.6 1673.5,464.2 1673.9,463.9 1674.0,463.9 1674.4,463.3 1674.9,462.5 1674.9,463.0 1675.4,462.3 1675.9,461.6 1675.9,461.5 1676.4,460.3 1676.8,459.5 1676.9,459.5 1677.3,459.8 1677.8,460.2 1677.9,459.9 1678.3,460.2 1678.8,461.0 1678.9,460.9 1679.2,461.0 1679.7,461.4 1679.9,461.3 1680.2,461.9 1680.7,462.2 1680.8,462.5 1681.2,462.7 1681.7,463.0 1681.8,463.5 1682.1,463.8 1682.6,463.8 1682.8,463.9 1683.1,464.4 1683.8,464.4 1684.5,464.3 1684.8,464.4 1684.9,464.7 1685.3,464.7 1685.7,464.6 1685.8,464.6 1686.1,464.5 1686.5,464.7 1686.8,464.4 1686.9,464.1 1687.4,464.1 1687.8,464.2 1688.2,464.1 1688.6,463.9 1688.8,463.3 1689.0,463.6 1689.4,463.7 1689.7,463.4 1689.8,463.2 1690.2,463.3 1690.6,463.3 1690.7,463.3 1691.1,463.6 1691.5,463.9 1691.7,464.0 1691.9,464.0 1692.3,464.3 1692.7,464.6 1693.1,464.9 1693.5,464.9 1693.7,464.8 1693.9,464.4 1694.4,464.5 1694.7,464.4 1695.7,465.0 1696.7,465.2 1697.7,464.8 1698.6,464.8 1699.6,464.8 1700.6,465.0 1701.6,465.4 1702.6,465.1 1703.6,465.2"/>
<polyline fill="none" stroke="#127b74" stroke-width="1.75" stroke-linejoin="round" points="1044.3,425.7 1045.3,426.0 1046.3,425.7 1047.3,426.1 1048.3,425.8 1049.2,426.0 1050.2,425.7 1051.2,425.9 1052.2,425.4 1052.3,425.7 1052.6,425.6 1053.0,425.5 1053.2,425.1 1053.3,425.2 1053.6,425.0 1054.0,423.8 1054.2,423.3 1054.3,423.2 1054.7,421.9 1055.0,420.1 1055.2,418.9 1055.4,418.2 1055.7,415.7 1056.0,414.3 1056.2,414.1 1056.4,413.5 1056.7,414.1 1057.1,415.8 1057.2,416.4 1057.4,418.0 1057.8,420.4 1058.1,422.3 1058.1,422.2 1058.4,423.6 1058.8,424.2 1059.1,424.8 1059.5,425.6 1059.8,426.3 1060.1,426.7 1060.2,426.9 1060.5,427.2 1061.1,427.1 1062.1,427.6 1063.1,428.0 1064.1,427.8 1065.1,428.0 1066.1,428.0 1067.0,428.0 1068.0,428.3 1069.0,428.6 1070.0,429.0 1071.0,428.7 1072.0,428.8 1073.0,429.3 1074.0,429.4 1075.0,429.4 1076.0,429.2 1076.9,429.4 1077.9,429.3 1078.9,429.6 1079.9,429.7 1080.9,429.7 1081.9,430.0 1082.9,429.9 1083.9,429.9 1084.9,430.2 1085.8,430.0 1086.8,429.8 1087.7,429.9 1087.8,429.9 1088.1,430.2 1088.5,429.9 1088.8,429.8 1088.9,429.5 1089.4,429.5 1089.8,429.2 1089.8,429.3 1090.2,429.3 1090.6,428.5 1090.8,428.7 1091.0,428.4 1091.4,427.8 1091.8,427.1 1091.8,426.9 1092.2,426.2 1092.7,425.9 1092.8,425.8 1093.1,426.0 1093.5,426.6 1093.8,427.1 1093.9,427.8 1094.3,428.6 1094.7,429.2 1094.7,428.8 1095.1,429.2 1095.5,429.7 1095.7,430.1 1096.0,430.1 1096.4,430.4 1096.7,430.8 1096.8,430.5 1097.2,430.5 1097.6,430.8 1097.7,430.7 1098.7,431.0 1099.7,431.0 1100.7,430.8 1101.7,431.0 1102.7,430.9 1103.6,431.4 1104.6,431.7 1105.6,431.6 1106.6,431.9 1107.6,431.6 1108.6,431.6 1109.6,431.4 1110.6,431.2 1110.8,431.7 1111.2,431.3 1111.6,431.7 1111.6,431.7 1112.0,431.7 1112.4,431.2 1112.5,431.5 1112.9,431.5 1113.3,430.9 1113.5,430.5 1113.7,430.3 1114.1,430.0 1114.5,429.3 1114.5,429.6 1114.9,429.1 1115.3,428.8 1115.5,428.4 1115.7,428.6 1116.1,428.7 1116.5,429.2 1116.6,429.2 1117.0,430.1 1117.4,430.8 1117.5,431.0 1117.8,431.0 1118.2,431.1 1118.5,431.2 1118.6,431.2 1119.0,432.0 1119.4,431.9 1119.5,432.2 1119.9,432.1 1120.3,432.3 1120.5,432.1 1120.7,432.1 1121.4,432.5 1122.4,432.7 1123.4,433.0 1124.4,432.8 1125.4,432.7 1126.4,432.5 1127.4,432.6 1128.4,433.2 1129.4,433.3 1130.4,433.3 1131.3,433.2 1132.3,433.5 1133.3,433.5 1134.3,433.2 1135.3,433.0 1136.3,432.9 1137.3,433.3 1138.3,433.5 1139.3,433.1 1139.4,433.0 1139.8,432.9 1140.2,433.1 1140.2,433.2 1140.6,432.9 1141.0,432.7 1141.2,432.4 1141.4,432.8 1141.8,432.4 1142.2,432.3 1142.2,431.9 1142.7,431.4 1143.1,430.8 1143.2,430.8 1143.5,430.1 1143.9,429.3 1144.2,429.5 1144.3,429.7 1144.7,429.7 1145.1,430.0 1145.2,429.8 1145.5,430.5 1146.0,431.5 1146.2,431.6 1146.4,431.8 1146.8,432.4 1147.2,432.5 1147.2,432.3 1147.6,432.7 1148.0,433.3 1148.2,433.5 1148.4,433.3 1148.8,433.5 1149.1,433.7 1149.3,433.6 1150.1,433.5 1151.1,433.4 1152.1,433.7 1153.1,433.8 1154.1,433.6 1155.1,433.4 1156.1,433.2 1157.1,433.7 1158.0,433.9 1159.0,433.7 1160.0,433.5 1160.0,433.6 1160.3,433.2 1160.7,433.2 1161.0,433.0 1161.0,433.3 1161.3,432.7 1161.7,432.8 1162.0,432.1 1162.0,432.2 1162.4,431.9 1162.7,430.8 1163.0,430.3 1163.1,429.8 1163.4,429.2 1163.7,428.6 1164.0,428.8 1164.1,428.6 1164.4,429.0 1164.8,429.6 1165.0,430.0 1165.1,430.0 1165.5,430.5 1165.8,431.4 1166.0,431.4 1166.2,431.9 1166.5,432.1 1166.8,432.6 1166.9,432.9 1167.2,433.3 1167.5,433.0 1167.9,432.9 1167.9,433.0 1168.2,433.4 1168.9,433.2 1169.9,433.2 1170.9,433.0 1171.9,432.5 1172.9,432.2 1173.2,431.8 1173.4,431.6 1173.7,431.3 1173.9,431.0 1174.0,430.4 1174.3,429.6 1174.5,428.3 1174.8,426.6 1174.9,425.7 1175.1,423.8 1175.4,421.4 1175.6,418.7 1175.9,417.0 1175.9,416.7 1176.2,416.1 1176.5,416.8 1176.7,418.4 1176.8,419.2 1177.0,420.6 1177.3,422.8 1177.6,424.8 1177.8,426.8 1178.1,428.7 1178.4,430.0 1178.7,430.8 1178.8,430.8 1178.9,430.9 1179.2,431.6 1179.5,431.9 1179.8,432.0 1180.8,432.8 1181.7,432.5 1181.8,432.8 1181.9,432.7 1182.2,432.8 1182.5,432.6 1182.8,431.9 1183.0,431.3 1183.3,431.0 1183.6,430.1 1183.8,429.4 1183.9,429.2 1184.1,427.9 1184.4,426.7 1184.7,425.7 1184.8,425.3 1185.0,425.3 1185.2,425.3 1185.5,426.2 1185.7,427.2 1185.8,427.0 1186.1,427.8 1186.3,429.4 1186.6,430.1 1186.7,430.6 1186.9,430.9 1187.2,431.3 1187.4,431.7 1187.7,431.9 1188.0,432.6 1188.3,432.9 1188.7,433.2 1189.7,433.0 1190.7,432.9 1191.7,432.7 1192.7,433.0 1193.7,433.1 1194.6,433.0 1195.6,432.6 1196.6,431.9 1197.6,430.8 1198.6,428.8 1199.6,425.0 1199.8,424.1 1200.0,422.1 1200.2,418.4 1200.5,411.5 1200.6,406.5 1200.7,401.1 1200.9,384.7 1201.2,361.5 1201.4,330.9 1201.6,302.8 1201.6,293.6 1201.9,254.0 1202.1,217.8 1202.3,193.0 1202.6,185.2 1202.8,192.9 1203.0,211.2 1203.3,237.9 1203.5,269.0 1203.5,276.9 1203.7,302.7 1204.0,333.9 1204.2,360.6 1204.4,381.9 1204.5,389.6 1204.7,396.7 1204.9,407.4 1205.1,414.8 1205.3,418.4 1205.4,419.6 1205.5,421.2 1205.7,423.2 1206.1,425.0 1206.5,425.6 1206.5,425.3 1207.0,425.4 1207.4,425.0 1207.5,424.9 1207.8,424.1 1208.2,422.3 1208.5,420.6 1208.6,419.6 1209.0,416.4 1209.4,413.6 1209.5,413.2 1209.8,411.0 1210.2,410.4 1210.5,410.8 1210.7,411.4 1211.1,413.9 1211.5,416.5 1211.5,416.9 1211.9,420.0 1212.3,422.8 1212.4,423.5 1212.7,424.7 1213.1,426.9 1213.4,428.2 1213.5,428.2 1214.0,429.3 1214.4,429.5 1214.4,429.6 1214.8,430.4 1215.2,430.6 1215.4,430.3 1216.4,430.8 1217.4,430.4 1218.4,430.5 1219.4,430.0 1220.4,429.3 1221.3,428.0 1222.3,425.2 1222.6,424.5 1223.0,423.0 1223.3,420.9 1223.3,420.3 1223.6,417.2 1224.0,413.1 1224.3,407.5 1224.3,407.1 1224.7,398.3 1225.0,386.8 1225.3,374.6 1225.4,372.2 1225.7,355.4 1226.0,338.0 1226.3,327.5 1226.4,324.9 1226.7,320.4 1227.1,324.2 1227.3,329.3 1227.4,334.3 1227.8,348.4 1228.1,364.1 1228.3,372.1 1228.5,379.7 1228.8,392.3 1229.1,402.4 1229.3,405.8 1229.5,410.2 1229.8,415.6 1230.2,419.4 1230.3,420.0 1230.5,422.0 1230.9,424.1 1231.2,426.1 1232.2,429.2 1233.2,431.2 1234.2,432.6 1235.2,433.5 1236.2,433.7 1237.2,434.3 1238.2,434.4 1239.2,434.7 1240.1,435.0 1241.1,435.3 1242.1,435.8 1243.1,435.9 1244.1,435.8 1245.1,436.2 1246.1,436.2 1247.1,436.7 1248.1,436.5 1249.0,436.5 1250.0,436.5 1251.0,436.7 1252.0,437.2 1253.0,437.0 1254.0,437.4 1255.0,437.8 1256.0,437.6 1257.0,437.9 1257.9,438.1 1258.9,438.4 1259.9,438.6 1260.9,438.5 1261.9,438.4 1262.9,438.4 1263.9,438.3 1264.9,438.1 1265.9,438.5 1266.8,438.4 1267.8,438.2 1268.8,438.4 1269.8,438.2 1270.8,438.5 1271.8,438.8 1272.8,438.4 1272.9,438.1 1273.3,437.9 1273.7,437.9 1273.8,438.3 1274.1,438.5 1274.5,438.2 1274.8,437.9 1275.0,437.4 1275.4,437.4 1275.7,436.6 1275.8,436.5 1276.2,436.2 1276.6,435.6 1276.7,435.1 1277.0,435.0 1277.4,434.4 1277.7,434.3 1277.8,433.9 1278.2,434.4 1278.7,434.4 1278.7,434.7 1279.1,434.9 1279.5,436.0 1279.7,436.4 1279.9,436.7 1280.3,437.1 1280.7,437.7 1280.7,437.3 1281.1,437.5 1281.5,437.6 1281.7,438.0 1282.0,437.9 1282.4,437.9 1282.7,438.4 1282.8,438.4 1283.7,438.5 1284.7,438.9 1285.6,438.8 1286.6,439.1 1287.6,439.3 1288.6,438.9 1289.6,438.7 1290.6,438.5 1291.6,438.6 1292.6,438.8 1293.6,439.2 1294.3,439.3 1294.5,439.3 1294.7,438.9 1295.1,439.2 1295.5,439.0 1295.6,439.2 1296.0,438.8 1296.4,439.1 1296.5,438.9 1296.8,438.6 1297.2,438.8 1297.5,438.8 1297.6,438.5 1298.0,438.3 1298.4,438.3 1298.5,438.1 1298.9,438.1 1299.3,438.0 1299.5,437.9 1299.7,437.9 1300.1,437.9 1300.5,438.4 1300.5,438.5 1300.9,438.3 1301.3,438.3 1301.5,438.4 1301.7,438.7 1302.2,438.8 1302.5,439.0 1302.6,439.1 1303.0,439.0 1303.4,438.7 1303.4,439.0 1303.8,439.1 1304.2,439.0 1304.4,439.3 1305.4,439.0 1306.4,438.9 1307.4,439.1 1308.4,439.1 1309.4,439.3 1310.4,439.0 1311.4,439.1 1312.3,439.3 1313.3,439.3 1314.3,439.1 1315.3,438.9 1316.3,439.0 1317.3,439.0 1318.3,439.5 1319.3,439.1 1320.3,439.4 1321.2,439.7 1322.2,439.6 1323.2,439.2 1324.2,439.4 1325.2,439.7 1326.2,439.4 1327.2,439.5 1328.2,439.2 1329.2,439.1 1330.1,439.1 1331.1,439.3 1332.1,439.6 1333.1,439.1 1334.1,438.8 1335.1,438.8 1336.1,439.1 1337.1,439.2 1338.1,439.1 1339.1,439.1 1340.0,438.9 1341.0,438.4 1342.0,438.6 1343.0,437.9 1344.0,437.0 1344.6,436.3 1344.9,435.8 1345.0,436.1 1345.3,435.3 1345.6,434.3 1346.0,433.3 1346.3,431.6 1346.7,429.2 1347.0,426.0 1347.0,425.9 1347.3,421.6 1347.7,416.5 1348.0,412.9 1348.0,411.4 1348.4,407.5 1348.7,406.4 1348.9,406.9 1349.1,407.5 1349.4,409.6 1349.8,412.9 1349.9,415.0 1350.1,416.6 1350.4,420.8 1350.8,424.4 1350.9,425.6 1351.1,427.8 1351.5,430.8 1351.8,432.7 1351.9,432.9 1352.2,433.7 1352.5,435.2 1352.8,436.1 1352.9,436.4 1353.9,437.3 1354.8,438.0 1354.9,437.8 1355.2,437.7 1355.6,437.9 1355.9,438.0 1356.0,438.4 1356.4,438.4 1356.8,438.3 1356.9,438.6 1357.2,438.8 1357.7,438.6 1357.8,438.7 1358.1,438.3 1358.5,438.2 1358.8,438.5 1358.9,438.4 1359.3,438.1 1359.7,438.0 1359.8,438.4 1360.1,438.3 1360.5,438.8 1360.8,439.0 1360.9,438.9 1361.4,439.1 1361.8,438.9 1361.8,439.0 1362.2,438.7 1362.6,438.9 1362.8,438.6 1363.0,438.7 1363.4,439.2 1363.8,439.3 1363.8,438.9 1364.2,439.3 1364.7,439.5 1364.8,439.6 1365.8,439.4 1366.7,439.1 1367.7,439.4 1368.7,439.4 1369.7,439.0 1370.7,439.1 1371.7,439.3 1372.4,439.4 1372.7,439.4 1372.8,439.1 1373.2,438.8 1373.6,438.6 1373.7,438.6 1374.0,438.7 1374.4,438.7 1374.7,439.0 1374.8,438.9 1375.2,438.9 1375.6,438.7 1376.1,438.4 1376.5,438.2 1376.6,438.2 1376.9,438.0 1377.3,437.8 1377.6,438.0 1377.7,437.7 1378.1,437.6 1378.5,437.7 1378.6,437.7 1378.9,437.8 1379.4,438.0 1379.6,438.3 1379.8,438.7 1380.2,439.2 1380.6,439.3 1381.0,439.4 1381.4,439.4 1381.6,439.1 1381.8,439.3 1382.2,439.4 1382.6,439.4 1383.6,439.7 1384.6,439.9 1385.5,439.5 1386.5,439.2 1387.5,439.3 1388.5,439.5 1389.5,439.5 1390.5,439.4 1391.5,439.3 1392.5,439.4 1393.5,439.2 1394.4,439.4 1395.4,439.8 1396.4,440.0 1397.4,440.0 1398.4,439.6 1399.4,439.6 1400.4,439.4 1401.4,439.3 1402.4,439.2 1403.3,439.2 1404.3,439.6 1405.3,439.5 1406.3,439.7 1407.3,439.7 1408.3,439.6 1409.3,439.8 1410.3,439.8 1411.3,439.6 1412.2,439.5 1413.2,439.7 1414.2,439.6 1415.2,439.7 1416.2,439.7 1417.2,440.1 1418.2,439.7 1419.2,440.0 1420.2,439.7 1421.1,439.4 1422.1,439.9 1423.1,440.1 1424.1,439.9 1425.1,440.1 1426.1,439.8 1426.2,439.7 1426.6,440.0 1427.0,440.1 1427.1,440.3 1427.4,439.9 1427.9,439.9 1428.1,440.1 1428.3,440.0 1428.7,439.6 1429.1,439.8 1429.1,439.8 1429.5,439.2 1429.9,439.1 1430.0,439.4 1430.3,439.3 1430.7,439.2 1431.0,438.7 1431.1,439.0 1431.6,438.8 1432.0,438.7 1432.0,439.0 1432.4,439.0 1432.8,439.5 1433.0,439.6 1433.2,439.2 1433.6,439.1 1434.0,439.1 1434.0,439.0 1434.4,439.2 1434.9,439.4 1435.0,439.2 1435.3,439.7 1435.7,440.0 1436.0,439.8 1436.1,439.8 1437.0,439.9 1438.0,440.2 1439.0,440.2 1439.9,439.8 1440.9,439.9 1441.9,439.7 1442.9,440.0 1443.9,440.2 1444.9,439.9 1445.9,440.1 1446.9,440.0 1447.9,439.8 1448.8,439.2 1449.0,439.3 1449.4,438.7 1449.7,438.8 1449.8,438.5 1450.0,438.5 1450.4,437.9 1450.7,437.0 1450.8,436.7 1451.1,436.0 1451.4,435.1 1451.8,433.4 1451.8,433.0 1452.1,431.8 1452.4,430.0 1452.8,428.1 1452.8,428.1 1453.1,428.0 1453.5,428.2 1453.8,428.6 1453.8,428.9 1454.2,430.0 1454.5,431.1 1454.8,432.0 1454.8,432.1 1455.2,433.3 1455.5,434.4 1455.8,435.7 1455.9,436.3 1456.2,436.8 1456.6,437.3 1456.8,437.4 1456.9,437.8 1457.2,438.5 1457.7,438.8 1458.7,439.1 1459.7,439.4 1460.7,439.7 1461.7,439.9 1462.7,439.9 1463.7,439.9 1464.7,439.9 1465.7,440.1 1466.6,439.9 1467.6,440.3 1468.6,440.3 1469.6,440.4 1470.6,440.4 1471.6,440.6 1472.6,440.0 1473.6,439.9 1474.6,440.1 1475.5,440.4 1476.5,440.2 1477.5,440.0 1478.5,440.1 1479.5,440.5 1480.5,440.0 1481.5,439.8 1482.5,440.1 1483.5,439.9 1484.4,440.3 1485.4,439.9 1486.4,440.2 1487.4,440.0 1488.4,440.2 1489.4,440.3 1490.4,440.2 1491.4,440.1 1492.4,440.4 1493.4,440.2 1494.3,439.9 1495.3,439.7 1496.3,439.9 1497.3,439.8 1498.3,439.9 1499.3,439.8 1500.3,439.6 1501.3,439.7 1502.3,439.9 1503.2,439.7 1504.2,440.0 1505.2,440.0 1506.2,439.8 1507.2,439.6 1508.2,439.5 1509.2,439.0 1510.2,438.8 1511.2,437.8 1512.1,437.0 1512.7,436.1 1513.1,434.8 1513.1,434.4 1513.4,433.7 1513.8,432.2 1514.1,430.2 1514.5,427.1 1514.8,423.3 1515.1,418.9 1515.2,418.4 1515.5,411.6 1515.8,403.6 1516.1,397.1 1516.2,395.5 1516.5,388.8 1516.9,386.6 1517.1,387.4 1517.2,388.8 1517.6,392.7 1517.9,396.5 1518.1,398.6 1518.2,400.3 1518.6,403.7 1518.9,408.6 1519.1,410.2 1519.3,413.5 1519.6,419.2 1520.0,423.9 1520.1,425.0 1520.3,427.3 1520.6,429.8 1521.0,432.2 1521.0,432.2 1522.0,436.0 1523.0,437.1 1524.0,437.8 1525.0,438.2 1526.0,438.7 1527.0,439.1 1528.0,439.5 1529.0,439.4 1529.9,439.3 1530.9,439.4 1531.9,440.0 1532.9,439.8 1533.9,439.8 1534.9,440.2 1535.9,440.3 1536.9,440.1 1537.9,440.3 1538.8,440.1 1539.8,440.2 1540.8,440.3 1541.8,440.0 1542.8,439.8 1543.8,440.1 1544.8,440.3 1545.8,440.5 1546.8,440.0 1547.8,440.1 1548.7,440.2 1549.7,440.0 1550.7,440.0 1551.7,440.2 1552.7,440.5 1553.7,440.0 1554.7,439.9 1555.7,440.3 1556.7,440.2 1557.5,440.1 1557.6,440.3 1557.9,440.5 1558.4,440.1 1558.6,440.4 1558.8,440.2 1559.2,440.0 1559.6,440.0 1559.6,439.9 1560.0,439.8 1560.4,439.2 1560.6,439.4 1560.8,439.1 1561.2,438.7 1561.6,438.6 1561.7,438.7 1562.1,438.5 1562.5,438.1 1562.6,438.1 1562.9,438.3 1563.3,438.4 1563.6,438.3 1563.7,438.3 1564.1,438.6 1564.5,438.9 1564.6,439.3 1565.0,439.3 1565.4,439.7 1565.6,439.9 1565.8,439.5 1566.2,439.3 1566.5,439.8 1566.6,439.7 1567.0,439.9 1567.4,440.2 1567.5,439.7 1568.5,439.8 1569.5,440.0 1570.5,439.7 1571.5,439.7 1572.5,439.2 1573.5,438.9 1573.7,438.7 1574.0,437.9 1574.3,437.6 1574.5,437.1 1574.6,436.7 1574.8,436.2 1575.1,434.5 1575.4,432.9 1575.4,432.4 1575.7,430.6 1575.9,427.8 1576.2,424.9 1576.4,423.1 1576.5,422.5 1576.8,421.8 1577.0,422.7 1577.3,424.4 1577.4,425.0 1577.6,426.5 1577.9,428.0 1578.1,429.0 1578.4,429.4 1578.7,429.3 1579.0,430.3 1579.2,431.3 1579.4,432.2 1579.5,432.7 1579.8,434.4 1580.1,435.8 1580.4,436.8 1581.4,438.5 1582.4,439.3 1583.4,439.6 1584.3,439.8 1585.3,439.6 1586.3,440.1 1587.3,440.2 1588.3,439.6 1588.6,439.4 1588.9,439.0 1589.1,438.7 1589.3,438.5 1589.4,438.5 1589.7,438.5 1590.0,438.4 1590.2,437.6 1590.3,437.1 1590.5,436.8 1590.8,435.4 1591.1,434.5 1591.3,433.6 1591.3,433.5 1591.6,432.9 1591.9,433.1 1592.2,434.2 1592.3,434.6 1592.4,435.0 1592.7,435.5 1593.0,436.1 1593.3,436.1 1593.5,436.4 1593.8,436.6 1594.1,436.6 1594.2,436.8 1594.3,437.1 1594.6,437.5 1594.9,438.3 1595.2,439.2 1596.2,440.1 1597.2,440.2 1598.2,440.3 1599.2,440.6 1600.2,440.4 1601.2,440.7 1602.2,440.3 1603.1,440.0 1604.1,440.4 1605.1,440.6 1606.1,440.3 1607.1,440.3 1608.1,440.6 1609.1,440.8 1610.1,440.9 1611.1,440.7 1612.0,440.6 1613.0,440.8 1614.0,440.8 1615.0,440.3 1616.0,440.4 1617.0,440.3 1618.0,439.7 1618.3,439.1 1618.5,438.8 1618.8,438.6 1619.0,438.5 1619.1,438.0 1619.4,436.9 1619.6,435.7 1619.9,434.2 1620.0,433.9 1620.2,432.5 1620.5,430.3 1620.7,427.9 1620.9,426.2 1621.0,426.0 1621.3,425.0 1621.5,425.8 1621.8,427.8 1621.9,428.8 1622.1,429.4 1622.4,430.8 1622.6,431.7 1622.9,431.6 1623.2,431.7 1623.5,432.0 1623.7,432.5 1623.9,433.1 1624.0,433.3 1624.3,434.8 1624.6,436.2 1624.9,437.2 1625.9,439.2 1626.9,439.8 1627.9,439.9 1628.9,440.3 1629.8,440.7 1630.8,440.8 1631.8,441.0 1632.8,441.0 1633.8,440.6 1634.8,441.0 1635.8,440.7 1636.8,440.6 1637.8,440.5 1638.7,440.7 1639.7,440.7 1640.7,440.6 1641.7,440.5 1642.7,440.4 1643.7,440.6 1644.7,440.5 1645.7,440.4 1646.7,440.6 1647.7,440.8 1648.6,441.0 1649.6,441.2 1650.6,440.9 1651.6,441.0 1652.6,441.0 1653.6,440.9 1654.6,440.6 1655.6,440.5 1656.6,440.4 1657.5,440.5 1658.5,441.0 1659.5,441.1 1660.5,440.8 1661.5,441.0 1662.5,441.1 1663.5,441.1 1664.5,440.9 1665.5,441.2 1666.4,441.1 1667.4,440.9 1668.4,441.3 1669.4,441.3 1670.4,441.2 1670.7,441.1 1671.3,441.3 1671.4,441.0 1671.8,440.7 1672.4,440.4 1672.9,440.8 1673.4,440.9 1673.5,440.7 1674.0,440.8 1674.4,440.5 1674.6,440.1 1675.1,440.3 1675.3,439.8 1675.7,440.1 1676.2,439.8 1676.3,439.7 1676.8,439.5 1677.3,439.4 1677.9,439.8 1678.3,439.9 1678.4,439.9 1679.0,439.7 1679.3,439.6 1679.5,440.0 1680.1,440.1 1680.3,439.8 1680.6,440.0 1681.2,440.6 1681.3,440.2 1681.7,440.7 1682.3,440.6 1682.8,440.7 1683.3,440.8 1683.4,440.8 1683.9,440.9 1684.2,440.9 1685.2,440.7 1686.2,440.6 1687.2,441.1 1688.2,440.8 1689.2,441.2 1690.2,440.9 1691.2,440.8 1692.2,441.1 1693.1,441.1 1694.1,441.3 1695.1,441.1 1696.1,441.2 1697.1,440.8 1698.1,440.9 1699.1,440.9 1700.1,441.1 1701.1,441.3 1702.1,441.4 1703.0,440.9"/>
<rect x="989.2" y="8.3" width="770.3999999999999" height="566.7" fill="none" stroke="#000" stroke-width="2.4" stroke-linejoin="round"/>
<line x1="1044.3" y1="575.0" x2="1044.3" y2="562.8" stroke="#000" stroke-width="2.1"/>
<text transform="translate(1034.2,601.7) scale(0.96,1)" font-size="24.0">20</text>
<line x1="1154.2" y1="575.0" x2="1154.2" y2="562.8" stroke="#000" stroke-width="2.1"/>
<text transform="translate(1144.1,601.7) scale(0.96,1)" font-size="24.0">30</text>
<line x1="1264.1" y1="575.0" x2="1264.1" y2="562.8" stroke="#000" stroke-width="2.1"/>
<text transform="translate(1254.3,601.7) scale(0.96,1)" font-size="24.0">40</text>
<line x1="1374.0" y1="575.0" x2="1374.0" y2="562.8" stroke="#000" stroke-width="2.1"/>
<text transform="translate(1363.7,601.7) scale(0.96,1)" font-size="24.0">50</text>
<line x1="1483.9" y1="575.0" x2="1483.9" y2="562.8" stroke="#000" stroke-width="2.1"/>
<text transform="translate(1473.8,601.7) scale(0.96,1)" font-size="24.0">60</text>
<line x1="1593.8" y1="575.0" x2="1593.8" y2="562.8" stroke="#000" stroke-width="2.1"/>
<text transform="translate(1583.5,601.7) scale(0.96,1)" font-size="24.0">70</text>
<line x1="1703.7" y1="575.0" x2="1703.7" y2="562.8" stroke="#000" stroke-width="2.1"/>
<text transform="translate(1693.7,601.7) scale(0.96,1)" font-size="24.0">80</text>
<line x1="1099.2" y1="575.0" x2="1099.2" y2="568.7" stroke="#000" stroke-width="2.1"/>
<line x1="1209.1" y1="575.0" x2="1209.1" y2="568.7" stroke="#000" stroke-width="2.1"/>
<line x1="1319.0" y1="575.0" x2="1319.0" y2="568.7" stroke="#000" stroke-width="2.1"/>
<line x1="1429.0" y1="575.0" x2="1429.0" y2="568.7" stroke="#000" stroke-width="2.1"/>
<line x1="1538.8" y1="575.0" x2="1538.8" y2="568.7" stroke="#000" stroke-width="2.1"/>
<line x1="1648.8" y1="575.0" x2="1648.8" y2="568.7" stroke="#000" stroke-width="2.1"/>
<polyline fill="none" stroke="#da1d25" stroke-width="1.45" stroke-linejoin="round" points="150.3,1212.3 151.5,1212.0 152.7,1213.2 153.9,1215.1 155.1,1213.1 156.4,1212.3 157.6,1212.5 158.8,1215.2 160.0,1213.2 161.2,1215.3 162.4,1215.7 163.6,1213.3 164.8,1214.4 166.1,1214.3 167.3,1214.1 168.5,1216.9 169.7,1213.5 170.9,1212.0 172.1,1215.8 173.3,1214.6 174.5,1213.2 175.8,1213.3 177.0,1213.6 178.2,1216.5 179.4,1213.9 180.6,1213.0 181.8,1214.5 183.0,1214.8 184.2,1216.9 185.5,1217.1 186.7,1214.8 187.9,1213.3 189.1,1215.8 190.3,1217.4 191.5,1213.4 192.7,1215.3 193.9,1216.7 195.2,1216.1 196.4,1213.8 197.6,1215.8 198.8,1216.2 200.0,1213.7 201.2,1215.0 202.4,1213.4 203.6,1212.0 204.8,1212.9 206.1,1213.3 207.3,1213.7 208.5,1215.0 209.7,1216.4 210.9,1217.5 212.1,1217.9 213.3,1218.2 214.5,1217.3 215.8,1214.6 217.0,1213.1 218.2,1214.7 219.4,1214.9 220.6,1215.5 221.8,1213.0 223.0,1212.6 224.2,1215.9 225.5,1215.6 226.7,1215.9 227.9,1213.1 229.1,1213.6 230.3,1216.2 231.5,1215.9 232.7,1217.4 233.9,1214.1 235.2,1214.2 236.4,1215.9 237.6,1214.7 238.8,1216.0 240.0,1215.3 241.2,1212.9 242.4,1212.0 243.6,1215.9 244.9,1213.1 246.1,1212.4 247.3,1212.8 248.5,1214.6 249.5,1215.9 249.7,1214.5 250.0,1214.1 250.6,1215.2 250.9,1213.1 251.1,1212.7 251.7,1213.5 252.1,1213.7 252.2,1210.9 252.8,1209.8 253.3,1208.9 253.9,1210.7 254.4,1210.4 254.5,1211.8 255.0,1210.3 255.5,1206.6 255.8,1207.9 256.1,1209.3 256.6,1207.3 257.0,1205.4 257.2,1206.7 257.7,1207.8 258.2,1208.2 258.3,1207.6 258.8,1208.7 259.4,1213.0 259.9,1210.9 260.5,1213.1 260.6,1211.8 261.1,1211.5 261.6,1214.5 261.8,1213.0 262.2,1212.0 262.7,1213.0 263.0,1214.6 264.2,1214.4 265.5,1216.0 266.7,1214.3 267.9,1214.4 269.1,1215.3 270.3,1214.4 271.5,1215.3 272.7,1214.3 273.9,1212.4 275.2,1211.6 276.4,1214.4 277.6,1215.0 278.8,1216.1 280.0,1215.0 281.2,1213.7 282.4,1210.6 283.6,1211.5 283.9,1208.3 284.3,1208.0 284.6,1205.7 284.9,1205.4 285.0,1204.8 285.3,1203.2 285.6,1201.7 286.0,1197.1 286.1,1194.3 286.3,1191.6 286.7,1184.4 287.0,1175.7 287.3,1164.3 287.4,1163.5 287.7,1156.8 288.1,1151.0 288.4,1153.3 288.5,1157.9 288.7,1163.1 289.1,1173.0 289.4,1184.3 289.7,1189.2 289.8,1189.2 290.1,1194.7 290.5,1199.5 290.8,1204.4 290.9,1204.3 291.1,1207.2 291.5,1206.0 291.8,1207.0 292.1,1209.4 292.2,1209.5 293.3,1211.3 294.6,1214.3 295.8,1212.4 297.0,1211.4 298.2,1210.4 299.4,1212.3 300.6,1212.0 301.8,1212.7 303.0,1210.6 304.2,1209.7 305.5,1211.0 306.7,1212.9 307.9,1210.8 309.1,1211.9 309.8,1209.8 310.2,1207.8 310.3,1208.7 310.5,1205.8 310.8,1205.2 311.2,1204.3 311.5,1200.2 311.5,1198.7 311.9,1192.5 312.2,1187.8 312.6,1178.3 312.7,1174.1 312.9,1169.6 313.3,1160.9 313.4,1156.3 313.6,1150.2 313.7,1150.2 313.9,1145.3 314.2,1146.8 314.3,1149.1 314.5,1153.4 314.6,1155.3 314.8,1159.4 315.0,1166.9 315.0,1166.6 315.2,1170.6 315.3,1171.4 315.6,1179.0 315.7,1179.7 315.9,1179.6 316.0,1182.8 316.2,1183.2 316.4,1180.1 316.4,1179.8 316.4,1181.0 316.7,1185.2 317.0,1185.0 317.0,1184.4 317.3,1188.3 317.4,1189.5 317.5,1193.0 317.6,1194.9 317.7,1197.0 317.8,1196.4 318.1,1198.5 318.4,1204.3 318.6,1205.5 318.8,1206.4 318.9,1206.9 319.2,1208.9 319.5,1211.0 319.7,1211.7 320.0,1211.8 321.2,1211.0 322.4,1210.1 323.6,1209.4 324.9,1212.7 326.1,1209.6 327.3,1210.3 328.5,1210.2 328.5,1208.0 328.8,1206.8 329.0,1205.9 329.2,1207.1 329.4,1204.9 329.6,1202.9 329.7,1197.3 329.8,1197.8 330.0,1192.4 330.2,1185.7 330.4,1179.9 330.6,1172.0 330.8,1166.0 330.9,1163.5 331.0,1163.2 331.2,1163.5 331.4,1169.8 331.6,1178.5 331.9,1184.4 332.1,1188.1 332.1,1191.1 332.3,1195.6 332.5,1199.1 332.7,1197.6 332.9,1198.6 333.1,1198.2 333.2,1198.4 333.3,1201.3 333.3,1199.6 333.5,1197.8 333.8,1194.8 334.1,1190.8 334.3,1184.2 334.6,1173.1 334.6,1168.8 334.9,1148.7 335.2,1120.8 335.4,1088.3 335.7,1045.1 335.8,1038.8 336.0,1004.5 336.3,975.8 336.5,961.1 336.8,972.0 337.0,985.4 337.1,995.5 337.4,1029.2 337.6,1065.5 337.9,1091.2 338.2,1106.3 338.5,1110.4 338.7,1108.7 339.0,1102.7 339.3,1099.9 339.4,1103.9 339.6,1109.3 339.8,1126.9 340.1,1143.6 340.4,1160.3 340.6,1168.0 340.7,1172.2 340.9,1182.4 341.2,1190.9 341.5,1196.8 341.8,1199.2 341.8,1199.6 342.0,1202.4 342.3,1202.3 342.6,1204.5 343.0,1207.7 344.3,1210.3 345.5,1211.5 346.7,1213.9 347.9,1215.5 349.1,1212.9 350.3,1211.2 351.5,1213.3 352.7,1211.9 353.9,1215.5 355.2,1214.4 356.4,1214.4 357.6,1215.7 358.8,1216.5 360.0,1213.3 361.2,1213.7 362.4,1212.6 363.6,1213.5 364.9,1212.3 366.1,1215.5 367.3,1214.1 368.5,1213.8 369.7,1216.1 370.9,1216.6 372.1,1214.4 373.3,1214.5 374.6,1215.3 375.8,1213.3 377.0,1212.3 378.2,1215.5 379.4,1213.2 380.6,1215.1 381.8,1215.9 383.0,1215.5 384.3,1214.1 385.5,1216.1 386.7,1216.5 387.9,1213.2 389.1,1216.0 390.3,1215.7 391.5,1214.0 392.7,1212.8 394.0,1212.0 395.2,1215.2 396.4,1216.5 397.6,1214.5 398.8,1213.0 400.0,1212.0 401.2,1213.3 402.4,1213.2 403.6,1211.9 404.9,1212.7 406.1,1215.5 407.3,1212.8 408.5,1213.5 409.7,1214.3 410.9,1212.9 412.1,1211.8 413.3,1211.6 414.6,1211.8 415.8,1215.9 417.0,1216.8 418.2,1216.3 419.4,1217.1 420.6,1214.6 421.8,1213.4 423.0,1215.9 424.3,1215.6 425.5,1217.0 426.7,1214.7 427.9,1214.2 429.1,1215.5 430.3,1216.7 431.5,1213.7 432.7,1213.1 434.0,1211.7 435.2,1213.8 436.4,1216.3 437.6,1215.4 438.8,1213.1 440.0,1214.9 441.2,1215.3 442.4,1212.8 443.7,1215.8 444.9,1215.6 446.1,1214.7 447.3,1213.6 448.5,1212.2 449.7,1213.1 450.9,1212.8 452.1,1211.8 453.4,1213.1 454.6,1213.0 455.8,1213.1 456.7,1211.7 456.9,1208.4 457.0,1208.6 457.2,1206.0 457.5,1203.8 457.8,1201.7 458.0,1200.1 458.2,1193.3 458.3,1191.7 458.6,1184.1 458.9,1176.7 459.1,1166.6 459.4,1152.3 459.7,1139.3 460.0,1136.4 460.2,1140.8 460.5,1151.3 460.6,1156.6 460.8,1162.3 461.1,1172.7 461.3,1181.7 461.6,1184.0 461.8,1186.5 461.9,1189.1 462.2,1192.6 462.4,1193.9 462.7,1192.0 463.0,1196.4 463.0,1194.4 463.3,1196.8 463.5,1198.5 463.8,1203.0 464.1,1204.8 464.3,1207.2 464.4,1209.6 464.6,1207.6 464.9,1210.0 465.2,1211.0 465.5,1210.0 465.7,1208.8 466.0,1213.0 466.7,1213.7 467.9,1214.2 469.1,1212.0 470.3,1215.2 471.5,1214.0 472.7,1213.9 474.0,1214.4 475.2,1214.1 476.4,1216.4 477.6,1215.0 478.8,1215.5 480.0,1216.1 481.2,1217.1 482.4,1213.8 483.7,1213.5 484.9,1216.3 486.1,1215.7 487.3,1214.3 488.5,1216.3 489.7,1213.3 490.9,1213.0 492.1,1211.9 493.4,1214.5 494.6,1214.5 495.8,1213.6 497.0,1214.0 498.2,1213.2 499.4,1215.1 500.6,1216.0 501.8,1214.5 503.1,1216.4 504.3,1213.0 505.5,1214.4 506.7,1212.9 507.9,1212.2 509.1,1214.0 510.3,1212.4 511.5,1211.8 512.7,1211.9 514.0,1213.1 515.2,1215.7 516.4,1214.0 517.6,1212.6 518.8,1215.2 520.0,1216.3 521.2,1217.6 522.4,1213.5 523.7,1212.6 524.9,1213.6 526.1,1216.6 527.3,1215.5 528.5,1216.7 529.7,1214.0 530.9,1214.2 532.1,1215.4 533.4,1213.5 534.6,1214.3 535.8,1216.0 537.0,1216.6 538.2,1216.2 539.4,1216.7 540.6,1217.6 541.8,1216.1 543.1,1213.8 544.3,1212.9 545.5,1211.7 546.7,1215.4 547.9,1215.0 549.1,1215.0 550.3,1216.2 551.5,1215.7 552.8,1213.9 554.0,1214.0 555.2,1211.2 556.4,1210.4 556.9,1210.1 557.2,1211.9 557.5,1211.4 557.6,1210.9 557.8,1209.3 558.0,1207.5 558.3,1205.7 558.6,1201.8 558.8,1200.2 558.9,1202.4 559.1,1198.9 559.4,1191.3 559.7,1186.2 560.0,1182.8 560.0,1180.0 560.2,1178.5 560.5,1181.0 560.8,1183.4 561.1,1190.9 561.2,1190.1 561.3,1194.5 561.6,1197.1 561.9,1196.9 562.2,1195.5 562.4,1196.0 562.7,1193.0 563.0,1186.8 563.3,1183.2 563.5,1180.8 563.7,1183.4 563.8,1184.5 564.1,1187.9 564.4,1194.1 564.7,1196.7 564.9,1198.4 564.9,1201.8 565.2,1205.6 565.5,1207.3 565.8,1207.0 566.0,1207.4 566.1,1208.2 566.3,1204.1 566.6,1202.8 566.9,1201.2 567.1,1200.6 567.3,1197.7 567.4,1198.2 567.7,1194.1 568.0,1195.9 568.2,1195.5 568.5,1198.5 568.8,1201.9 569.1,1205.8 569.3,1207.4 569.6,1207.2 569.7,1208.2 569.9,1209.7 570.2,1208.6 570.4,1212.2 570.7,1211.2 570.9,1214.0 571.0,1212.3 571.3,1214.7 572.1,1215.0 573.4,1213.8 574.6,1214.9 575.8,1212.0 577.0,1211.5 578.2,1213.7 579.4,1213.2 580.6,1213.5 581.8,1215.1 583.1,1214.5 584.3,1215.0 585.5,1215.8 586.7,1216.5 587.9,1213.3 589.1,1215.6 590.3,1216.1 591.5,1213.7 592.8,1212.2 594.0,1212.2 595.2,1211.7 596.4,1213.8 597.6,1216.6 598.8,1215.1 600.0,1213.6 601.2,1212.6 602.5,1216.0 603.7,1215.2 604.9,1213.4 606.1,1216.0 607.3,1214.5 608.5,1216.7 609.7,1215.1 610.9,1213.3 612.1,1212.3 613.4,1211.0 614.6,1214.3 615.8,1212.9 617.0,1214.2 618.2,1214.8 619.4,1212.4 620.6,1211.1 621.1,1211.3 621.5,1210.5 621.8,1208.2 621.8,1206.9 622.2,1205.6 622.5,1202.5 622.9,1202.4 623.1,1201.3 623.2,1200.7 623.5,1194.5 623.9,1189.1 624.2,1180.8 624.3,1181.0 624.6,1172.6 624.9,1165.7 625.3,1162.5 625.5,1161.5 625.6,1161.8 626.0,1171.6 626.3,1180.0 626.6,1186.6 626.7,1189.3 627.0,1191.2 627.3,1197.0 627.5,1197.7 627.7,1197.1 627.7,1196.8 627.9,1196.8 628.0,1197.6 628.3,1200.7 628.4,1200.2 628.6,1197.3 628.7,1197.9 628.8,1199.6 629.1,1197.5 629.1,1194.3 629.4,1189.7 629.7,1182.8 629.9,1174.1 630.2,1167.2 630.3,1161.6 630.5,1158.9 630.8,1158.7 631.0,1162.1 631.3,1169.3 631.5,1177.2 631.6,1179.8 631.9,1185.2 632.1,1194.4 632.4,1200.2 632.7,1202.3 632.8,1200.7 633.0,1203.9 633.3,1206.1 633.5,1210.0 633.8,1208.3 634.0,1210.1 634.1,1211.1 635.2,1212.5 636.4,1211.8 637.6,1214.8 638.8,1212.8 640.0,1215.2 641.2,1216.2 642.5,1214.9 643.7,1212.2 644.9,1212.4 646.1,1211.5 647.3,1211.7 648.5,1212.7 649.7,1214.0 650.9,1215.6 652.2,1212.5 653.4,1214.8 654.6,1212.5 655.8,1214.5 657.0,1211.8 657.8,1212.5 658.2,1215.5 658.5,1216.2 659.1,1212.5 659.4,1212.7 659.8,1215.3 660.5,1212.5 660.6,1212.9 661.2,1211.8 661.8,1211.3 661.9,1212.2 662.6,1210.3 663.1,1209.4 663.3,1212.9 664.0,1212.4 664.3,1211.3 664.7,1208.3 665.3,1206.6 665.5,1208.5 666.0,1209.0 666.7,1206.6 666.7,1210.3 667.4,1209.5 667.9,1209.1 668.1,1210.7 668.8,1213.4 669.1,1211.7 669.5,1212.1 670.2,1210.4 670.3,1211.7 670.9,1214.5 671.5,1215.8 672.2,1213.5 672.8,1215.2 672.9,1216.4 673.6,1213.6 674.0,1215.2 674.3,1213.0 675.2,1215.5 676.4,1215.9 677.6,1216.1 678.8,1213.0 680.0,1212.4 680.9,1211.1 681.2,1209.8 681.2,1206.9 681.5,1208.1 681.7,1208.1 682.0,1206.0 682.3,1204.5 682.5,1203.1 682.6,1200.2 682.8,1193.4 683.1,1186.9 683.4,1177.5 683.7,1168.6 683.9,1164.7 684.2,1160.1 684.5,1161.9 684.8,1169.9 684.9,1173.0 685.0,1173.6 685.3,1180.1 685.6,1184.8 685.9,1185.4 686.1,1187.5 686.1,1187.4 686.4,1186.9 686.7,1182.2 687.0,1181.1 687.2,1183.4 687.3,1185.2 687.5,1187.4 687.8,1192.4 688.1,1195.4 688.4,1196.4 688.5,1200.5 688.6,1200.6 688.9,1202.6 689.2,1200.6 689.5,1200.3 689.7,1197.5 690.0,1194.9 690.3,1196.2 690.6,1195.4 690.8,1200.2 690.9,1200.3 691.1,1203.4 691.4,1202.5 691.7,1205.6 691.9,1206.5 692.2,1209.7 692.2,1211.2 692.5,1212.2 692.8,1210.7 693.0,1208.8 693.3,1212.7 693.4,1210.3 693.6,1212.6 694.6,1212.5 695.8,1212.6 696.1,1212.4 696.3,1209.8 696.6,1209.2 696.9,1208.4 697.0,1209.5 697.2,1209.2 697.4,1209.2 697.7,1205.5 698.0,1201.2 698.2,1196.9 698.3,1197.1 698.5,1194.4 698.8,1192.0 699.1,1187.6 699.4,1188.1 699.4,1190.5 699.6,1193.8 699.9,1197.5 700.2,1195.9 700.5,1198.3 700.6,1197.4 700.7,1197.4 701.0,1196.3 701.3,1192.9 701.6,1191.3 701.9,1192.4 702.1,1189.8 702.4,1193.7 702.7,1199.3 703.0,1202.2 703.1,1200.0 703.2,1202.5 703.5,1204.3 703.8,1202.2 704.1,1201.5 704.3,1199.7 704.3,1202.5 704.6,1199.6 704.9,1202.1 705.2,1205.9 705.4,1208.5 705.5,1208.5 705.7,1207.9 706.0,1211.1 706.3,1212.5 706.5,1211.4 706.7,1210.9 706.8,1210.5 707.1,1210.8 707.4,1212.3 707.6,1212.2 707.9,1214.9 709.1,1211.8 710.3,1213.7 711.5,1213.6 712.8,1216.3 714.0,1217.3 715.2,1216.4 716.4,1216.1 717.6,1214.4 718.8,1215.3 720.0,1213.4 721.2,1215.5 722.5,1215.0 723.7,1213.2 724.9,1212.3 725.0,1212.9 725.4,1212.8 725.8,1214.2 726.1,1213.6 726.2,1211.4 726.6,1211.8 727.1,1212.3 727.3,1214.9 727.5,1215.3 727.9,1213.4 728.3,1213.8 728.5,1209.8 728.7,1208.4 729.1,1206.7 729.5,1206.0 729.7,1206.0 730.0,1207.2 730.4,1209.7 730.8,1208.8 730.9,1208.5 731.2,1209.6 731.6,1213.1 732.0,1212.7 732.2,1214.8 732.4,1212.6 732.8,1213.3 733.3,1214.1 733.4,1214.8 733.7,1215.7 734.1,1212.7 734.5,1212.2 734.6,1211.5 734.9,1214.5 735.8,1214.3 737.0,1214.3 738.2,1212.2 739.4,1215.1 740.6,1217.0 741.9,1213.1 743.1,1216.4 744.3,1215.1 745.5,1212.9 746.7,1211.7 747.9,1214.6 749.1,1216.0 750.3,1214.7 751.6,1216.4 752.8,1212.9 754.0,1215.8 755.2,1213.4 756.4,1212.7 757.6,1213.2 758.8,1213.3 760.0,1216.1 761.2,1215.2 762.5,1214.5 763.7,1216.1 764.9,1214.8 766.1,1213.8 767.3,1213.6 768.5,1214.7 769.7,1216.6 770.9,1217.4 772.2,1213.3 773.4,1213.5 774.6,1215.2 775.8,1214.8 777.0,1215.8 778.2,1217.1 779.4,1213.2 780.6,1215.0 781.9,1213.3 783.1,1214.6 783.4,1212.9 783.8,1212.0 784.2,1215.0 784.3,1215.1 784.6,1214.9 785.1,1213.7 785.5,1212.3 785.5,1210.9 785.9,1214.3 786.3,1214.3 786.7,1213.6 787.1,1209.6 787.5,1207.2 787.9,1208.1 787.9,1206.9 788.4,1208.6 788.8,1208.2 789.1,1210.9 789.2,1208.7 789.6,1210.5 790.0,1211.2 790.3,1210.9 790.4,1211.2 790.8,1211.1 791.3,1211.8 791.6,1212.8 791.7,1212.9 792.1,1214.4 792.5,1216.0 792.8,1214.8 792.9,1213.0 793.3,1213.9 794.0,1212.5 795.2,1215.4 796.4,1212.5 797.6,1212.8 798.8,1216.0 800.0,1215.5 801.3,1214.2 802.5,1212.2 803.7,1212.3 804.9,1215.4 806.1,1212.9 807.3,1215.0 808.5,1213.1 809.7,1215.4 810.9,1213.0"/>
<polyline fill="none" stroke="#1f1fe0" stroke-width="1.45" stroke-linejoin="round" points="150.3,1134.8 151.3,1134.8 152.3,1135.0 153.3,1136.1 154.3,1135.7 155.3,1136.0 156.3,1135.0 157.2,1135.4 158.2,1136.2 159.2,1135.8 160.2,1136.4 161.2,1136.5 162.2,1135.6 163.2,1134.7 164.2,1135.8 165.2,1135.0 166.2,1134.5 167.2,1135.7 168.2,1136.2 169.1,1136.4 170.1,1136.6 171.1,1135.4 172.1,1134.8 173.1,1134.6 174.1,1136.2 175.1,1135.0 176.1,1134.8 177.1,1134.5 178.1,1134.4 179.1,1134.4 180.1,1135.0 181.0,1134.8 182.0,1135.0 183.0,1136.2 184.0,1135.1 185.0,1136.0 186.0,1136.1 187.0,1135.9 188.0,1135.8 189.0,1136.1 190.0,1135.9 191.0,1135.2 192.0,1135.1 192.9,1135.0 193.9,1135.2 194.9,1136.3 195.9,1135.7 196.9,1134.8 197.9,1135.3 198.9,1136.0 199.9,1135.6 200.9,1135.9 201.9,1134.9 202.9,1134.6 203.9,1135.5 204.8,1134.7 205.8,1134.9 206.8,1135.2 207.8,1134.9 208.8,1134.5 209.8,1134.3 210.8,1136.0 211.8,1136.0 212.8,1136.5 213.8,1135.8 214.8,1136.4 215.8,1136.5 216.8,1136.0 217.7,1135.7 218.7,1135.6 219.7,1135.1 220.7,1135.2 221.7,1135.8 222.7,1135.1 223.7,1136.0 224.7,1135.7 225.7,1135.8 226.7,1136.2 227.7,1136.0 228.7,1135.0 229.6,1134.9 230.6,1134.4 231.6,1134.3 232.6,1135.9 233.6,1135.8 234.6,1136.4 235.6,1136.3 236.6,1135.4 237.6,1136.3 238.6,1136.4 239.6,1135.7 240.6,1134.7 241.5,1134.9 242.5,1134.6 243.5,1134.9 244.5,1134.4 245.5,1135.4 246.5,1136.1 247.3,1134.9 247.5,1135.6 247.8,1135.4 248.4,1135.1 248.5,1135.8 248.9,1134.9 249.5,1135.4 250.0,1133.9 250.5,1135.0 250.6,1133.9 251.1,1132.9 251.5,1134.0 251.7,1133.9 252.2,1133.2 252.5,1133.1 252.8,1132.1 253.3,1130.8 253.4,1130.9 253.9,1132.0 254.4,1132.6 255.0,1131.9 255.4,1132.5 255.5,1132.6 256.1,1134.0 256.4,1133.0 256.6,1134.3 257.2,1133.9 257.4,1134.4 257.7,1133.9 258.3,1133.8 258.4,1135.2 258.8,1135.0 259.4,1135.8 259.9,1136.0 260.4,1135.8 260.5,1134.5 261.4,1135.1 262.4,1136.1 263.4,1135.5 264.4,1134.5 265.3,1134.4 266.3,1135.8 267.3,1136.2 268.3,1135.0 269.3,1134.8 270.3,1135.4 271.3,1135.2 272.3,1134.5 273.3,1135.7 274.3,1135.3 275.3,1134.6 276.3,1133.7 277.3,1134.1 278.2,1134.5 279.2,1133.2 280.2,1132.1 281.2,1131.9 281.2,1132.5 281.5,1131.2 281.9,1130.3 282.2,1129.4 282.2,1129.2 282.5,1126.9 282.9,1124.6 283.2,1121.6 283.2,1121.2 283.6,1116.6 283.9,1111.3 284.2,1105.6 284.3,1105.2 284.6,1097.0 285.0,1091.7 285.2,1089.4 285.3,1088.1 285.6,1090.2 286.0,1097.1 286.2,1101.3 286.3,1104.7 286.7,1111.0 287.0,1117.2 287.2,1119.9 287.4,1121.8 287.5,1122.7 287.7,1125.6 287.9,1126.2 288.1,1128.0 288.2,1128.3 288.3,1127.8 288.4,1128.4 288.7,1129.1 289.1,1130.8 289.2,1130.6 289.4,1130.2 289.6,1131.7 290.0,1132.1 290.1,1131.8 290.4,1131.6 290.8,1130.5 291.1,1131.6 291.2,1130.7 291.6,1130.4 292.0,1130.1 292.1,1130.0 292.5,1129.1 292.9,1130.8 293.1,1130.8 293.3,1130.8 293.7,1132.3 294.1,1133.2 294.5,1133.6 294.9,1134.3 295.1,1133.5 295.4,1132.9 295.8,1133.4 296.1,1134.0 296.2,1134.6 296.6,1134.7 297.0,1134.6 297.1,1134.5 297.4,1134.7 298.1,1134.6 299.1,1133.6 300.1,1134.2 301.1,1133.8 302.0,1133.2 303.0,1133.8 304.0,1134.2 305.0,1132.8 306.0,1132.3 307.0,1130.5 307.3,1129.5 307.6,1128.5 307.9,1126.0 308.0,1123.6 308.2,1121.7 308.4,1115.0 308.7,1104.7 309.0,1089.4 309.3,1066.7 309.5,1039.3 309.8,1008.2 310.0,987.7 310.1,976.7 310.4,952.9 310.6,943.3 310.9,952.8 311.0,955.5 311.2,975.3 311.5,1008.0 311.7,1039.5 312.0,1061.5 312.0,1066.3 312.3,1088.7 312.6,1104.7 312.8,1115.9 313.0,1117.6 313.1,1121.5 313.3,1123.4 313.4,1125.2 313.7,1128.2 313.9,1128.3 314.1,1129.7 314.5,1130.8 314.9,1130.6 314.9,1130.1 315.3,1131.4 315.7,1132.0 315.9,1131.2 316.2,1130.6 316.6,1130.9 316.9,1131.0 317.0,1130.5 317.4,1130.2 317.8,1129.6 317.9,1129.6 318.2,1129.9 318.6,1131.5 318.9,1131.0 319.0,1131.1 319.5,1132.1 319.9,1132.2 319.9,1132.2 320.3,1133.4 320.7,1133.0 320.9,1133.5 321.1,1132.8 321.5,1133.5 321.9,1134.0 321.9,1133.7 322.3,1133.2 322.8,1132.8 322.9,1133.1 323.9,1133.4 324.9,1132.7 325.8,1132.9 326.8,1132.7 327.8,1131.2 328.8,1130.8 329.7,1129.5 329.8,1128.7 330.0,1127.3 330.3,1125.3 330.7,1121.5 330.8,1119.5 331.0,1114.7 331.4,1103.1 331.7,1086.2 331.8,1080.8 332.1,1061.2 332.4,1030.0 332.7,995.7 332.8,992.0 333.1,961.5 333.4,935.6 333.8,925.1 334.1,934.8 334.5,961.1 334.8,992.1 334.8,995.2 335.2,1029.9 335.5,1060.8 335.8,1080.8 335.8,1084.9 336.2,1101.4 336.5,1112.6 336.8,1117.9 336.9,1119.6 337.2,1124.8 337.6,1126.5 337.8,1127.4 337.9,1127.8 338.7,1130.2 339.7,1131.3 340.7,1132.1 341.7,1132.8 342.7,1133.2 343.7,1134.3 344.7,1134.2 345.7,1134.0 346.7,1133.7 347.7,1135.2 348.7,1135.7 349.7,1136.0 350.6,1135.7 351.6,1135.2 352.6,1134.8 353.6,1134.5 354.6,1134.9 355.6,1135.0 356.6,1136.0 357.6,1134.9 358.6,1135.5 359.6,1135.8 360.6,1135.7 361.6,1135.7 362.5,1134.6 363.5,1134.5 364.5,1135.1 365.5,1135.5 366.5,1136.2 367.5,1136.2 368.5,1135.1 369.5,1134.7 370.5,1135.7 371.5,1134.6 372.5,1135.9 373.5,1134.8 374.4,1135.4 375.4,1136.0 376.4,1134.9 377.4,1134.5 378.4,1135.4 379.4,1135.8 380.4,1134.7 381.4,1135.1 382.4,1135.9 383.4,1136.1 384.4,1135.4 385.4,1134.6 386.3,1135.4 387.3,1135.5 388.3,1135.3 389.3,1135.6 390.3,1135.6 391.3,1135.5 392.3,1135.5 393.3,1135.6 394.3,1136.0 395.3,1136.1 396.3,1134.8 397.3,1135.8 398.2,1135.1 399.2,1135.2 400.2,1134.9 401.2,1134.9 402.2,1135.1 403.2,1135.3 404.2,1134.7 405.2,1134.8 406.2,1135.2 407.2,1135.2 408.2,1135.4 409.2,1134.7 410.2,1135.3 411.1,1136.1 412.1,1136.1 413.1,1135.7 414.1,1136.1 415.1,1135.4 416.1,1134.8 417.1,1135.5 418.1,1135.0 419.1,1134.9 420.1,1135.7 421.1,1135.5 422.1,1134.9 423.0,1134.7 424.0,1135.6 425.0,1135.7 426.0,1136.2 427.0,1136.1 428.0,1135.2 429.0,1135.7 430.0,1136.2 431.0,1136.3 432.0,1136.4 433.0,1135.0 434.0,1134.8 434.9,1134.6 435.9,1135.7 436.9,1135.7 437.9,1135.5 438.9,1134.8 439.9,1134.9 440.9,1135.5 441.9,1134.4 442.9,1135.6 443.9,1135.6 444.9,1135.9 445.9,1136.0 446.8,1135.2 447.8,1134.4 448.8,1134.2 449.8,1134.1 450.8,1134.1 451.8,1133.0 452.8,1132.0 453.2,1131.9 453.6,1131.7 453.8,1130.2 454.0,1130.8 454.5,1129.4 454.8,1127.6 454.9,1127.2 455.3,1124.9 455.7,1120.7 455.8,1119.4 456.1,1115.0 456.5,1109.4 456.8,1105.1 456.9,1102.8 457.3,1098.3 457.8,1095.9 458.2,1098.9 458.6,1103.7 458.7,1106.7 459.0,1109.6 459.4,1116.5 459.7,1120.6 459.8,1121.6 460.2,1125.2 460.7,1127.3 460.7,1126.9 461.1,1129.4 461.5,1131.3 461.7,1131.1 461.9,1131.8 462.3,1132.4 462.7,1133.1 463.7,1134.3 464.7,1134.4 465.7,1133.8 466.7,1134.2 467.7,1134.7 468.7,1134.3 469.7,1135.1 470.7,1134.8 471.6,1134.2 472.6,1134.6 473.6,1135.4 474.6,1135.5 475.6,1135.0 476.6,1135.0 477.6,1135.5 478.6,1136.0 479.6,1134.8 480.6,1134.6 481.6,1135.0 482.6,1134.7 483.5,1134.6 484.5,1134.8 485.5,1134.5 486.5,1134.3 487.5,1134.9 488.5,1135.1 489.5,1135.5 490.5,1136.2 491.5,1136.4 492.5,1135.6 493.5,1135.1 494.5,1135.5 495.4,1135.3 496.4,1135.5 497.4,1136.2 498.4,1136.1 499.4,1136.5 500.4,1136.2 501.4,1136.1 502.4,1136.5 503.4,1136.1 504.4,1136.0 505.4,1135.9 506.4,1136.3 507.3,1135.7 508.3,1135.3 509.3,1135.5 510.3,1134.8 511.3,1135.7 512.3,1135.5 513.3,1135.1 514.3,1135.6 515.3,1135.8 516.3,1135.7 517.3,1135.1 518.3,1135.3 519.2,1134.4 520.2,1134.9 521.2,1134.3 522.2,1135.2 523.2,1134.5 524.2,1134.6 525.2,1135.6 526.2,1135.7 527.2,1134.9 528.2,1134.3 529.2,1135.8 530.2,1135.3 531.2,1134.5 532.1,1135.0 533.1,1135.7 534.1,1135.5 535.1,1134.9 536.1,1135.1 537.1,1134.9 538.1,1135.9 539.1,1135.9 540.1,1134.9 541.1,1135.3 542.1,1135.7 543.1,1134.7 544.0,1134.3 545.0,1135.0 546.0,1135.2 547.0,1134.9 548.0,1135.0 549.0,1135.1 550.0,1135.2 551.0,1134.1 552.0,1134.1 553.0,1133.7 554.0,1133.5 555.0,1134.4 555.8,1133.7 555.9,1134.0 556.2,1133.0 556.7,1132.0 556.9,1131.3 557.1,1132.2 557.5,1131.8 557.9,1130.5 557.9,1129.4 558.3,1128.5 558.7,1126.6 558.9,1124.3 559.1,1122.7 559.6,1119.8 559.9,1115.2 560.0,1115.1 560.4,1112.1 560.8,1110.5 560.9,1111.1 561.2,1111.8 561.6,1114.4 561.9,1117.2 562.0,1118.5 562.4,1122.6 562.9,1125.5 562.9,1126.5 563.3,1128.5 563.7,1130.5 563.9,1130.8 564.1,1130.4 564.5,1131.1 564.9,1131.5 564.9,1132.6 565.3,1132.7 565.8,1133.8 565.9,1134.2 566.9,1134.8 567.8,1134.7 568.8,1134.1 569.8,1133.7 570.8,1134.4 571.8,1135.2 572.8,1135.6 573.8,1134.3 574.8,1133.9 575.8,1134.5 576.8,1135.0 577.8,1134.6 578.8,1135.2 579.7,1135.5 580.7,1135.7 581.7,1136.0 582.7,1134.7 583.7,1135.7 584.7,1134.4 585.7,1135.0 586.7,1135.5 587.7,1134.4 588.7,1134.4 589.7,1135.1 590.7,1134.9 591.7,1134.2 592.6,1133.9 593.6,1134.8 594.6,1134.2 595.6,1134.1 596.6,1134.2 597.6,1134.8 598.6,1134.1 599.6,1134.3 600.6,1134.3 601.6,1134.2 602.6,1135.1 603.6,1134.8 604.5,1135.3 605.5,1135.6 606.5,1135.7 607.5,1134.5 608.5,1134.8 609.5,1133.9 610.5,1133.4 611.5,1134.3 612.5,1134.3 613.5,1133.5 614.5,1133.4 615.5,1134.0 616.4,1133.7 617.4,1132.5 618.4,1133.1 619.4,1131.2 620.4,1130.5 621.4,1129.3 621.8,1127.7 622.2,1126.0 622.4,1125.9 622.6,1125.6 623.1,1121.8 623.4,1118.5 623.5,1117.8 623.9,1113.8 624.3,1105.2 624.4,1104.1 624.7,1096.6 625.1,1085.7 625.4,1076.9 625.5,1072.7 626.0,1061.9 626.4,1058.4 626.8,1062.9 627.2,1072.9 627.4,1077.7 627.6,1084.2 628.0,1095.8 628.3,1104.7 628.4,1106.3 628.8,1112.8 629.3,1117.8 629.3,1119.6 629.7,1122.8 630.1,1125.3 630.3,1126.8 630.5,1126.4 630.9,1128.0 631.3,1129.8 632.3,1131.4 633.3,1131.8 634.3,1132.3 635.3,1133.6 636.3,1133.9 637.3,1133.2 638.3,1133.4 639.3,1133.4 640.2,1133.7 641.2,1134.0 642.2,1133.4 643.2,1133.2 644.2,1134.5 645.2,1134.4 646.2,1133.6 647.2,1134.2 648.2,1134.7 649.2,1134.3 650.2,1134.0 651.2,1135.1 652.2,1135.3 653.1,1134.8 654.1,1135.0 655.1,1135.0 656.1,1134.9 657.1,1134.4 658.1,1134.3 659.1,1134.0 660.1,1134.1 661.1,1133.7 662.1,1134.8 663.1,1134.2 664.1,1133.5 665.0,1133.5 665.5,1134.6 665.9,1134.4 666.0,1133.7 666.3,1133.1 666.7,1133.5 667.0,1133.8 667.1,1134.0 667.6,1133.0 668.0,1133.6 668.0,1133.9 668.4,1133.1 668.8,1133.2 669.0,1131.7 669.2,1131.1 669.6,1130.2 670.0,1130.8 670.0,1131.1 670.4,1129.7 670.9,1130.5 671.0,1130.2 671.3,1131.3 671.7,1131.3 672.0,1132.1 672.1,1132.4 672.5,1132.9 672.9,1133.7 673.0,1133.5 673.3,1132.9 673.8,1133.1 674.0,1133.0 674.2,1133.4 674.6,1133.4 675.0,1133.6 675.0,1133.3 675.4,1134.1 676.0,1133.6 676.9,1133.4 677.9,1133.1 678.9,1132.7 679.9,1131.8 680.4,1131.5 680.8,1130.2 680.9,1130.6 681.2,1129.8 681.6,1129.0 681.9,1127.6 682.0,1127.0 682.4,1125.5 682.8,1123.4 682.9,1122.0 683.3,1120.1 683.7,1114.3 683.9,1111.2 684.1,1108.1 684.5,1102.9 684.9,1098.0 684.9,1098.0 685.3,1095.5 685.7,1097.6 685.9,1097.9 686.1,1101.7 686.6,1109.2 686.9,1113.2 687.0,1114.0 687.4,1119.1 687.8,1123.1 687.9,1123.9 688.2,1126.4 688.6,1128.0 688.8,1128.2 689.0,1129.3 689.5,1130.5 689.8,1130.7 689.9,1131.7 690.3,1131.6 690.8,1131.2 691.8,1132.0 692.8,1132.6 693.8,1132.5 694.8,1133.1 695.2,1133.0 695.7,1132.4 695.8,1132.7 696.1,1132.7 696.5,1131.3 696.8,1132.0 696.9,1130.4 697.3,1130.8 697.7,1129.5 697.8,1129.4 698.1,1126.5 698.5,1125.3 698.8,1123.0 699.0,1121.5 699.4,1119.6 699.8,1116.8 699.8,1117.4 700.2,1116.1 700.6,1117.4 700.7,1117.8 701.0,1120.1 701.4,1122.7 701.7,1124.2 701.9,1124.6 702.3,1127.3 702.7,1128.7 702.7,1130.1 703.1,1131.4 703.5,1132.4 703.7,1132.5 703.9,1132.9 704.3,1133.0 704.7,1133.9 704.7,1132.5 705.2,1132.5 705.7,1133.1 706.7,1132.9 707.7,1132.9 708.7,1134.0 709.7,1134.6 710.7,1135.1 711.7,1135.0 712.7,1135.3 713.6,1134.2 714.6,1133.9 715.6,1134.2 716.6,1133.4 717.6,1133.3 718.6,1133.7 719.6,1134.3 720.6,1135.0 721.6,1134.3 722.6,1134.3 723.6,1133.5 724.6,1134.4 725.5,1134.0 726.0,1133.3 726.4,1132.1 726.5,1133.0 726.8,1132.4 727.2,1132.5 727.5,1131.1 727.6,1131.9 728.0,1130.6 728.4,1128.9 728.5,1128.3 728.8,1126.5 729.3,1124.2 729.5,1122.6 729.7,1122.0 730.1,1119.2 730.5,1118.2 730.9,1120.2 731.3,1121.5 731.5,1122.0 731.7,1125.0 732.2,1126.5 732.5,1128.8 732.6,1128.6 733.0,1131.0 733.4,1130.9 733.5,1130.9 733.8,1132.2 734.2,1132.0 734.5,1132.4 734.6,1132.7 735.0,1133.7 735.5,1133.9 736.5,1133.9 737.4,1133.6 738.4,1133.3 739.4,1134.8 740.4,1134.2 741.4,1133.7 742.4,1134.1 743.4,1133.7 744.4,1134.0 745.4,1133.8 746.4,1134.5 747.4,1134.5 748.4,1135.4 749.3,1135.6 750.3,1134.5 751.3,1134.7 752.3,1133.9 753.3,1135.2 754.3,1135.4 755.3,1134.7 756.3,1135.0 757.3,1134.2 758.3,1133.6 759.3,1133.4 760.3,1133.9 761.2,1134.4 762.2,1134.0 763.2,1133.9 764.2,1134.7 765.2,1134.1 766.2,1134.0 767.2,1134.1 768.2,1133.5 769.2,1135.0 770.2,1134.9 771.2,1133.8 772.2,1133.4 773.2,1133.6 774.1,1133.5 775.1,1133.7 776.1,1134.6 777.1,1135.0 778.1,1134.9 778.4,1133.5 779.0,1134.3 779.1,1134.5 779.5,1134.3 780.1,1133.4 780.6,1133.7 781.1,1132.8 781.2,1133.2 781.7,1133.5 782.1,1133.3 782.3,1133.2 782.8,1132.8 783.1,1131.4 783.4,1130.4 784.0,1129.6 784.1,1130.1 784.5,1128.9 785.1,1128.2 785.6,1129.3 786.0,1130.4 786.2,1129.4 786.7,1130.9 787.0,1131.1 787.3,1131.4 787.8,1132.7 788.0,1133.3 788.4,1132.9 788.9,1132.8 789.0,1132.7 789.5,1134.2 790.0,1133.4 790.6,1133.9 791.0,1133.8 791.1,1134.5 791.7,1134.1 792.0,1134.6 793.0,1135.2 794.0,1133.9 795.0,1134.3 796.0,1135.1 797.0,1135.2 797.9,1135.3 798.9,1135.0 799.9,1134.7 800.9,1134.1 801.9,1134.4 802.9,1133.7 803.9,1134.4 804.9,1134.4 805.9,1135.2 806.9,1135.5 807.9,1134.6 808.9,1134.3 809.8,1135.1 810.8,1134.5"/>
<polyline fill="none" stroke="#127b74" stroke-width="1.6" stroke-linejoin="round" points="150.3,1095.9 151.3,1096.0 152.3,1096.3 153.3,1095.6 154.3,1095.9 155.3,1096.4 156.3,1096.6 157.2,1095.5 158.2,1095.9 159.2,1095.9 160.2,1095.8 161.2,1096.5 162.2,1096.0 163.2,1095.7 164.2,1096.4 165.2,1096.1 166.2,1095.5 167.2,1095.3 168.2,1095.5 169.1,1094.9 170.1,1095.6 171.1,1096.0 172.1,1095.6 173.1,1096.1 174.1,1096.4 175.1,1095.9 176.1,1096.0 177.1,1095.1 178.1,1094.7 179.1,1096.0 180.1,1095.3 181.0,1095.0 182.0,1096.0 183.0,1096.0 184.0,1095.1 185.0,1095.1 186.0,1094.9 187.0,1094.9 188.0,1094.5 189.0,1095.2 190.0,1095.0 191.0,1095.1 192.0,1094.8 192.9,1094.6 193.9,1094.4 194.9,1095.7 195.9,1095.8 196.9,1095.6 197.9,1094.8 198.9,1094.6 199.9,1094.5 200.9,1094.7 201.9,1094.4 202.9,1094.6 203.9,1094.6 204.8,1094.5 205.8,1095.2 206.8,1095.1 207.8,1095.0 208.8,1094.8 209.8,1095.0 210.8,1095.3 211.8,1094.6 212.0,1094.0 212.6,1094.4 212.8,1094.3 213.1,1094.9 213.7,1093.8 213.8,1094.7 214.2,1093.4 214.8,1093.6 215.3,1093.1 215.8,1092.4 215.9,1093.1 216.4,1092.2 216.8,1090.8 217.0,1090.6 217.5,1089.8 217.7,1088.5 218.1,1087.8 218.6,1088.2 218.7,1088.7 219.2,1088.7 219.7,1089.5 220.3,1090.7 220.7,1091.1 220.8,1092.2 221.4,1093.4 221.7,1093.2 221.9,1092.5 222.5,1093.3 222.7,1094.2 223.0,1093.8 223.6,1093.5 223.7,1093.5 224.1,1094.5 224.7,1094.7 225.2,1094.3 225.7,1094.7 226.7,1095.1 227.7,1095.6 228.7,1095.5 229.6,1094.9 230.6,1095.3 231.6,1095.6 232.6,1095.6 233.6,1095.3 234.6,1095.0 235.6,1094.7 236.6,1095.1 237.6,1094.8 238.6,1094.8 239.6,1093.9 240.6,1093.2 241.2,1093.1 241.5,1093.6 241.6,1093.7 242.0,1092.9 242.5,1092.5 242.5,1093.6 242.9,1092.3 243.3,1092.9 243.5,1092.6 243.7,1092.1 244.1,1091.9 244.5,1090.6 244.9,1088.3 245.3,1088.1 245.5,1087.1 245.8,1087.0 245.9,1086.6 246.2,1084.9 246.2,1084.3 246.5,1083.7 246.6,1084.8 246.9,1084.6 247.0,1083.7 247.3,1082.6 247.4,1082.3 247.5,1082.7 247.6,1082.2 247.8,1081.1 248.0,1080.1 248.2,1076.9 248.3,1076.1 248.5,1072.2 248.7,1069.1 249.0,1063.7 249.1,1062.3 249.3,1056.0 249.5,1052.8 249.7,1049.6 249.9,1047.7 250.0,1047.6 250.3,1049.3 250.4,1049.8 250.5,1051.0 250.7,1056.0 251.1,1063.5 251.1,1064.8 251.4,1070.8 251.5,1071.5 251.8,1077.3 252.1,1081.5 252.4,1084.6 252.5,1084.9 252.8,1086.6 253.1,1087.7 253.4,1088.7 253.5,1089.1 253.8,1090.1 254.2,1090.6 254.4,1091.1 255.4,1093.0 256.4,1092.5 257.4,1093.2 258.4,1093.5 259.4,1093.5 260.4,1094.3 261.4,1093.7 262.4,1093.3 263.4,1093.4 264.4,1094.7 265.3,1094.0 266.3,1093.3 266.3,1094.5 266.6,1094.3 267.0,1094.6 267.3,1093.6 267.3,1094.1 267.7,1092.8 268.0,1092.5 268.3,1093.0 268.4,1092.8 268.7,1092.6 269.0,1091.3 269.3,1091.2 269.4,1090.0 269.7,1089.5 270.1,1088.2 270.3,1087.7 270.4,1088.7 270.8,1088.6 271.1,1089.9 271.3,1089.7 271.5,1090.6 271.8,1091.9 272.1,1092.3 272.3,1091.8 272.5,1092.6 272.8,1093.5 273.2,1093.7 273.3,1093.2 273.5,1093.0 273.9,1092.5 274.2,1093.4 274.3,1092.7 274.6,1092.6 275.3,1092.1 276.3,1091.7 277.3,1091.1 277.6,1090.8 277.9,1089.7 278.1,1089.2 278.2,1089.4 278.4,1087.7 278.7,1085.9 279.0,1084.1 279.2,1081.7 279.5,1077.4 279.8,1071.1 280.1,1063.1 280.2,1059.5 280.3,1056.9 280.6,1050.5 280.9,1047.3 281.2,1049.5 281.2,1050.8 281.4,1056.5 281.7,1064.6 282.0,1071.0 282.2,1075.6 282.3,1076.3 282.5,1081.0 282.8,1084.3 283.1,1086.3 283.2,1087.1 283.4,1088.8 283.6,1089.1 283.9,1089.7 284.2,1090.3 285.2,1092.5 286.2,1092.5 287.2,1093.3 287.2,1093.7 287.6,1093.7 287.9,1093.6 288.2,1092.5 288.3,1092.5 288.6,1093.0 288.9,1091.9 289.2,1092.0 289.3,1092.4 289.6,1092.0 290.0,1090.3 290.1,1089.2 290.3,1088.3 290.7,1087.6 291.0,1087.1 291.1,1086.6 291.4,1087.2 291.7,1087.5 292.0,1088.3 292.1,1088.9 292.4,1089.0 292.7,1090.3 293.1,1090.7 293.1,1090.5 293.4,1090.7 293.8,1092.0 294.1,1092.7 294.5,1091.6 294.7,1092.3 294.8,1091.5 295.1,1091.8 295.1,1091.7 295.2,1092.6 295.5,1092.1 295.8,1091.9 296.1,1091.4 296.3,1091.0 296.9,1090.3 297.1,1089.7 297.4,1088.9 298.0,1088.5 298.1,1088.7 298.5,1087.3 299.1,1084.3 299.6,1082.5 300.1,1078.8 300.2,1078.4 300.7,1075.7 301.1,1074.4 301.3,1075.4 301.8,1076.0 302.0,1075.8 302.4,1076.9 302.9,1080.3 303.0,1080.4 303.5,1081.7 304.0,1082.8 304.6,1082.8 304.9,1082.4 305.0,1081.1 305.1,1080.6 305.4,1076.3 305.7,1070.4 306.0,1059.9 306.0,1056.8 306.2,1043.8 306.5,1020.9 306.8,990.9 307.0,963.4 307.1,956.0 307.3,923.3 307.6,897.7 307.9,887.8 308.0,889.9 308.2,897.7 308.4,923.8 308.7,957.6 309.0,990.6 309.3,1021.3 309.5,1044.3 309.8,1061.2 310.0,1069.1 310.1,1073.5 310.4,1079.5 310.6,1084.1 310.9,1086.0 311.0,1087.2 311.2,1087.4 312.0,1090.2 313.0,1090.9 313.9,1092.2 314.9,1093.2 315.9,1093.9 316.9,1094.0 317.9,1093.8 318.9,1093.4 319.9,1093.7 320.9,1093.7 321.9,1093.6 322.9,1093.5 323.9,1093.2 324.9,1093.0 325.8,1091.8 326.8,1090.7 327.2,1089.8 327.6,1087.8 327.8,1087.2 328.0,1085.6 328.4,1082.6 328.8,1076.7 329.2,1067.0 329.7,1052.0 329.8,1044.0 330.1,1030.3 330.5,1003.1 330.8,979.3 330.9,973.6 331.3,943.1 331.7,919.9 331.8,917.6 332.1,912.4 332.5,920.1 332.8,932.1 333.0,942.3 333.4,972.8 333.8,1003.9 334.2,1029.9 334.6,1051.6 334.8,1057.3 335.0,1065.6 335.4,1076.0 335.8,1081.6 335.8,1082.3 336.3,1086.2 336.7,1087.9 336.8,1088.1 337.1,1089.4 337.8,1089.9 338.7,1091.2 339.7,1092.3 340.7,1093.4 341.7,1093.2 342.7,1093.4 343.7,1094.8 344.7,1094.7 345.7,1094.4 346.7,1095.0 347.7,1095.1 348.7,1095.4 349.7,1095.1 350.6,1095.1 351.6,1094.4 352.6,1094.7 353.6,1094.7 354.6,1094.6 355.6,1094.7 356.6,1095.6 357.6,1094.8 358.6,1094.4 359.6,1094.7 360.6,1094.5 361.6,1094.2 362.5,1095.6 363.5,1095.4 364.5,1094.6 365.5,1095.1 366.5,1094.7 367.5,1095.1 368.5,1096.0 369.5,1096.3 370.5,1095.5 371.5,1095.8 372.5,1095.5 373.5,1094.7 374.4,1095.0 375.4,1095.7 376.4,1095.9 377.4,1095.9 378.4,1096.3 379.4,1095.4 380.4,1095.7 381.4,1096.0 382.4,1096.2 383.4,1096.2 384.4,1096.2 385.4,1095.3 386.3,1095.1 387.3,1095.5 388.3,1094.8 389.3,1094.8 390.3,1095.0 391.3,1094.7 392.3,1094.6 393.3,1095.3 394.3,1094.9 395.3,1094.4 395.5,1095.4 395.9,1095.9 396.3,1094.9 396.3,1095.3 396.7,1094.4 397.1,1094.3 397.3,1094.2 397.6,1094.8 398.0,1094.7 398.2,1095.0 398.4,1094.8 398.8,1094.6 399.2,1094.5 399.2,1094.0 399.6,1093.0 400.0,1092.3 400.2,1093.2 400.5,1093.4 400.9,1093.4 401.2,1094.1 401.3,1094.0 401.7,1093.8 402.1,1093.6 402.2,1093.9 402.5,1095.0 402.9,1095.4 403.2,1094.2 403.3,1093.9 403.8,1094.6 404.2,1095.6 404.2,1095.8 404.6,1095.8 405.0,1094.7 405.2,1094.5 405.4,1095.4 406.2,1095.2 407.2,1094.9 408.2,1095.9 409.2,1094.7 410.2,1095.1 411.1,1095.8 412.1,1095.8 413.1,1096.1 414.1,1095.2 415.1,1095.4 416.1,1096.1 417.1,1094.9 418.1,1095.1 419.1,1096.0 420.1,1095.0 421.1,1095.6 422.1,1095.8 423.0,1095.0 424.0,1096.0 425.0,1095.9 426.0,1094.9 427.0,1095.9 428.0,1096.1 429.0,1095.5 430.0,1094.5 431.0,1095.5 432.0,1095.4 433.0,1095.7 434.0,1094.6 434.9,1095.0 435.9,1095.6 436.9,1095.6 437.9,1094.7 438.9,1094.7 439.9,1094.8 440.9,1094.9 441.9,1095.7 442.9,1095.8 443.9,1094.3 444.9,1094.7 445.9,1094.0 446.8,1094.8 447.8,1094.3 448.8,1094.5 449.8,1094.2 450.6,1093.7 450.8,1092.3 451.0,1091.5 451.4,1091.9 451.8,1091.0 451.8,1091.3 452.2,1089.8 452.7,1088.0 452.8,1087.8 453.1,1085.7 453.5,1082.7 453.8,1079.7 453.9,1078.9 454.3,1073.1 454.7,1068.2 454.8,1067.8 455.1,1064.2 455.6,1062.8 455.8,1062.6 456.0,1064.6 456.4,1068.9 456.8,1073.2 456.8,1073.7 457.2,1078.3 457.6,1082.6 457.8,1082.9 458.0,1085.9 458.4,1087.6 458.7,1088.1 458.9,1088.3 459.3,1089.7 459.7,1090.4 459.7,1091.4 460.0,1091.2 460.1,1092.0 460.4,1091.3 460.5,1091.2 460.7,1092.1 460.7,1092.2 461.1,1092.3 461.4,1090.7 461.7,1089.7 461.8,1090.5 462.1,1089.2 462.4,1087.5 462.7,1086.1 462.8,1086.0 463.1,1084.4 463.5,1083.5 463.7,1083.7 463.8,1082.5 464.2,1083.9 464.5,1085.4 464.7,1086.9 464.9,1088.0 465.2,1089.8 465.5,1090.0 465.7,1091.1 465.9,1091.9 466.2,1092.2 466.6,1092.1 466.7,1093.2 466.9,1093.5 467.3,1094.1 467.6,1094.4 467.7,1094.4 468.0,1093.4 468.7,1094.8 469.7,1095.4 470.7,1094.7 471.6,1095.2 472.6,1095.7 473.6,1095.1 474.6,1094.7 475.6,1095.1 476.6,1095.5 477.6,1095.1 478.6,1095.4 479.6,1095.9 480.6,1095.2 481.6,1095.8 482.6,1094.8 483.5,1095.2 484.5,1095.7 485.5,1095.1 486.5,1094.8 487.5,1094.7 488.5,1094.8 489.5,1094.9 490.5,1094.9 491.5,1094.7 492.5,1095.1 493.5,1094.7 494.5,1094.6 495.4,1094.9 496.4,1095.7 497.4,1094.9 498.4,1094.6 499.4,1095.4 500.4,1095.3 501.4,1094.6 502.4,1095.7 503.4,1094.8 504.4,1095.2 505.4,1094.7 506.4,1095.5 507.3,1095.0 508.3,1095.3 509.3,1095.6 510.3,1095.6 511.3,1094.9 512.3,1094.7 513.3,1095.1 514.3,1095.1 515.3,1095.4 516.3,1094.5 517.3,1094.2 518.3,1094.0 519.2,1095.2 520.2,1094.6 521.2,1095.3 522.2,1095.0 523.2,1095.7 524.2,1095.4 525.2,1095.7 526.2,1094.6 527.2,1095.5 528.2,1094.9 529.2,1094.2 530.2,1095.3 531.2,1094.6 532.1,1095.1 533.1,1094.2 534.1,1094.6 535.1,1094.8 536.1,1094.8 537.1,1095.4 538.1,1094.7 539.1,1095.5 540.1,1094.5 541.1,1095.5 542.1,1094.7 543.1,1095.1 544.0,1095.6 545.0,1095.3 546.0,1095.5 547.0,1094.3 548.0,1095.3 549.0,1094.1 550.0,1094.8 551.0,1095.2 552.0,1095.1 553.0,1095.0 554.0,1094.6 555.0,1095.0 555.9,1093.6 556.9,1093.7 557.2,1093.5 557.5,1092.2 557.8,1091.8 557.9,1091.4 558.0,1090.6 558.3,1090.6 558.6,1089.5 558.9,1087.5 558.9,1085.8 559.1,1084.5 559.4,1082.0 559.7,1078.5 559.9,1076.5 560.0,1076.2 560.2,1074.6 560.5,1075.6 560.8,1077.5 560.9,1079.3 561.1,1080.7 561.3,1083.3 561.6,1085.6 561.9,1087.3 562.2,1087.9 562.4,1088.5 562.7,1088.8 562.9,1088.6 563.0,1088.1 563.3,1088.3 563.5,1087.5 563.8,1085.1 563.9,1085.2 564.1,1084.0 564.4,1081.2 564.7,1081.2 564.9,1081.9 564.9,1081.5 565.2,1084.3 565.5,1086.5 565.8,1088.1 565.9,1088.7 566.0,1090.0 566.3,1090.2 566.6,1092.0 566.9,1092.4 567.1,1092.5 567.4,1092.6 567.7,1093.2 567.8,1092.8 568.0,1093.8 568.8,1093.8 569.8,1094.8 570.8,1095.2 571.8,1095.1 572.8,1094.0 573.8,1094.0 574.8,1094.6 575.8,1095.3 576.8,1095.0 577.8,1094.5 578.8,1095.0 579.7,1094.6 580.7,1094.7 581.7,1094.5 582.7,1095.3 583.7,1094.9 584.7,1094.0 585.7,1094.6 586.7,1094.3 587.7,1093.9 588.7,1094.2 589.7,1093.9 590.7,1094.8 591.1,1093.9 591.5,1094.1 591.7,1093.3 591.9,1093.4 592.3,1093.9 592.6,1093.7 592.8,1093.9 593.2,1093.6 593.6,1093.2 593.6,1092.6 594.0,1093.1 594.4,1092.2 594.6,1090.7 594.8,1091.3 595.2,1089.6 595.6,1089.1 595.6,1089.5 596.1,1089.7 596.5,1089.0 596.6,1089.1 596.9,1089.9 597.3,1091.2 597.6,1091.6 597.7,1092.1 598.1,1093.3 598.5,1092.5 598.6,1092.7 599.0,1093.7 599.4,1094.2 599.6,1094.6 599.8,1093.8 600.2,1093.5 600.6,1094.2 600.6,1094.6 601.0,1094.7 601.6,1094.4 602.6,1093.7 603.6,1094.4 604.5,1094.0 605.5,1093.4 606.5,1093.2 607.5,1093.7 608.5,1093.9 609.5,1094.2 610.5,1094.1 611.5,1094.1 612.5,1094.2 613.5,1093.5 614.5,1094.1 615.5,1093.9 616.4,1093.9 617.4,1093.1 618.4,1092.3 618.9,1092.3 619.3,1091.6 619.4,1090.7 619.7,1091.0 620.1,1089.2 620.4,1088.2 620.5,1088.6 620.9,1086.4 621.3,1083.1 621.4,1083.7 621.8,1080.3 622.2,1074.6 622.4,1071.8 622.6,1069.1 623.0,1062.8 623.4,1058.5 623.4,1057.6 623.8,1055.1 624.2,1058.4 624.4,1059.7 624.7,1063.3 625.1,1070.1 625.4,1074.3 625.5,1076.0 625.9,1080.0 626.3,1083.3 626.4,1083.7 626.7,1086.2 627.1,1088.3 627.4,1088.5 627.5,1089.5 628.0,1091.2 628.3,1091.8 628.4,1090.6 628.8,1091.5 629.3,1092.4 630.3,1092.2 631.3,1093.9 632.3,1094.2 633.3,1094.1 634.3,1094.1 635.3,1094.3 636.3,1094.1 637.3,1094.3 638.3,1094.3 639.3,1094.1 640.2,1094.2 641.2,1093.6 642.2,1094.4 643.2,1094.0 644.2,1093.9 645.2,1093.8 646.2,1094.7 647.2,1094.5 648.2,1094.6 649.2,1094.6 650.2,1094.7 651.2,1094.3 652.2,1094.1 653.1,1094.8 654.1,1095.0 655.1,1094.1 656.1,1093.8 657.1,1094.0 658.1,1094.8 659.1,1094.3 660.1,1093.9 661.1,1094.2 662.1,1094.3 663.1,1094.5 664.1,1094.0 664.4,1094.0 664.8,1094.8 665.0,1094.7 665.2,1093.8 665.6,1093.9 666.0,1093.2 666.4,1094.2 666.9,1093.1 667.0,1093.8 667.3,1092.6 667.7,1091.8 668.0,1091.4 668.1,1091.3 668.5,1090.7 668.9,1090.2 669.0,1090.1 669.3,1089.5 669.8,1090.4 670.0,1091.0 670.2,1090.6 670.6,1091.0 671.0,1091.3 671.4,1092.0 671.8,1093.0 672.0,1093.4 672.2,1094.2 672.6,1094.4 673.0,1093.4 673.1,1093.3 673.5,1093.2 673.9,1093.0 674.0,1092.9 674.3,1093.7 675.0,1094.6 676.0,1094.9 676.9,1093.3 677.9,1093.1 678.9,1093.0 679.9,1093.4 680.6,1091.9 680.9,1091.8 681.0,1092.5 681.3,1092.1 681.7,1090.4 681.9,1090.1 682.0,1090.0 682.4,1087.9 682.7,1086.8 682.9,1085.4 683.0,1083.6 683.4,1079.9 683.7,1075.1 683.9,1074.3 684.1,1070.9 684.4,1067.4 684.8,1066.1 684.9,1066.2 685.1,1067.9 685.5,1071.1 685.8,1076.1 685.9,1076.4 686.1,1080.4 686.5,1084.1 686.8,1086.4 686.9,1086.9 687.2,1088.7 687.5,1089.1 687.9,1090.0 687.9,1090.1 688.2,1091.5 688.6,1092.5 688.8,1092.0 688.9,1092.9 689.8,1092.6 690.8,1093.1 691.8,1094.0 692.8,1093.4 693.8,1094.1 694.8,1092.8 695.5,1092.7 695.8,1093.4 695.9,1093.3 696.2,1092.2 696.5,1092.2 696.8,1092.1 696.9,1091.1 697.2,1091.6 697.6,1089.5 697.8,1089.9 697.9,1089.2 698.3,1087.3 698.6,1084.6 698.8,1083.2 699.0,1082.1 699.3,1080.9 699.6,1079.0 699.8,1079.3 700.0,1080.3 700.3,1083.1 700.7,1085.3 700.7,1086.1 701.0,1087.5 701.4,1088.9 701.7,1091.0 701.7,1089.8 702.1,1091.5 702.4,1091.3 702.7,1091.7 702.7,1091.6 703.1,1092.5 703.4,1093.5 703.7,1093.9 703.8,1093.8 704.7,1093.7 705.7,1093.6 706.7,1094.0 707.7,1093.9 708.7,1094.2 709.7,1094.6 710.7,1093.8 711.7,1094.9 712.7,1094.0 713.6,1094.9 714.6,1093.8 715.6,1093.5 716.6,1094.9 717.6,1094.3 718.6,1094.2 719.6,1094.7 720.6,1093.7 721.6,1094.2 722.6,1094.7 723.6,1094.0 724.6,1092.7 725.0,1092.4 725.3,1093.2 725.5,1092.1 725.8,1092.3 726.1,1091.6 726.4,1090.9 726.5,1090.0 726.6,1089.2 726.9,1087.7 727.2,1085.3 727.5,1081.5 727.5,1080.4 727.7,1078.6 728.0,1076.1 728.3,1075.2 728.5,1075.4 728.6,1076.7 728.8,1079.0 729.1,1081.8 729.4,1084.2 729.5,1085.1 729.7,1086.6 730.0,1089.2 730.2,1090.3 730.5,1091.8 730.8,1091.9 731.1,1093.0 731.3,1093.8 731.5,1093.6 731.6,1093.8 732.5,1093.5 733.5,1093.9 734.5,1094.0 735.5,1094.1 736.5,1095.1 737.4,1094.4 738.4,1095.2 739.4,1095.1 740.4,1094.3 741.4,1094.4 742.4,1094.4 743.4,1094.5 744.4,1095.3 745.4,1095.0 746.4,1094.7 747.4,1094.8 748.4,1094.4 749.3,1094.0 750.3,1094.2 751.3,1095.0 752.3,1095.2 753.3,1094.1 754.3,1094.7 755.3,1095.1 756.3,1095.0 757.3,1095.5 758.3,1094.6 759.3,1094.1 760.3,1094.3 761.2,1093.8 762.2,1095.0 763.2,1094.6 764.2,1094.9 765.2,1094.7 766.2,1094.7 767.2,1094.5 768.2,1095.0 769.2,1095.3 770.2,1095.6 771.2,1095.0 772.2,1094.7 773.2,1094.7 774.1,1095.4 775.1,1094.5 776.1,1093.8 777.1,1094.3 778.1,1095.0 779.1,1094.1 780.1,1094.0 781.1,1094.4 781.2,1094.5 781.6,1094.1 782.0,1094.5 782.1,1094.8 782.4,1094.6 782.8,1094.7 783.1,1093.4 783.3,1093.4 783.7,1093.2 784.1,1092.6 784.1,1092.7 784.5,1093.0 784.9,1092.3 785.1,1091.2 785.3,1091.3 785.7,1090.8 786.0,1089.9 786.2,1089.9 786.6,1089.7 787.0,1090.7 787.0,1091.4 787.4,1091.6 787.8,1092.0 788.0,1092.2 788.2,1093.5 788.6,1093.1 789.0,1093.4 789.0,1093.1 789.5,1093.6 789.9,1094.3 790.0,1094.7 790.3,1094.4 790.7,1094.9 791.0,1094.0 791.1,1094.4 792.0,1094.0 792.2,1093.7 792.6,1093.8 793.0,1093.5 793.0,1094.1 793.5,1093.4 793.9,1094.0 794.0,1094.2 794.3,1093.0 794.7,1092.9 795.0,1093.2 795.1,1093.2 795.5,1092.7 795.9,1091.0 796.0,1091.9 796.3,1090.5 796.8,1089.5 797.0,1090.4 797.2,1090.1 797.6,1089.9 797.9,1090.2 798.0,1090.6 798.4,1091.9 798.8,1091.7 798.9,1092.4 799.2,1092.8 799.7,1093.9 799.9,1093.6 800.1,1093.2 800.5,1093.9 800.9,1093.4 800.9,1093.2 801.3,1094.6 801.7,1094.5 801.9,1094.1 802.1,1093.8 802.9,1093.7 803.9,1094.1 804.9,1094.3 805.9,1095.2 806.9,1094.7 807.9,1094.5 808.9,1094.6 809.8,1094.3 810.8,1094.5"/>
<rect x="95.3" y="706.2" width="771.7" height="567.0999999999999" fill="none" stroke="#000" stroke-width="2.4" stroke-linejoin="round"/>
<line x1="150.3" y1="1273.3" x2="150.3" y2="1261.1" stroke="#000" stroke-width="2.1"/>
<text transform="translate(140.2,1293.8) scale(0.96,1)" font-size="24.0">20</text>
<line x1="260.5" y1="1273.3" x2="260.5" y2="1261.1" stroke="#000" stroke-width="2.1"/>
<text transform="translate(250.4,1293.8) scale(0.96,1)" font-size="24.0">30</text>
<line x1="370.7" y1="1273.3" x2="370.7" y2="1261.1" stroke="#000" stroke-width="2.1"/>
<text transform="translate(360.9,1293.8) scale(0.96,1)" font-size="24.0">40</text>
<line x1="480.9" y1="1273.3" x2="480.9" y2="1261.1" stroke="#000" stroke-width="2.1"/>
<text transform="translate(470.6,1293.8) scale(0.96,1)" font-size="24.0">50</text>
<line x1="591.1" y1="1273.3" x2="591.1" y2="1261.1" stroke="#000" stroke-width="2.1"/>
<text transform="translate(581.0,1293.8) scale(0.96,1)" font-size="24.0">60</text>
<line x1="701.3" y1="1273.3" x2="701.3" y2="1261.1" stroke="#000" stroke-width="2.1"/>
<text transform="translate(691.0,1293.8) scale(0.96,1)" font-size="24.0">70</text>
<line x1="811.5" y1="1273.3" x2="811.5" y2="1261.1" stroke="#000" stroke-width="2.1"/>
<text transform="translate(801.5,1293.8) scale(0.96,1)" font-size="24.0">80</text>
<line x1="205.4" y1="1273.3" x2="205.4" y2="1267.0" stroke="#000" stroke-width="2.1"/>
<line x1="315.6" y1="1273.3" x2="315.6" y2="1267.0" stroke="#000" stroke-width="2.1"/>
<line x1="425.8" y1="1273.3" x2="425.8" y2="1267.0" stroke="#000" stroke-width="2.1"/>
<line x1="536.0" y1="1273.3" x2="536.0" y2="1267.0" stroke="#000" stroke-width="2.1"/>
<line x1="646.2" y1="1273.3" x2="646.2" y2="1267.0" stroke="#000" stroke-width="2.1"/>
<line x1="756.4" y1="1273.3" x2="756.4" y2="1267.0" stroke="#000" stroke-width="2.1"/>
<polyline fill="none" stroke="#111" stroke-width="1.6" stroke-linejoin="round" points="1044.5,1195.7 1045.5,1195.1 1046.5,1194.7 1047.5,1196.8 1048.5,1196.5 1049.5,1196.7 1050.5,1196.3 1051.4,1195.7 1052.4,1196.4 1053.4,1196.2 1054.4,1196.6 1055.4,1196.3 1056.4,1196.5 1057.4,1195.1 1058.0,1193.5 1058.3,1192.7 1058.4,1194.3 1058.7,1192.8 1059.0,1193.3 1059.4,1192.8 1059.7,1190.1 1060.1,1190.2 1060.4,1186.7 1060.4,1188.3 1060.8,1186.1 1061.1,1181.1 1061.4,1179.3 1061.4,1178.8 1061.8,1174.0 1062.1,1173.8 1062.4,1173.1 1062.5,1175.7 1062.8,1178.7 1063.2,1183.2 1063.3,1182.6 1063.5,1184.0 1063.9,1187.7 1064.2,1190.1 1064.3,1189.6 1064.5,1192.1 1064.9,1193.7 1065.2,1193.0 1065.3,1192.2 1065.6,1193.8 1065.9,1193.8 1066.3,1194.8 1066.3,1194.5 1067.3,1194.7 1068.3,1193.7 1069.3,1193.8 1070.3,1194.9 1071.3,1196.1 1072.3,1195.7 1073.3,1196.5 1074.3,1196.2 1075.2,1197.1 1076.2,1196.8 1077.2,1195.6 1078.2,1194.7 1079.2,1194.2 1080.2,1193.9 1081.2,1196.3 1082.2,1197.1 1083.2,1197.1 1084.2,1195.1 1085.2,1196.1 1086.2,1194.8 1087.1,1196.6 1088.1,1196.5 1089.1,1196.8 1090.1,1196.4 1091.1,1195.7 1092.1,1196.6 1093.1,1197.2 1093.5,1195.2 1094.0,1195.0 1094.1,1195.9 1094.4,1195.9 1094.8,1195.0 1095.1,1194.6 1095.2,1196.1 1095.6,1194.2 1096.0,1192.9 1096.1,1194.0 1096.4,1192.6 1096.8,1193.3 1097.1,1191.6 1097.3,1192.4 1097.7,1190.1 1098.1,1190.3 1098.1,1190.3 1098.5,1189.8 1098.9,1188.6 1099.0,1188.2 1099.3,1188.2 1099.7,1189.6 1100.0,1192.0 1100.2,1191.0 1100.6,1191.9 1101.0,1193.6 1101.0,1192.8 1101.4,1193.4 1101.8,1193.6 1102.0,1195.0 1102.2,1193.8 1102.6,1196.2 1103.0,1195.9 1103.0,1196.1 1103.5,1195.8 1104.0,1195.6 1105.0,1197.0 1106.0,1197.3 1107.0,1197.2 1108.0,1194.8 1109.0,1195.7 1110.0,1197.1 1111.0,1196.6 1111.9,1196.1 1112.9,1196.3 1113.9,1195.0 1114.9,1196.2 1115.9,1196.8 1116.9,1194.8 1117.9,1195.5 1118.9,1196.0 1119.9,1195.4 1120.9,1196.2 1121.9,1197.2 1122.9,1197.5 1123.8,1195.8 1124.8,1194.7 1125.8,1196.4 1126.8,1196.3 1127.8,1196.9 1128.8,1197.2 1129.8,1195.6 1130.8,1195.9 1131.8,1195.2 1132.8,1196.4 1133.8,1196.5 1134.8,1195.2 1135.7,1195.5 1136.7,1195.9 1137.7,1194.9 1138.7,1194.4 1139.7,1195.1 1140.7,1194.1 1141.7,1195.0 1142.7,1196.6 1143.7,1196.8 1144.7,1194.5 1145.3,1196.0 1145.7,1196.2 1145.7,1196.2 1146.2,1194.1 1146.6,1195.5 1146.7,1194.3 1147.0,1195.6 1147.4,1194.4 1147.6,1194.1 1147.8,1193.3 1148.2,1194.8 1148.6,1193.0 1149.1,1194.0 1149.5,1192.8 1149.6,1191.3 1149.9,1192.1 1150.3,1191.8 1150.6,1190.5 1150.7,1192.4 1151.1,1191.9 1151.5,1191.4 1151.6,1193.4 1151.9,1194.4 1152.4,1194.0 1152.6,1193.3 1152.8,1194.1 1153.2,1194.8 1153.6,1195.5 1154.0,1195.2 1154.4,1195.3 1154.6,1195.8 1154.8,1194.4 1155.3,1194.0 1155.6,1194.7 1156.6,1195.8 1157.6,1196.4 1158.6,1196.7 1159.5,1195.6 1160.5,1196.0 1161.5,1194.3 1162.5,1194.5 1163.5,1193.6 1164.5,1195.5 1165.5,1196.6 1166.5,1196.0 1167.5,1195.9 1168.5,1194.7 1169.5,1195.4 1170.5,1193.3 1171.5,1193.3 1172.4,1192.9 1173.4,1194.0 1174.4,1191.7 1175.4,1190.1 1176.2,1188.4 1176.4,1190.0 1176.6,1188.7 1177.0,1188.9 1177.4,1186.0 1177.4,1187.0 1177.8,1183.0 1178.3,1181.1 1178.4,1180.4 1178.7,1177.0 1179.1,1169.7 1179.4,1163.9 1179.5,1161.5 1179.9,1151.1 1180.3,1137.6 1180.4,1137.1 1180.7,1129.1 1181.1,1124.0 1181.4,1124.1 1181.6,1128.7 1182.0,1137.7 1182.4,1148.4 1182.4,1150.2 1182.8,1160.0 1183.2,1167.8 1183.4,1171.2 1183.6,1175.3 1184.0,1179.4 1184.3,1183.0 1184.5,1184.8 1184.9,1185.6 1185.3,1188.5 1185.3,1188.9 1185.7,1189.4 1186.1,1189.1 1186.3,1190.5 1187.3,1191.1 1188.3,1191.5 1189.3,1193.8 1190.3,1193.0 1191.3,1192.3 1192.3,1194.4 1193.3,1195.6 1194.3,1194.0 1195.3,1193.7 1196.2,1194.0 1197.2,1194.6 1198.2,1192.4 1199.2,1193.4 1200.2,1192.1 1201.2,1193.2 1202.2,1191.0 1203.2,1190.0 1203.5,1187.9 1203.7,1186.7 1204.0,1183.0 1204.2,1181.4 1204.3,1180.4 1204.6,1176.9 1204.8,1171.1 1205.1,1164.3 1205.2,1161.8 1205.4,1155.1 1205.7,1145.1 1205.9,1132.9 1206.2,1123.5 1206.2,1122.6 1206.5,1117.8 1206.8,1121.5 1207.0,1131.1 1207.2,1134.6 1207.3,1143.9 1207.6,1156.0 1207.9,1165.2 1208.1,1171.8 1208.4,1177.1 1208.7,1181.0 1208.8,1181.9 1209.0,1182.9 1209.1,1181.2 1209.1,1183.3 1209.2,1183.3 1209.5,1183.3 1209.5,1183.1 1209.8,1182.6 1210.1,1181.0 1210.1,1182.4 1210.5,1181.3 1210.8,1177.2 1211.1,1176.2 1211.2,1176.2 1211.5,1171.5 1211.9,1165.3 1212.1,1161.2 1212.2,1160.1 1212.6,1158.2 1212.9,1161.9 1213.1,1165.0 1213.2,1167.2 1213.6,1171.7 1213.9,1176.5 1214.1,1179.1 1214.3,1180.1 1214.6,1182.7 1215.0,1187.3 1215.1,1186.6 1215.3,1187.1 1215.7,1188.9 1216.0,1188.7 1216.1,1189.8 1216.3,1189.5 1216.7,1191.7 1217.1,1190.4 1218.1,1192.6 1219.1,1191.8 1220.0,1193.0 1221.0,1193.3 1222.0,1193.6 1223.0,1190.8 1224.0,1191.4 1225.0,1187.8 1226.0,1184.3 1226.1,1182.9 1226.4,1181.6 1226.7,1176.9 1227.0,1173.7 1227.1,1173.1 1227.4,1162.3 1227.8,1144.2 1228.0,1127.6 1228.1,1117.7 1228.5,1079.0 1228.8,1032.6 1229.0,1005.1 1229.2,976.0 1229.5,924.8 1229.8,884.2 1230.0,873.5 1230.2,867.3 1230.5,883.2 1230.9,923.0 1231.0,934.8 1231.2,975.5 1231.6,1030.8 1231.9,1078.8 1232.0,1083.6 1232.3,1116.4 1232.6,1143.0 1232.9,1160.6 1233.3,1172.7 1233.6,1177.7 1233.9,1180.6 1234.0,1181.8 1234.3,1184.0 1234.9,1187.1 1235.9,1190.7 1236.9,1192.9 1237.9,1193.7 1238.9,1194.6 1239.9,1193.1 1240.9,1193.1 1241.9,1192.5 1242.9,1193.0 1243.9,1193.1 1244.8,1193.2 1245.8,1193.6 1246.8,1195.6 1247.8,1195.0 1248.8,1196.0 1249.8,1195.3 1250.8,1195.7 1251.8,1195.7 1252.8,1195.4 1253.8,1196.3 1254.8,1195.7 1255.8,1195.2 1256.7,1194.2 1257.7,1193.5 1258.7,1194.2 1259.7,1194.4 1260.7,1193.7 1261.7,1195.9 1262.7,1193.9 1263.7,1194.4 1264.7,1194.0 1265.7,1194.4 1266.7,1195.8 1267.7,1196.7 1268.6,1195.3 1269.6,1195.7 1270.6,1196.4 1271.6,1194.8 1272.6,1194.6 1273.6,1194.6 1274.6,1195.7 1275.6,1194.4 1276.5,1195.6 1276.6,1193.9 1276.9,1194.8 1277.3,1194.8 1277.6,1192.9 1277.7,1193.1 1278.1,1194.4 1278.5,1193.3 1278.6,1191.9 1279.0,1192.2 1279.4,1191.8 1279.6,1191.3 1279.8,1190.6 1280.2,1190.8 1280.5,1189.3 1280.6,1188.3 1281.0,1186.9 1281.4,1187.3 1281.5,1186.0 1281.8,1186.7 1282.3,1188.9 1282.5,1188.1 1282.7,1188.2 1283.1,1189.0 1283.5,1191.8 1283.5,1192.9 1283.9,1193.5 1284.3,1194.0 1284.5,1192.4 1284.7,1193.0 1285.1,1193.7 1285.5,1193.7 1285.6,1193.3 1286.0,1193.7 1286.4,1193.5 1286.5,1193.0 1287.5,1194.4 1288.5,1193.4 1289.5,1194.2 1290.5,1194.5 1291.5,1195.8 1292.5,1196.0 1293.4,1195.3 1294.4,1193.7 1295.4,1195.3 1296.4,1195.8 1297.4,1195.8 1298.4,1196.7 1298.5,1195.6 1298.9,1194.9 1299.3,1195.0 1299.4,1193.8 1299.8,1194.8 1300.2,1193.6 1300.4,1194.8 1300.6,1195.0 1301.0,1195.0 1301.4,1193.4 1301.4,1194.4 1301.8,1195.1 1302.2,1195.1 1302.4,1194.5 1302.6,1192.1 1303.1,1192.8 1303.4,1191.3 1303.5,1193.2 1303.9,1191.2 1304.3,1190.8 1304.4,1191.8 1304.7,1191.6 1305.1,1194.5 1305.3,1195.5 1305.5,1193.9 1305.9,1195.4 1306.3,1194.5 1306.4,1195.5 1306.8,1194.0 1307.2,1195.9 1307.3,1195.1 1307.6,1194.3 1308.0,1194.6 1308.3,1193.4 1308.4,1193.1 1309.3,1194.4 1310.3,1195.2 1311.3,1196.7 1312.3,1195.8 1313.3,1195.0 1314.3,1194.5 1315.3,1193.6 1316.3,1195.9 1317.2,1196.1 1318.2,1194.8 1319.2,1195.8 1320.2,1195.9 1320.6,1195.8 1321.0,1195.2 1321.2,1196.2 1321.4,1196.7 1321.8,1196.3 1322.2,1194.3 1322.6,1194.3 1323.0,1194.7 1323.2,1195.8 1323.4,1194.6 1323.9,1193.8 1324.2,1192.0 1324.3,1191.4 1324.7,1191.3 1325.1,1192.3 1325.2,1191.3 1325.5,1192.5 1325.9,1192.8 1326.2,1192.0 1326.3,1192.5 1326.7,1194.1 1327.2,1192.6 1327.6,1194.1 1328.0,1195.2 1328.2,1196.2 1328.4,1194.7 1328.8,1195.2 1329.1,1195.9 1329.2,1194.7 1329.6,1195.7 1330.1,1196.0 1330.1,1196.7 1330.5,1195.4 1331.1,1194.1 1332.1,1194.8 1333.1,1195.6 1334.1,1196.5 1335.1,1196.4 1336.1,1195.7 1337.1,1196.4 1338.1,1196.5 1339.1,1195.8 1340.1,1194.5 1341.0,1193.2 1342.0,1194.4 1343.0,1192.9 1344.0,1193.3 1345.0,1195.1 1346.0,1193.3 1347.0,1193.5 1348.0,1193.0 1349.0,1190.6 1350.0,1188.4 1350.0,1189.2 1350.4,1187.3 1350.7,1183.2 1351.0,1181.5 1351.1,1179.4 1351.4,1169.8 1351.8,1157.8 1352.0,1147.1 1352.1,1138.6 1352.4,1110.5 1352.8,1074.7 1352.9,1054.3 1353.1,1033.4 1353.5,993.9 1353.8,963.8 1353.9,955.4 1354.2,952.2 1354.5,963.2 1354.9,994.3 1354.9,1002.5 1355.2,1033.8 1355.5,1074.0 1355.9,1108.7 1355.9,1112.7 1356.2,1138.0 1356.6,1156.8 1356.9,1171.5 1357.3,1179.6 1357.6,1184.6 1357.9,1186.5 1358.0,1187.0 1358.3,1188.7 1358.9,1189.9 1359.9,1190.2 1360.9,1192.4 1361.9,1193.9 1362.9,1194.2 1363.9,1194.1 1364.9,1194.6 1365.8,1193.6 1366.8,1194.9 1367.8,1193.7 1368.8,1193.5 1369.8,1193.3 1370.8,1195.9 1371.8,1196.7 1372.8,1196.1 1373.8,1196.9 1374.5,1194.9 1374.8,1195.6 1375.1,1195.3 1375.7,1194.0 1375.8,1195.0 1376.2,1193.9 1376.8,1193.9 1377.3,1193.4 1377.7,1193.4 1377.9,1195.4 1378.4,1194.6 1378.7,1194.4 1379.0,1193.0 1379.5,1192.1 1379.7,1191.6 1380.1,1193.0 1380.6,1192.8 1380.7,1193.3 1381.2,1192.9 1381.7,1192.0 1382.3,1192.5 1382.7,1192.9 1382.8,1194.6 1383.4,1195.1 1383.7,1195.7 1383.9,1195.4 1384.5,1196.5 1384.7,1196.3 1385.0,1194.0 1385.6,1193.6 1385.7,1193.3 1386.1,1195.8 1386.7,1194.7 1387.2,1195.1 1387.7,1195.6 1387.8,1194.7 1388.7,1194.6 1389.6,1196.4 1390.6,1195.0 1391.6,1196.5 1392.6,1195.9 1393.6,1196.4 1394.6,1195.7 1395.6,1196.3 1396.6,1196.6 1397.6,1195.8 1398.6,1195.2 1399.6,1195.4 1400.6,1196.4 1401.5,1194.6 1402.5,1194.5 1403.5,1195.0 1404.5,1196.1 1405.5,1196.0 1406.5,1195.1 1407.5,1196.8 1408.5,1196.4 1409.5,1197.3 1410.5,1196.0 1411.5,1197.3 1412.5,1196.7 1413.4,1195.7 1414.4,1194.8 1415.4,1196.4 1416.4,1195.1 1417.4,1196.6 1418.4,1197.1 1419.4,1195.3 1420.4,1196.4 1421.4,1196.7 1422.4,1195.0 1423.4,1196.4 1424.4,1197.5 1425.4,1196.0 1426.3,1196.1 1427.3,1195.7 1428.3,1195.1 1429.3,1194.6 1430.3,1196.0 1431.3,1197.4 1432.3,1195.3 1433.3,1194.3 1434.3,1195.5 1435.3,1195.0 1436.3,1196.7 1437.3,1195.5 1438.2,1194.3 1439.2,1194.7 1440.2,1195.1 1441.2,1195.3 1442.2,1195.3 1443.2,1194.9 1444.2,1196.7 1445.2,1194.4 1446.2,1194.1 1447.2,1195.7 1448.2,1194.2 1449.2,1193.5 1449.5,1193.7 1450.0,1194.3 1450.1,1195.1 1450.6,1195.0 1451.1,1192.6 1451.7,1193.5 1452.1,1190.9 1452.2,1192.0 1452.8,1191.0 1453.1,1187.8 1453.3,1186.9 1453.9,1183.7 1454.1,1182.9 1454.4,1182.0 1455.0,1178.8 1455.1,1178.1 1455.5,1173.6 1456.1,1172.3 1456.6,1175.5 1457.1,1178.0 1457.2,1178.8 1457.8,1180.8 1458.1,1182.2 1458.3,1184.3 1458.9,1187.7 1459.1,1187.4 1459.4,1190.5 1460.0,1191.8 1460.1,1193.0 1460.5,1194.1 1461.1,1193.5 1461.6,1193.2 1462.0,1194.9 1462.2,1194.5 1462.7,1194.9 1463.0,1195.4 1464.0,1196.7 1465.0,1195.9 1466.0,1195.5 1467.0,1196.7 1468.0,1194.8 1469.0,1195.3 1470.0,1194.8 1471.0,1195.9 1472.0,1196.9 1473.0,1196.1 1473.9,1195.2 1474.9,1194.6 1475.9,1196.7 1476.9,1196.6 1477.9,1197.6 1478.9,1195.9 1479.9,1195.4 1480.9,1194.9 1481.9,1196.1 1482.9,1196.3 1483.9,1197.3 1484.9,1196.8 1485.9,1195.9 1486.8,1194.9 1487.8,1196.6 1488.8,1197.6 1489.8,1196.2 1490.8,1195.6 1491.8,1196.0 1492.8,1195.7 1493.8,1196.7 1494.8,1196.3 1495.8,1196.1 1496.8,1195.7 1497.8,1195.2 1498.7,1197.0 1499.7,1197.7 1500.7,1195.7 1501.7,1195.5 1502.7,1196.4 1503.7,1195.6 1504.7,1195.5 1505.7,1195.8 1506.7,1195.0 1507.7,1194.9 1508.7,1195.8 1509.7,1196.6 1510.6,1194.1 1511.6,1195.4 1511.7,1193.6 1512.2,1194.5 1512.6,1192.9 1512.6,1193.8 1513.0,1193.0 1513.4,1194.2 1513.6,1192.2 1513.8,1192.9 1514.2,1194.1 1514.6,1192.9 1514.6,1192.3 1515.1,1192.1 1515.5,1191.9 1515.6,1191.5 1515.9,1190.0 1516.3,1188.1 1516.4,1189.3 1516.6,1188.4 1516.7,1189.3 1516.8,1187.6 1517.1,1186.2 1517.3,1185.9 1517.5,1186.8 1517.6,1186.6 1517.8,1184.2 1517.9,1184.2 1518.3,1182.7 1518.4,1180.1 1518.6,1179.6 1518.8,1177.4 1519.2,1173.6 1519.3,1172.7 1519.6,1166.6 1519.6,1164.9 1519.7,1163.0 1520.0,1157.8 1520.2,1153.1 1520.4,1149.9 1520.6,1147.9 1520.7,1144.0 1520.8,1139.9 1521.2,1134.9 1521.3,1133.7 1521.6,1130.2 1521.7,1129.8 1522.1,1134.2 1522.5,1140.5 1522.6,1142.2 1523.1,1155.1 1523.5,1163.4 1523.6,1163.2 1524.1,1170.3 1524.5,1176.6 1524.6,1177.1 1525.0,1183.5 1525.5,1185.1 1526.0,1189.0 1526.5,1189.9 1526.5,1190.7 1527.0,1191.3 1527.5,1193.2 1527.5,1193.6 1528.5,1193.9 1529.5,1193.6 1530.5,1193.6 1531.5,1193.5 1532.5,1193.8 1533.5,1195.1 1534.4,1195.1 1535.4,1195.6 1536.4,1197.0 1537.4,1196.9 1538.4,1197.6 1539.4,1197.3 1540.4,1195.7 1541.4,1194.5 1542.4,1196.1 1543.4,1195.0 1544.4,1196.2 1545.4,1194.9 1546.4,1195.9 1547.3,1196.1 1548.3,1195.9 1549.3,1196.9 1550.3,1196.8 1551.1,1195.3 1551.3,1195.6 1552.0,1195.4 1552.3,1195.3 1552.8,1194.7 1553.3,1194.4 1553.6,1195.4 1554.3,1193.9 1554.5,1194.5 1555.3,1194.6 1556.1,1194.1 1556.3,1194.7 1556.9,1194.8 1557.3,1193.9 1557.8,1192.1 1558.3,1191.1 1558.6,1192.9 1559.2,1191.6 1559.4,1191.3 1560.2,1190.2 1561.1,1191.4 1561.2,1191.0 1561.9,1192.0 1562.2,1192.5 1562.7,1194.1 1563.2,1194.5 1563.5,1195.2 1564.2,1195.7 1564.4,1193.5 1565.2,1194.6 1566.0,1194.2 1566.2,1194.2 1566.8,1194.8 1567.2,1195.0 1567.7,1195.3 1568.2,1195.0 1568.5,1193.9 1569.2,1196.1 1569.3,1194.0 1570.2,1195.9 1571.1,1196.5 1572.1,1195.5 1573.1,1193.4 1574.1,1193.6 1575.1,1191.7 1576.1,1189.8 1576.2,1190.9 1576.6,1189.9 1577.0,1186.3 1577.1,1188.1 1577.5,1185.3 1577.9,1181.7 1578.1,1179.7 1578.3,1177.0 1578.7,1171.5 1579.1,1165.4 1579.1,1165.7 1579.5,1155.0 1579.9,1141.4 1580.1,1135.9 1580.3,1126.5 1580.8,1113.8 1581.1,1109.3 1581.2,1108.3 1581.6,1115.0 1582.0,1125.4 1582.1,1127.0 1582.4,1139.7 1582.8,1154.0 1583.0,1158.3 1583.2,1164.3 1583.7,1171.6 1584.0,1177.2 1584.1,1177.7 1584.5,1183.6 1584.9,1187.1 1585.0,1185.9 1585.3,1187.6 1585.7,1188.4 1586.0,1189.0 1586.1,1190.7 1587.0,1192.3 1588.0,1193.0 1589.0,1192.9 1589.4,1193.0 1589.7,1193.3 1590.0,1194.4 1590.3,1193.2 1590.5,1193.6 1590.8,1194.3 1591.0,1192.2 1591.1,1192.0 1591.4,1193.2 1591.6,1191.3 1591.7,1193.3 1591.9,1192.0 1592.0,1192.2 1592.1,1190.6 1592.2,1190.8 1592.4,1190.5 1592.5,1191.3 1592.7,1190.5 1593.0,1188.7 1593.0,1187.9 1593.1,1188.1 1593.3,1188.8 1593.4,1187.4 1593.6,1186.7 1593.8,1186.4 1593.8,1186.0 1594.0,1186.5 1594.1,1184.7 1594.4,1182.5 1594.5,1183.5 1594.7,1181.9 1594.8,1181.2 1594.9,1178.6 1595.2,1178.1 1595.2,1177.3 1595.5,1176.9 1595.8,1176.9 1595.8,1178.8 1595.9,1180.0 1596.1,1180.0 1596.2,1180.5 1596.5,1183.0 1596.9,1186.4 1596.9,1186.4 1597.2,1188.6 1597.6,1191.0 1597.9,1193.3 1597.9,1193.7 1598.3,1192.3 1598.6,1194.4 1598.9,1194.1 1598.9,1193.1 1599.3,1194.1 1599.6,1195.9 1599.9,1195.1 1600.9,1195.0 1601.9,1195.7 1602.9,1196.2 1603.9,1197.5 1604.9,1198.0 1605.9,1198.4 1606.9,1195.8 1607.8,1196.9 1608.8,1196.6 1609.8,1196.8 1610.8,1197.7 1611.8,1196.4 1612.8,1195.0 1613.8,1195.3 1614.8,1197.5 1615.8,1198.2 1616.8,1197.0 1617.5,1195.5 1617.8,1196.8 1618.1,1196.0 1618.6,1197.3 1618.8,1196.7 1619.2,1195.8 1619.7,1194.6 1620.3,1194.7 1620.7,1194.8 1620.8,1194.7 1621.4,1195.7 1621.7,1196.2 1621.9,1195.7 1622.5,1194.4 1622.7,1194.5 1623.0,1192.4 1623.6,1192.6 1623.7,1192.9 1624.2,1193.1 1624.7,1192.4 1625.3,1194.5 1625.7,1194.0 1625.8,1194.0 1626.4,1193.6 1626.7,1194.8 1626.9,1193.7 1627.5,1195.2 1627.7,1194.8 1628.0,1197.0 1628.6,1196.4 1628.7,1195.5 1629.1,1196.6 1629.7,1195.4 1630.2,1196.2 1630.7,1196.3 1630.8,1197.8 1631.6,1197.8 1632.6,1198.2 1633.6,1198.7 1634.6,1197.8 1635.6,1197.6 1636.6,1197.7 1637.6,1198.1 1638.6,1198.4 1639.6,1198.5 1640.6,1198.7 1641.6,1198.8 1642.6,1196.6 1643.5,1197.6 1644.5,1197.8 1645.5,1198.4 1646.5,1197.0 1647.5,1197.7 1648.5,1195.7 1649.5,1196.1 1650.5,1195.8 1651.5,1195.8 1652.5,1195.3 1653.5,1196.4 1654.5,1195.7 1655.4,1195.1 1656.4,1196.6 1657.4,1197.7 1658.4,1196.7 1659.4,1195.5 1660.4,1197.5 1661.4,1196.7 1662.4,1196.5 1663.4,1198.0 1664.4,1196.3 1665.4,1197.2 1666.4,1196.6 1667.4,1197.1 1668.3,1196.9 1669.3,1196.0 1670.3,1197.9 1671.3,1197.4 1672.3,1196.1 1673.3,1196.5 1674.3,1197.1 1675.3,1198.3 1676.3,1196.8 1677.3,1195.7 1678.3,1196.4 1679.3,1197.8 1680.2,1195.8 1681.2,1197.8 1682.2,1197.2 1683.2,1197.0 1684.2,1197.3 1685.2,1197.8 1686.2,1197.7 1687.2,1198.5 1688.2,1197.8 1689.2,1196.7 1690.2,1196.6 1691.2,1196.6 1692.1,1196.0 1693.1,1196.0 1694.1,1196.3 1695.1,1198.1 1696.1,1198.5 1697.1,1198.2 1698.1,1198.0 1699.1,1196.6 1700.1,1196.4 1701.1,1195.9 1702.1,1197.6 1703.1,1197.7 1704.0,1197.7 1705.0,1195.8"/>
<polyline fill="none" stroke="#da1d25" stroke-width="1.45" stroke-linejoin="round" points="1044.5,1071.3 1045.8,1071.1 1047.1,1071.1 1048.5,1071.1 1049.8,1071.2 1051.1,1071.3 1052.4,1071.4 1053.8,1071.0 1055.0,1070.9 1055.1,1070.7 1055.4,1070.7 1055.8,1070.7 1056.2,1070.4 1056.4,1070.3 1056.6,1070.4 1057.0,1070.1 1057.4,1069.6 1057.7,1069.3 1057.9,1069.2 1058.3,1068.2 1058.7,1067.5 1059.0,1066.7 1059.1,1066.5 1059.5,1065.5 1059.9,1065.4 1060.3,1065.6 1060.4,1065.5 1060.8,1066.2 1061.2,1067.5 1061.6,1068.5 1061.7,1068.8 1062.0,1069.4 1062.4,1069.9 1062.8,1070.4 1063.0,1070.4 1063.2,1070.6 1063.6,1070.9 1064.1,1071.0 1064.3,1071.2 1064.5,1071.1 1064.9,1071.2 1065.7,1071.1 1067.0,1071.2 1068.3,1071.3 1069.6,1071.2 1070.9,1071.3 1072.3,1071.3 1073.6,1071.4 1074.9,1071.6 1076.2,1071.6 1077.6,1071.6 1078.9,1071.5 1080.2,1071.5 1080.3,1071.8 1080.7,1071.8 1081.1,1071.8 1081.5,1071.6 1081.6,1071.7 1082.0,1071.5 1082.4,1071.5 1082.8,1071.7 1082.8,1071.7 1083.2,1071.6 1083.6,1071.5 1084.0,1071.5 1084.2,1071.4 1084.4,1071.1 1084.9,1070.8 1085.3,1070.8 1085.5,1070.8 1085.7,1070.8 1086.1,1071.2 1086.5,1071.5 1086.8,1071.4 1086.9,1071.5 1087.3,1071.5 1087.8,1071.8 1088.1,1071.8 1088.2,1071.6 1088.6,1071.6 1089.0,1071.7 1089.4,1071.7 1089.5,1071.8 1089.8,1072.0 1090.2,1071.9 1090.8,1071.8 1092.1,1072.0 1093.4,1072.0 1094.8,1071.8 1096.1,1071.7 1097.4,1071.7 1098.7,1071.9 1100.0,1072.1 1101.4,1072.1 1102.7,1071.9 1104.0,1072.0 1105.3,1072.2 1106.7,1072.2 1108.0,1072.4 1109.3,1072.4 1110.6,1072.1 1111.9,1072.3 1113.3,1072.3 1114.6,1072.3 1115.9,1072.2 1117.2,1072.3 1118.6,1072.1 1119.9,1072.2 1121.2,1072.3 1122.5,1072.5 1123.8,1072.6 1125.2,1072.4 1126.5,1072.4 1127.8,1072.3 1129.1,1072.5 1130.5,1072.6 1131.8,1072.5 1133.1,1072.5 1134.4,1072.6 1135.7,1072.4 1137.1,1072.6 1138.4,1072.6 1139.7,1072.7 1141.0,1072.7 1142.4,1072.4 1143.7,1072.5 1145.0,1072.4 1146.3,1072.7 1147.6,1072.8 1149.0,1072.9 1150.3,1072.7 1151.6,1072.6 1152.9,1072.8 1154.3,1073.0 1155.6,1072.7 1156.9,1072.7 1158.2,1072.6 1159.5,1072.8 1160.9,1072.9 1162.2,1072.7 1163.5,1072.7 1164.8,1072.8 1166.2,1072.7 1167.5,1072.9 1168.8,1072.8 1170.1,1072.6 1171.5,1072.6 1172.8,1072.7 1173.7,1072.4 1174.1,1072.3 1174.1,1072.6 1174.4,1072.5 1174.7,1072.3 1175.1,1072.1 1175.4,1071.7 1175.4,1071.7 1175.8,1071.4 1176.1,1071.1 1176.5,1070.4 1176.7,1069.9 1176.8,1069.6 1177.2,1069.1 1177.5,1068.4 1177.8,1068.4 1178.1,1068.6 1178.2,1068.5 1178.5,1069.0 1178.9,1069.9 1179.2,1070.4 1179.4,1070.6 1179.6,1071.2 1179.9,1071.6 1180.3,1071.9 1180.6,1072.2 1180.7,1072.3 1180.9,1072.2 1181.3,1072.2 1181.6,1072.3 1182.0,1072.4 1182.0,1072.4 1183.4,1072.7 1184.7,1072.8 1186.0,1072.9 1187.3,1072.6 1188.6,1072.6 1190.0,1072.5 1191.3,1072.7 1192.6,1072.5 1193.9,1072.3 1195.3,1072.1 1196.6,1071.9 1197.9,1071.4 1199.2,1070.5 1200.5,1068.8 1201.3,1066.2 1201.5,1065.0 1201.7,1062.7 1201.9,1059.2 1201.9,1059.2 1202.1,1053.3 1202.3,1043.9 1202.5,1029.7 1202.7,1009.7 1202.9,984.1 1203.1,955.1 1203.2,945.3 1203.3,926.6 1203.5,904.2 1203.5,904.1 1203.7,894.7 1203.9,900.3 1204.2,918.1 1204.4,941.3 1204.5,957.8 1204.6,963.6 1204.8,981.4 1205.0,992.9 1205.2,1000.3 1205.4,1006.5 1205.6,1014.8 1205.6,1015.1 1205.8,1025.0 1205.8,1026.3 1206.0,1034.8 1206.2,1043.1 1206.4,1050.0 1206.6,1055.1 1206.8,1057.9 1206.8,1058.9 1207.0,1061.8 1207.1,1062.3 1207.2,1062.6 1207.3,1063.6 1207.5,1065.1 1207.7,1066.1 1207.8,1066.5 1207.9,1067.0 1208.1,1067.7 1208.5,1068.4 1208.5,1068.5 1208.8,1068.8 1209.2,1069.0 1209.5,1069.0 1209.8,1069.0 1209.9,1068.8 1210.2,1068.6 1210.6,1068.2 1210.9,1068.2 1211.1,1068.5 1211.2,1068.6 1211.6,1069.1 1211.9,1069.9 1212.3,1070.3 1212.4,1070.6 1212.6,1071.0 1213.0,1071.5 1213.3,1071.5 1213.7,1071.6 1213.8,1071.7 1214.0,1072.0 1214.3,1072.2 1214.7,1072.4 1215.0,1072.3 1215.1,1072.1 1216.4,1072.5 1217.7,1072.6 1219.1,1072.6 1220.4,1072.7 1221.7,1072.5 1223.0,1071.9 1224.1,1071.5 1224.3,1071.1 1224.4,1071.2 1224.7,1070.9 1225.0,1070.2 1225.2,1069.3 1225.5,1068.2 1225.7,1067.5 1225.8,1066.9 1226.1,1065.0 1226.3,1062.5 1226.6,1059.2 1226.9,1055.8 1227.0,1054.5 1227.2,1052.9 1227.4,1051.9 1227.7,1053.2 1228.0,1055.8 1228.3,1059.2 1228.3,1059.8 1228.5,1062.2 1228.8,1065.0 1229.1,1067.1 1229.4,1068.5 1229.6,1069.6 1229.9,1070.4 1230.2,1070.8 1230.5,1071.0 1230.7,1071.2 1231.0,1071.7 1232.3,1072.5 1233.6,1072.8 1234.9,1073.0 1236.2,1073.1 1237.6,1072.9 1238.9,1072.9 1240.2,1072.9 1241.5,1073.2 1242.9,1073.3 1244.2,1073.4 1245.5,1073.5 1246.8,1073.2 1248.1,1073.1 1249.5,1073.0 1250.8,1073.3 1252.1,1073.4 1253.4,1073.3 1254.8,1073.4 1256.1,1073.2 1257.4,1073.4 1258.7,1073.5 1260.1,1073.6 1261.4,1073.6 1262.7,1073.6 1264.0,1073.3 1265.3,1073.4 1266.7,1073.3 1268.0,1073.5 1269.3,1073.6 1270.6,1073.6 1272.0,1073.6 1273.3,1073.4 1274.6,1073.5 1275.9,1073.3 1277.2,1073.5 1278.6,1073.6 1279.9,1073.4 1281.2,1073.5 1282.5,1073.5 1283.9,1073.4 1285.2,1073.5 1286.5,1073.4 1287.8,1073.2 1289.1,1073.2 1290.5,1073.2 1291.8,1073.5 1293.1,1073.6 1294.4,1073.5 1295.8,1073.5 1297.1,1073.4 1298.4,1073.6 1299.7,1073.6 1301.0,1073.7 1302.4,1073.4 1303.7,1073.6 1305.0,1073.4 1306.3,1073.6 1307.7,1073.5 1309.0,1073.3 1310.3,1073.4 1311.6,1073.5 1312.9,1073.4 1314.3,1073.5 1315.6,1073.5 1316.9,1073.4 1318.2,1073.5 1319.6,1073.4 1320.9,1073.5 1322.2,1073.3 1323.5,1073.6 1324.8,1073.5 1326.2,1073.6 1327.5,1073.6 1328.8,1073.6 1330.1,1073.5 1331.5,1073.3 1332.8,1073.5 1334.1,1073.4 1335.4,1073.4 1336.8,1073.6 1338.1,1073.6 1339.4,1073.5 1340.7,1073.4 1342.0,1073.4 1343.4,1073.4 1344.7,1073.3 1345.9,1073.1 1346.0,1073.2 1346.3,1073.4 1346.7,1073.4 1347.1,1073.4 1347.3,1073.3 1347.5,1073.1 1348.0,1072.9 1348.4,1072.5 1348.7,1072.4 1348.8,1072.3 1349.2,1072.0 1349.6,1071.7 1350.0,1071.2 1350.0,1071.1 1350.4,1070.6 1350.9,1070.5 1351.3,1070.9 1351.3,1071.0 1351.7,1071.1 1352.1,1071.5 1352.5,1072.0 1352.6,1072.2 1352.9,1072.4 1353.3,1072.8 1353.7,1073.1 1353.9,1073.1 1354.2,1073.0 1354.6,1073.0 1355.0,1073.0 1355.3,1073.0 1355.4,1073.2 1355.8,1073.4 1356.6,1073.3 1357.9,1073.3 1359.2,1073.5 1360.6,1073.4 1361.9,1073.5 1363.2,1073.5 1364.5,1073.4 1365.8,1073.6 1367.2,1073.4 1368.5,1073.6 1369.8,1073.7 1371.1,1073.5 1372.5,1073.5 1373.8,1073.4 1375.1,1073.7 1376.4,1073.6 1377.7,1073.4 1379.1,1073.4 1380.4,1073.6 1381.7,1073.6 1383.0,1073.7 1384.4,1073.7 1385.7,1073.9 1387.0,1073.8 1388.3,1073.9 1389.6,1073.9 1391.0,1073.8 1392.3,1073.8 1393.6,1073.7 1394.9,1073.8 1396.3,1073.7 1397.6,1073.8 1398.9,1073.8 1400.2,1073.7 1401.5,1073.6 1402.9,1073.5 1404.2,1073.6 1405.5,1073.7 1406.8,1073.7 1408.2,1073.7 1409.5,1073.6 1410.8,1073.4 1412.1,1073.4 1413.4,1073.4 1414.8,1073.5 1416.1,1073.6 1417.4,1073.5 1418.7,1073.4 1420.1,1073.6 1421.4,1073.7 1422.7,1073.5 1424.0,1073.5 1425.4,1073.6 1426.7,1073.6 1428.0,1073.5 1429.3,1073.5 1430.6,1073.8 1432.0,1073.7 1433.3,1073.8 1434.6,1073.8 1435.9,1073.9 1437.3,1073.7 1438.6,1073.5 1439.9,1073.5 1441.2,1073.7 1442.5,1073.8 1443.9,1073.9 1445.2,1073.7 1446.5,1073.8 1447.8,1073.7 1449.2,1073.7 1450.5,1073.5 1450.6,1073.4 1451.0,1073.5 1451.4,1073.3 1451.8,1073.3 1451.8,1073.5 1452.2,1073.4 1452.7,1073.3 1453.1,1073.2 1453.1,1073.1 1453.5,1073.2 1453.9,1072.9 1454.3,1072.8 1454.4,1072.8 1454.7,1072.5 1455.1,1072.5 1455.5,1072.3 1455.8,1072.4 1456.0,1072.3 1456.4,1072.6 1456.8,1072.7 1457.1,1072.9 1457.2,1073.1 1457.6,1073.2 1458.0,1073.4 1458.4,1073.6 1458.4,1073.4 1458.9,1073.3 1459.3,1073.2 1459.7,1073.4 1459.7,1073.7 1460.1,1073.6 1460.5,1073.6 1461.1,1073.7 1462.4,1073.8 1463.7,1073.8 1465.0,1073.9 1466.3,1073.7 1467.7,1073.5 1469.0,1073.4 1470.3,1073.4 1471.6,1073.6 1473.0,1073.7 1474.3,1073.6 1475.6,1073.7 1476.9,1073.8 1478.2,1073.6 1479.6,1073.7 1480.9,1073.8 1482.2,1073.6 1483.5,1073.8 1484.9,1073.9 1486.2,1073.6 1487.5,1073.5 1488.8,1073.5 1490.1,1073.7 1491.5,1073.9 1492.8,1073.7 1494.1,1073.8 1495.4,1073.6 1496.8,1073.7 1498.1,1073.7 1499.4,1073.5 1500.7,1073.7 1502.1,1073.8 1503.4,1073.8 1504.7,1073.6 1506.0,1073.8 1507.3,1073.8 1508.7,1073.6 1510.0,1073.6 1511.3,1073.5 1512.6,1073.4 1513.4,1073.3 1513.8,1073.4 1514.0,1073.5 1514.2,1073.2 1514.6,1073.3 1515.1,1073.1 1515.3,1073.1 1515.5,1073.0 1515.9,1072.6 1516.3,1072.2 1516.6,1072.0 1516.7,1071.6 1517.1,1071.1 1517.5,1070.4 1517.9,1069.8 1517.9,1069.7 1518.4,1069.6 1518.8,1069.7 1519.2,1070.4 1519.2,1070.6 1519.6,1070.9 1520.0,1071.7 1520.4,1072.1 1520.6,1072.2 1520.8,1072.5 1521.3,1072.8 1521.7,1072.8 1521.9,1073.1 1522.1,1073.0 1522.5,1073.1 1522.9,1073.4 1523.2,1073.3 1523.3,1073.5 1524.5,1073.6 1525.9,1073.5 1527.2,1073.4 1528.5,1073.7 1529.8,1073.5 1531.1,1073.7 1532.5,1073.7 1533.8,1073.8 1535.1,1073.8 1536.4,1073.8 1537.8,1073.7 1539.1,1073.8 1540.4,1073.6 1541.7,1073.5 1543.0,1073.7 1544.4,1073.6 1545.7,1073.7 1547.0,1073.7 1548.3,1073.7 1549.7,1073.7 1551.0,1073.8 1552.3,1073.7 1553.6,1073.7 1554.9,1073.6 1556.3,1073.6 1557.6,1073.5 1558.9,1073.4 1560.2,1073.4 1561.6,1073.6 1562.9,1073.7 1564.2,1073.6 1565.5,1073.5 1566.8,1073.6 1568.2,1073.7 1569.5,1073.9 1570.8,1073.7 1572.1,1073.6 1572.9,1073.4 1573.3,1073.3 1573.5,1073.3 1573.7,1073.3 1574.1,1073.1 1574.6,1073.3 1574.8,1073.2 1575.0,1073.4 1575.4,1073.3 1575.8,1073.2 1576.1,1072.8 1576.2,1072.9 1576.6,1072.6 1577.0,1072.5 1577.4,1072.2 1577.5,1072.1 1577.9,1072.0 1578.3,1072.0 1578.7,1072.1 1578.7,1072.4 1579.1,1072.6 1579.5,1073.0 1579.9,1073.1 1580.1,1072.9 1580.3,1073.2 1580.8,1073.1 1581.2,1073.1 1581.4,1073.3 1581.6,1073.3 1582.0,1073.6 1582.4,1073.4 1582.7,1073.6 1582.8,1073.6 1584.0,1073.7 1585.4,1073.5 1586.7,1073.5 1587.2,1073.5 1587.6,1073.5 1588.0,1073.6 1588.1,1073.7 1588.5,1073.5 1588.9,1073.5 1589.3,1073.4 1589.3,1073.4 1589.7,1073.4 1590.1,1073.0 1590.5,1072.7 1590.7,1072.8 1591.0,1072.4 1591.4,1072.1 1591.8,1071.8 1592.0,1071.7 1592.2,1071.8 1592.6,1072.0 1593.0,1072.2 1593.3,1072.3 1593.4,1072.6 1593.8,1072.9 1594.3,1073.1 1594.6,1073.3 1594.7,1073.4 1595.1,1073.5 1595.5,1073.6 1595.9,1073.6 1595.9,1073.7 1596.3,1073.6 1596.7,1073.6 1597.2,1073.6 1597.3,1073.8 1598.6,1073.8 1599.9,1073.6 1601.2,1073.5 1602.6,1073.5 1603.9,1073.7 1605.2,1073.7 1606.5,1073.6 1607.8,1073.5 1609.2,1073.6 1610.5,1073.7 1611.8,1073.8 1613.1,1073.7 1614.5,1073.6 1615.8,1073.4 1617.1,1073.1 1618.4,1073.1 1619.7,1072.7 1620.0,1072.5 1620.3,1072.2 1620.6,1072.2 1620.8,1071.9 1621.1,1071.4 1621.1,1071.4 1621.4,1070.7 1621.7,1069.5 1621.9,1067.9 1622.2,1066.0 1622.4,1065.1 1622.5,1064.3 1622.8,1062.8 1623.0,1062.3 1623.3,1062.7 1623.6,1064.3 1623.7,1065.1 1623.9,1066.2 1624.2,1067.7 1624.4,1069.2 1624.7,1070.3 1625.0,1071.2 1625.0,1071.5 1625.3,1071.8 1625.5,1072.3 1625.8,1072.4 1626.1,1072.8 1626.4,1073.0 1627.7,1073.3 1629.0,1073.4 1630.3,1073.4 1631.6,1073.5 1633.0,1073.7 1634.3,1073.6 1635.6,1073.7 1636.9,1073.8 1638.3,1073.8 1639.6,1073.8 1640.9,1073.7 1642.2,1073.5 1643.5,1073.6 1644.9,1073.7 1646.2,1073.7 1647.5,1073.8 1648.8,1073.6 1650.2,1073.7 1651.5,1073.9 1652.8,1073.7 1654.1,1073.8 1655.4,1073.6 1656.8,1073.8 1658.1,1073.8 1659.4,1073.6 1660.7,1073.5 1662.1,1073.6 1663.4,1073.7 1664.7,1073.5 1666.0,1073.8 1667.4,1073.9 1668.7,1073.8 1670.0,1073.6 1671.3,1073.8 1672.6,1073.7 1674.0,1073.8 1675.3,1073.7 1676.6,1073.6 1677.9,1073.8 1679.3,1073.9 1680.6,1073.7 1681.9,1073.7 1683.2,1073.7 1684.5,1073.8 1685.9,1073.8 1687.2,1073.9 1688.5,1073.9 1689.8,1073.7 1691.2,1073.8 1692.5,1073.7 1693.8,1073.9 1695.1,1073.8 1696.4,1073.9 1697.8,1073.7 1699.1,1073.6 1700.4,1073.7 1701.7,1073.9 1703.1,1073.8 1704.4,1073.6 1705.7,1073.6 1707.0,1073.6 1708.3,1073.7 1709.7,1073.7 1711.0,1073.6 1712.3,1073.6 1713.6,1073.5 1714.5,1073.6 1715.0,1073.6 1715.1,1073.5 1715.6,1073.6 1716.2,1073.4 1716.3,1073.6 1716.7,1073.6 1717.3,1073.6 1717.6,1073.4 1717.8,1073.4 1718.4,1073.4 1718.9,1073.4 1719.5,1073.1 1720.0,1072.6 1720.2,1072.6 1720.6,1072.6 1721.1,1072.7 1721.6,1072.8 1721.7,1072.7 1722.2,1072.8 1722.8,1072.9 1722.9,1073.1 1723.3,1073.1 1723.9,1073.3 1724.2,1073.2 1724.4,1073.3 1725.0,1073.6 1725.5,1073.5 1726.1,1073.6 1726.6,1073.7 1726.9,1073.8 1727.2,1073.8 1727.7,1073.9 1728.2,1073.7 1729.5,1073.6 1730.8,1073.7 1732.1,1073.8 1733.5,1073.9 1734.8,1073.6 1736.1,1073.5 1737.4,1073.6 1738.8,1073.8 1740.1,1074.0 1741.4,1073.9 1742.7,1073.8 1744.0,1073.6 1745.4,1073.7 1746.7,1073.8 1748.0,1073.7 1749.3,1073.8 1750.7,1073.9 1752.0,1073.6 1753.3,1073.8 1754.6,1073.7 1756.0,1073.6 1757.3,1073.5 1758.6,1073.6 1759.9,1073.7"/>
<rect x="989.8" y="705.9" width="770.6000000000001" height="566.6999999999999" fill="none" stroke="#000" stroke-width="2.4" stroke-linejoin="round"/>
<line x1="1044.5" y1="1272.6" x2="1044.5" y2="1260.4" stroke="#000" stroke-width="2.1"/>
<text transform="translate(1034.4,1293.3) scale(0.96,1)" font-size="24.0">20</text>
<line x1="1154.7" y1="1272.6" x2="1154.7" y2="1260.4" stroke="#000" stroke-width="2.1"/>
<text transform="translate(1144.6,1293.3) scale(0.96,1)" font-size="24.0">30</text>
<line x1="1264.9" y1="1272.6" x2="1264.9" y2="1260.4" stroke="#000" stroke-width="2.1"/>
<text transform="translate(1255.1,1293.3) scale(0.96,1)" font-size="24.0">40</text>
<line x1="1375.1" y1="1272.6" x2="1375.1" y2="1260.4" stroke="#000" stroke-width="2.1"/>
<text transform="translate(1364.8,1293.3) scale(0.96,1)" font-size="24.0">50</text>
<line x1="1485.3" y1="1272.6" x2="1485.3" y2="1260.4" stroke="#000" stroke-width="2.1"/>
<text transform="translate(1475.2,1293.3) scale(0.96,1)" font-size="24.0">60</text>
<line x1="1595.5" y1="1272.6" x2="1595.5" y2="1260.4" stroke="#000" stroke-width="2.1"/>
<text transform="translate(1585.2,1293.3) scale(0.96,1)" font-size="24.0">70</text>
<line x1="1705.7" y1="1272.6" x2="1705.7" y2="1260.4" stroke="#000" stroke-width="2.1"/>
<text transform="translate(1695.7,1293.3) scale(0.96,1)" font-size="24.0">80</text>
<line x1="1099.6" y1="1272.6" x2="1099.6" y2="1266.3" stroke="#000" stroke-width="2.1"/>
<line x1="1209.8" y1="1272.6" x2="1209.8" y2="1266.3" stroke="#000" stroke-width="2.1"/>
<line x1="1320.0" y1="1272.6" x2="1320.0" y2="1266.3" stroke="#000" stroke-width="2.1"/>
<line x1="1430.2" y1="1272.6" x2="1430.2" y2="1266.3" stroke="#000" stroke-width="2.1"/>
<line x1="1540.4" y1="1272.6" x2="1540.4" y2="1266.3" stroke="#000" stroke-width="2.1"/>
<line x1="1650.6" y1="1272.6" x2="1650.6" y2="1266.3" stroke="#000" stroke-width="2.1"/>
<text transform="translate(7.7,65.8) scale(1.048,1)" font-size="50.0" font-weight="bold">(a)</text>
<text transform="translate(103.7,50.3) scale(0.995,1)" font-size="35.3">430 °C</text>
<text transform="translate(433.2,56.5) scale(0.964,1)" font-size="25.5">O: α-Mg</text>
<text x="433.2" y="97.9" font-size="33.5">f</text>
<text transform="translate(444.3,96.9) scale(1,0.74)" font-size="19.0" font-weight="900" font-family="'Liberation Serif','Noto Sans CJK SC',sans-serif">：</text>
<text transform="translate(476.4,97.7) scale(0.943,1)" font-size="26.0">Mg</text>
<text x="510.5" y="107.2" font-size="13.0">3</text>
<text transform="translate(517.9,97.7) scale(0.982,1)" font-size="26.0">(Gd, Zn)</text>
<text x="433.5" y="145.0" font-size="34.2">L</text>
<text transform="translate(452.8,144.5) scale(1,0.7)" font-size="21.0" font-weight="900" font-family="'Liberation Serif','Noto Sans CJK SC',sans-serif">：</text>
<text transform="translate(478.8,144.8) scale(0.992,1)" font-size="25.5">LPSO</text>
<rect x="613.9" y="32.7" width="226.1" height="138.2" fill="none" stroke="#222" stroke-width="1.6"/>
<line x1="625.0" y1="51.4" x2="687.5" y2="51.4" stroke="#333" stroke-width="2.0"/>
<text transform="translate(694.5,60.6) scale(1.015,1)" font-size="27.5">430-40-5-2</text>
<line x1="625.0" y1="86.2" x2="687.5" y2="86.2" stroke="#d8444b" stroke-width="2.0"/>
<text transform="translate(694.5,95.4) scale(1.015,1)" font-size="27.5">430-40-10-2</text>
<line x1="625.0" y1="121.0" x2="687.5" y2="121.0" stroke="#4444d4" stroke-width="2.0"/>
<text transform="translate(694.5,130.2) scale(1.015,1)" font-size="27.5">430-45-10</text>
<line x1="625.0" y1="155.5" x2="687.5" y2="155.5" stroke="#3c968d" stroke-width="2.0"/>
<text transform="translate(694.5,164.7) scale(1.015,1)" font-size="27.5">430-50-5</text>
<text transform="translate(75.0,354.4) rotate(-90)" font-size="28.0">Intensity (a.u.)</text>
<text transform="translate(439.6,625.5) scale(1.017,1)" font-size="27.5">2 Theta</text>
<text x="136.3" y="412.9" font-size="26.0">f</text>
<text transform="translate(144.6,424.4) scale(1.194,1)" font-size="13.1" class="s">(111)</text>
<text x="179.0" y="421.0" font-size="26.0">f</text>
<text transform="translate(186.8,432.6) scale(1.175,1)" font-size="13.1" class="s">(200)</text>
<text x="241.1" y="439.3" font-size="28.5">L</text>
<text transform="translate(253.5,398.3) scale(1.062,1)" font-size="26.0">o</text>
<text x="268.0" y="395.1" font-size="28.5">L</text>
<text transform="translate(267.1,408.9) scale(1.194,1)" font-size="13.1" class="s">(100)</text>
<text transform="translate(273.6,177.7) scale(1.045,1)" font-size="17.3" class="s">O</text>
<text transform="translate(287.2,187.0) scale(1.161,1)" font-size="13.1" class="s">(002)</text>
<text transform="translate(317.2,173.2) scale(1.072,1)" font-size="17.5" class="s">O</text>
<text transform="translate(330.1,182.5) scale(1.209,1)" font-size="13.1" class="s">(101)</text>
<text x="250.5" y="320.1" font-size="26.0">f</text>
<text transform="translate(258.1,330.7) scale(1.216,1)" font-size="13.1" class="s">(220)</text>
<line x1="285.3" y1="340.5" x2="306.2" y2="388.8" stroke="#000" stroke-width="1.5"/>
<polygon points="311.0,399.8 301.8,388.5 309.1,385.4" fill="#000"/>
<text x="371.1" y="400.7" font-size="26.0">f</text>
<text transform="translate(378.8,412.3) scale(1.183,1)" font-size="13.1" class="s">(311)</text>
<line x1="385.1" y1="417.6" x2="381.8" y2="439.6" stroke="#000" stroke-width="1.5"/>
<polygon points="380.0,451.5 378.1,437.1 386.0,438.3" fill="#000"/>
<text x="394.3" y="442.3" font-size="25.9">f</text>
<text transform="translate(402.1,451.4) scale(1.084,1)" font-size="13.1" class="s">(222)</text>
<text transform="translate(440.2,404.8) scale(1.092,1)" font-size="17.0" class="s">O</text>
<text transform="translate(453.3,415.3) scale(1.205,1)" font-size="13.1" class="s">(102)</text>
<text x="502.4" y="437.1" font-size="26.0">f</text>
<text transform="translate(510.1,447.9) scale(1.183,1)" font-size="13.1" class="s">(331)</text>
<text transform="translate(547.0,431.1) scale(1.119,1)" font-size="17.0" class="s">O</text>
<text transform="translate(560.7,441.1) scale(1.194,1)" font-size="13.1" class="s">(110)</text>
<text transform="translate(613.0,381.9) scale(1.159,1)" font-size="15.6" class="s">O</text>
<text transform="translate(626.3,392.3) scale(1.183,1)" font-size="13.1" class="s">(013)</text>
<text transform="translate(628.8,445.0) scale(1.065,1)" font-size="16.9" class="s">O</text>
<text transform="translate(642.3,455.0) scale(1.197,1)" font-size="13.1" class="s">(200)</text>
<text x="475.5" y="521.7" font-size="24.5">f</text>
<text transform="translate(482.4,530.9) scale(1.098,1)" font-size="13.1" class="s">(400)</text>
<text transform="translate(690.0,337.1) scale(1.083,1)" font-size="16.9" class="s">O</text>
<text transform="translate(702.6,346.6) scale(1.209,1)" font-size="13.1" class="s">(112)</text>
<line x1="707.3" y1="353.4" x2="683.4" y2="429.2" stroke="#000" stroke-width="1.5"/>
<polygon points="679.8,440.6 680.2,426.0 687.8,428.5" fill="#000"/>
<text transform="translate(721.6,392.1) scale(1.093,1)" font-size="16.7" class="s">O</text>
<text transform="translate(733.7,401.2) scale(1.146,1)" font-size="13.1" class="s">(021)</text>
<line x1="732.2" y1="397.7" x2="705.0" y2="438.0" stroke="#000" stroke-width="1.5"/>
<polygon points="698.3,447.9 702.8,434.1 709.4,438.5" fill="#000"/>
<text transform="translate(721.6,439.1) scale(1.093,1)" font-size="16.7" class="s">O</text>
<text transform="translate(735.1,448.6) scale(1.194,1)" font-size="13.1" class="s">(004)</text>
<text transform="translate(775.7,446.3) scale(1.084,1)" font-size="16.7" class="s">O</text>
<text transform="translate(788.9,456.3) scale(1.194,1)" font-size="13.1" class="s">(202)</text>
<text transform="translate(906.3,64.5) scale(1.042,1)" font-size="50.0" font-weight="bold">(b)</text>
<text x="1007.3" y="55.3" font-size="35.5">450</text>
<text transform="translate(1068.6,37.1) scale(1.087,1)" font-size="23.0">o</text>
<text x="1079.3" y="55.3" font-size="35.5">C</text>
<text transform="translate(1362.8,51.5) scale(0.964,1)" font-size="25.5">O: α-Mg</text>
<text x="1362.8" y="92.9" font-size="33.5">f</text>
<text transform="translate(1373.9,91.9) scale(1,0.74)" font-size="19.0" font-weight="900" font-family="'Liberation Serif','Noto Sans CJK SC',sans-serif">：</text>
<text transform="translate(1406.0,92.7) scale(0.943,1)" font-size="26.0">Mg</text>
<text x="1440.1" y="102.2" font-size="13.0">3</text>
<text transform="translate(1447.5,92.7) scale(0.982,1)" font-size="26.0">(Gd, Zn)</text>
<text x="1363.1" y="140.0" font-size="34.2">L</text>
<text transform="translate(1382.4,139.5) scale(1,0.7)" font-size="21.0" font-weight="900" font-family="'Liberation Serif','Noto Sans CJK SC',sans-serif">：</text>
<text transform="translate(1408.4,139.8) scale(0.992,1)" font-size="25.5">LPSO</text>
<rect x="1544.8" y="24.3" width="202.2" height="138.5" fill="none" stroke="#222" stroke-width="1.6"/>
<line x1="1555.5" y1="43.7" x2="1617.7" y2="43.7" stroke="#333" stroke-width="2.0"/>
<text transform="translate(1625.0,52.9) scale(1.015,1)" font-size="27.5">450-40-5</text>
<line x1="1555.5" y1="78.2" x2="1617.7" y2="78.2" stroke="#d8444b" stroke-width="2.0"/>
<text transform="translate(1625.0,87.4) scale(1.015,1)" font-size="27.5">450-45-5</text>
<line x1="1555.5" y1="112.5" x2="1617.7" y2="112.5" stroke="#4444d4" stroke-width="2.0"/>
<text transform="translate(1625.0,121.7) scale(1.015,1)" font-size="27.5">450-45-10</text>
<line x1="1555.5" y1="147.0" x2="1617.7" y2="147.0" stroke="#3c968d" stroke-width="2.0"/>
<text transform="translate(1625.0,156.2) scale(1.015,1)" font-size="27.5">450-50-5</text>
<text transform="translate(966.4,386.9) rotate(-90)" font-size="28.0">Intensity (a.u.)</text>
<text transform="translate(1334.6,625.0) scale(1.019,1)" font-size="27.5">2 Theta</text>
<text x="1049.1" y="396.2" font-size="26.0">f</text>
<text transform="translate(1056.6,407.2) scale(1.186,1)" font-size="13.1" class="s">(111)</text>
<text x="1101.2" y="411.1" font-size="26.0">f</text>
<text transform="translate(1108.8,421.7) scale(1.186,1)" font-size="13.1" class="s">(200)</text>
<text x="1151.5" y="356.5" font-size="25.5">L</text>
<text transform="translate(1149.3,379.6) scale(1.286,1)" font-size="14.1" class="s">O</text>
<text transform="translate(1161.8,390.6) scale(1.216,1)" font-size="13.1" class="s">(100)</text>
<text transform="translate(1173.0,164.6) scale(0.954,1)" font-size="20.0" class="s">O</text>
<text transform="translate(1186.3,174.4) scale(1.197,1)" font-size="13.1" class="s">(002)</text>
<text transform="translate(1225.9,169.6) scale(0.961,1)" font-size="19.3" class="s">O</text>
<text transform="translate(1239.3,179.8) scale(1.194,1)" font-size="13.1" class="s">(101)</text>
<text x="1147.6" y="215.6" font-size="28.0">f</text>
<text transform="translate(1155.3,226.6) scale(1.201,1)" font-size="13.1" class="s">(220)</text>
<line x1="1183.7" y1="240.4" x2="1209.9" y2="412.5" stroke="#000" stroke-width="1.5"/>
<polygon points="1211.7,424.4 1205.6,411.2 1213.5,410.0" fill="#000"/>
<text x="1273.7" y="412.7" font-size="25.0">f</text>
<text transform="translate(1281.2,423.3) scale(1.238,1)" font-size="13.1" class="s">(311)</text>
<text transform="translate(1331.1,388.1) scale(1.243,1)" font-size="14.7" class="s">O</text>
<text transform="translate(1344.1,398.0) scale(1.220,1)" font-size="13.1" class="s">(102)</text>
<text x="1366.1" y="514.6" font-size="26.0">f</text>
<text transform="translate(1374.9,524.4) scale(1.201,1)" font-size="13.1" class="s">(400)</text>
<text transform="translate(1440.1,412.6) scale(1.200,1)" font-size="14.7" class="s">O</text>
<text transform="translate(1453.0,423.3) scale(1.220,1)" font-size="13.1" class="s">(110)</text>
<text transform="translate(1508.2,377.0) scale(1.247,1)" font-size="15.8" class="s">O</text>
<text transform="translate(1521.7,387.4) scale(1.190,1)" font-size="13.1" class="s">(013)</text>
<text transform="translate(1549.0,282.8) scale(1.111,1)" font-size="16.9" class="s">O</text>
<text transform="translate(1562.9,293.3) scale(1.256,1)" font-size="13.1" class="s">(200)</text>
<line x1="1562.6" y1="299.3" x2="1562.8" y2="425.8" stroke="#000" stroke-width="1.5"/>
<polygon points="1562.8,437.8 1558.8,423.8 1566.8,423.8" fill="#000"/>
<text transform="translate(1565.0,358.1) scale(1.046,1)" font-size="16.9" class="s">O</text>
<text transform="translate(1578.6,366.8) scale(1.161,1)" font-size="13.1" class="s">(112)</text>
<line x1="1589.1" y1="373.5" x2="1580.4" y2="406.4" stroke="#000" stroke-width="1.5"/>
<polygon points="1577.3,418.0 1577.0,403.4 1584.8,405.5" fill="#000"/>
<text transform="translate(1623.9,292.6) scale(1.056,1)" font-size="16.9" class="s">O</text>
<text transform="translate(1636.3,301.8) scale(1.146,1)" font-size="13.1" class="s">(021)</text>
<line x1="1629.4" y1="302.5" x2="1594.7" y2="418.7" stroke="#000" stroke-width="1.5"/>
<polygon points="1591.3,430.2 1591.5,415.6 1599.1,417.9" fill="#000"/>
<text transform="translate(1613.9,411.5) scale(1.065,1)" font-size="16.9" class="s">O</text>
<text transform="translate(1627.6,421.3) scale(1.164,1)" font-size="13.1" class="s">(004)</text>
<text transform="translate(1675.6,432.3) scale(1.074,1)" font-size="16.9" class="s">O</text>
<text transform="translate(1688.7,441.8) scale(1.161,1)" font-size="13.1" class="s">(202)</text>
<text transform="translate(10.8,744.6) scale(1.010,1)" font-size="50.0" font-weight="bold">(c)</text>
<text x="97.5" y="744.7" font-size="34.9">470 °C</text>
<text transform="translate(485.5,774.3) scale(0.964,1)" font-size="25.5">O: α-Mg</text>
<text x="486.1" y="815.2" font-size="34.2">L</text>
<text transform="translate(505.4,814.7) scale(1,0.7)" font-size="21.0" font-weight="900" font-family="'Liberation Serif','Noto Sans CJK SC',sans-serif">：</text>
<text transform="translate(531.4,815.0) scale(0.992,1)" font-size="25.5">LPSO</text>
<rect x="628.6" y="724.1" width="186.0" height="138.7" fill="none" stroke="#222" stroke-width="1.6"/>
<line x1="637.7" y1="778.3" x2="700.5" y2="778.3" stroke="#d8444b" stroke-width="2.0"/>
<text transform="translate(707.9,787.5) scale(1.015,1)" font-size="27.5">470-45-3</text>
<line x1="637.7" y1="812.7" x2="700.5" y2="812.7" stroke="#4444d4" stroke-width="2.0"/>
<text transform="translate(707.9,821.9) scale(1.015,1)" font-size="27.5">470-45-5</text>
<line x1="637.7" y1="847.2" x2="700.5" y2="847.2" stroke="#3c968d" stroke-width="2.0"/>
<text transform="translate(707.9,856.4) scale(1.015,1)" font-size="27.5">470-50-5</text>
<text transform="translate(80.5,1081.4) rotate(-90)" font-size="28.0">Intensity (a.u.)</text>
<text transform="translate(439.6,1317.4) scale(1.019,1)" font-size="27.5">2 Theta</text>
<text x="238.0" y="1040.0" font-size="27.0">L</text>
<text transform="translate(260.6,1028.3) scale(1.236,1)" font-size="15.2" class="s">O</text>
<text transform="translate(274.2,1037.9) scale(1.179,1)" font-size="13.1" class="s">(100)</text>
<text x="268.1" y="1013.3" font-size="27.5">L</text>
<text transform="translate(285.4,877.7) scale(1.163,1)" font-size="16.3" class="s">O</text>
<text transform="translate(299.1,888.1) scale(1.186,1)" font-size="13.1" class="s">(002)</text>
<text transform="translate(321.5,911.6) scale(1.192,1)" font-size="16.3" class="s">O</text>
<text transform="translate(335.2,922.4) scale(1.190,1)" font-size="13.1" class="s">(101)</text>
<text transform="translate(445.1,1052.9) scale(1.264,1)" font-size="15.3" class="s">O</text>
<text transform="translate(458.5,1063.2) scale(1.201,1)" font-size="13.1" class="s">(102)</text>
<text transform="translate(547.3,1063.9) scale(1.131,1)" font-size="16.7" class="s">O</text>
<text transform="translate(561.0,1074.4) scale(1.194,1)" font-size="13.1" class="s">(110)</text>
<text transform="translate(616.0,1045.5) scale(1.163,1)" font-size="16.3" class="s">O</text>
<text transform="translate(629.2,1056.3) scale(1.194,1)" font-size="13.1" class="s">(013)</text>
<text transform="translate(663.8,1042.6) scale(1.063,1)" font-size="17.3" class="s">O</text>
<text transform="translate(677.5,1052.3) scale(1.194,1)" font-size="13.1" class="s">(112)</text>
<text transform="translate(735.7,1010.1) scale(1.186,1)" font-size="15.9" class="s">O</text>
<text transform="translate(748.8,1020.2) scale(1.194,1)" font-size="13.1" class="s">(021)</text>
<line x1="739.2" y1="1019.8" x2="706.0" y2="1065.2" stroke="#000" stroke-width="1.5"/>
<polygon points="698.9,1074.9 703.9,1061.2 710.4,1066.0" fill="#000"/>
<text transform="translate(719.9,1064.3) scale(1.146,1)" font-size="15.9" class="s">O</text>
<text transform="translate(732.9,1074.4) scale(1.194,1)" font-size="13.1" class="s">(004)</text>
<text transform="translate(780.9,1080.2) scale(1.084,1)" font-size="16.7" class="s">O</text>
<text transform="translate(793.9,1090.2) scale(1.197,1)" font-size="13.1" class="s">(202)</text>
<text transform="translate(906.3,754.0) scale(1.042,1)" font-size="50.0" font-weight="bold">(d)</text>
<rect x="1498.8" y="730" width="228.3" height="69.8" fill="none" stroke="#222" stroke-width="1.6"/>
<line x1="1510.3" y1="748.8" x2="1573.4" y2="748.8" stroke="#333" stroke-width="2.0"/>
<text transform="translate(1580.5,758.0) scale(1.015,1)" font-size="27.5">RS1-as-cast</text>
<line x1="1510.3" y1="783.2" x2="1573.4" y2="783.2" stroke="#d8444b" stroke-width="2.0"/>
<text transform="translate(1580.5,792.4) scale(1.015,1)" font-size="27.5">RS1-ribbons</text>
<text transform="translate(1542.7,853.2) scale(0.964,1)" font-size="25.5">O: α-Mg</text>
<text x="1543.0" y="894.1" font-size="33.5">f</text>
<text transform="translate(1554.1,893.1) scale(1,0.74)" font-size="19.0" font-weight="900" font-family="'Liberation Serif','Noto Sans CJK SC',sans-serif">：</text>
<text transform="translate(1586.2,893.9) scale(0.943,1)" font-size="26.0">Mg</text>
<text x="1620.3" y="903.4" font-size="13.0">3</text>
<text transform="translate(1627.7,893.9) scale(0.982,1)" font-size="26.0">(Gd, Zn)</text>
<text transform="translate(966.4,1064.1) rotate(-90)" font-size="28.0">Intensity (a.u.)</text>
<text transform="translate(1336.1,1316.0) scale(1.018,1)" font-size="27.5">2 Theta</text>
<text x="1051.9" y="1059.5" font-size="26.7">f</text>
<text transform="translate(1060.2,1069.8) scale(1.161,1)" font-size="13.1" class="s">(111)</text>
<text transform="translate(1170.8,872.6) scale(1.047,1)" font-size="16.4" class="s">O</text>
<text transform="translate(1183.4,883.3) scale(1.194,1)" font-size="13.1" class="s">(002)</text>
<text x="1223.7" y="857.8" font-size="18.3" class="s">O</text>
<text transform="translate(1236.9,867.6) scale(1.186,1)" font-size="13.1" class="s">(101)</text>
<text x="1153.7" y="1038.8" font-size="26.6">f</text>
<text transform="translate(1162.0,1050.3) scale(1.197,1)" font-size="13.1" class="s">(220)</text>
<line x1="1190.5" y1="1055.1" x2="1201.8" y2="1060.7" stroke="#000" stroke-width="1.5"/>
<polygon points="1210.7,1065.2 1198.4,1063.0 1201.5,1056.7" fill="#000"/>
<text transform="translate(1152.7,1108.8) scale(1.067,1)" font-size="16.3" class="s">O</text>
<text transform="translate(1164.8,1118.1) scale(1.216,1)" font-size="13.1" class="s">(100)</text>
<text x="1088.8" y="1173.9" font-size="28.0">f</text>
<text transform="translate(1097.8,1184.1) scale(1.212,1)" font-size="13.1" class="s">(200)</text>
<text transform="translate(1348.4,942.9) scale(0.958,1)" font-size="18.3" class="s">O</text>
<text transform="translate(1361.7,952.4) scale(1.183,1)" font-size="13.1" class="s">(102)</text>
<text transform="translate(1443.0,1054.4) scale(0.957,1)" font-size="18.1" class="s">O</text>
<text transform="translate(1456.5,1063.5) scale(1.183,1)" font-size="13.1" class="s">(110)</text>
<text transform="translate(1513.2,1058.7) scale(1.120,1)" font-size="15.5" class="s">O</text>
<text transform="translate(1526.0,1068.9) scale(1.194,1)" font-size="13.1" class="s">(013)</text>
<text transform="translate(1618.4,1049.2) scale(1.097,1)" font-size="16.1" class="s">O</text>
<text transform="translate(1631.3,1059.8) scale(1.179,1)" font-size="13.1" class="s">(004)</text>
<text transform="translate(1569.5,1096.7) scale(1.132,1)" font-size="15.3" class="s">O</text>
<text transform="translate(1582.8,1107.0) scale(1.186,1)" font-size="13.1" class="s">(112)</text>
<text transform="translate(1590.6,1163.0) scale(1.084,1)" font-size="16.7" class="s">O</text>
<text transform="translate(1603.8,1173.2) scale(1.194,1)" font-size="13.1" class="s">(021)</text>
</svg>
</body></html>
